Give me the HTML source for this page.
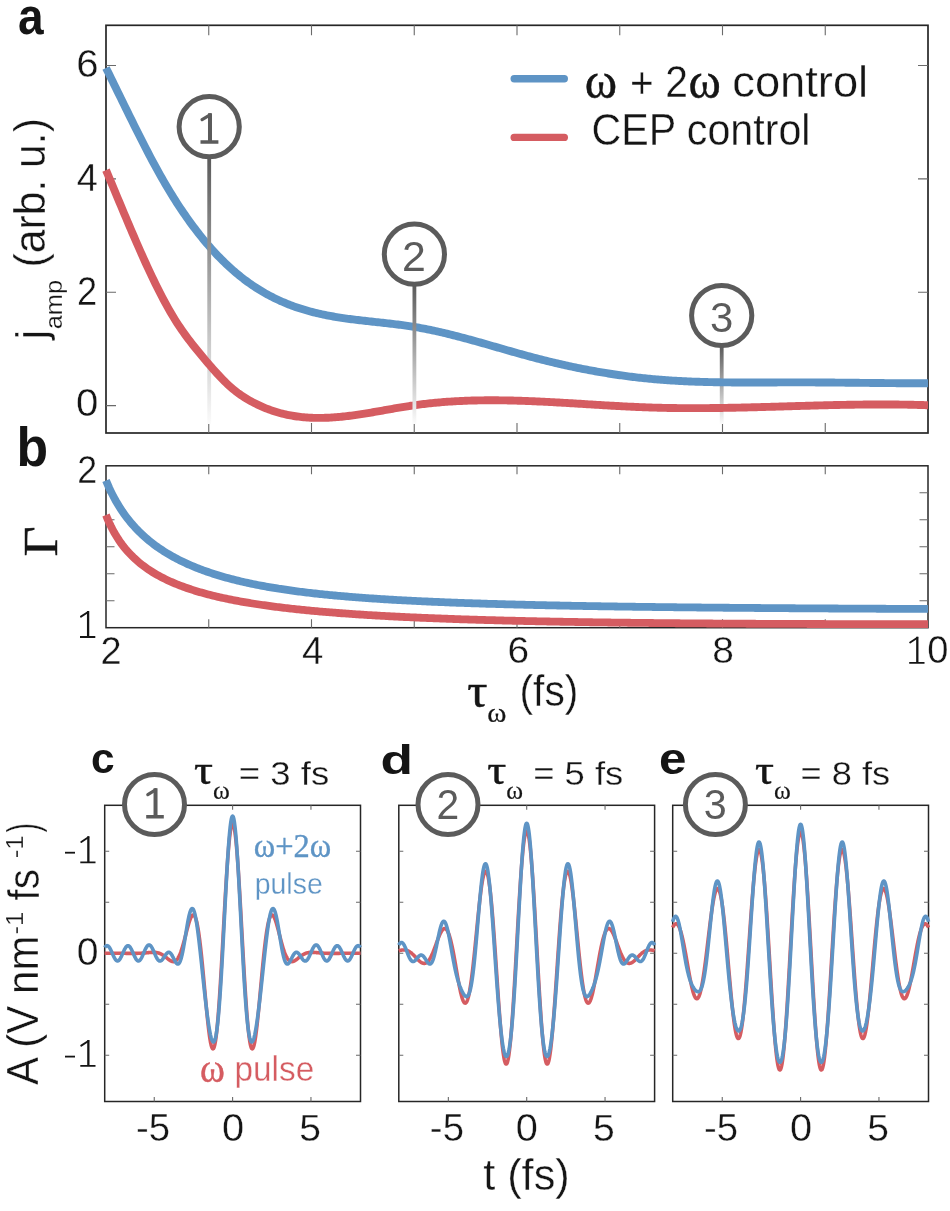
<!DOCTYPE html>
<html><head><meta charset="utf-8"><title>figure</title>
<style>html,body{margin:0;padding:0;background:#fff;width:950px;height:1211px;overflow:hidden}svg{display:block}</style>
</head><body>
<svg width="950" height="1211" viewBox="0 0 950 1211">
<defs>
<filter id="nf"><feOffset dx="0" dy="0"/></filter>
<linearGradient id="stemA" x1="0" y1="0" x2="0" y2="1"><stop offset="0" stop-color="#5b5b5b"/><stop offset="1" stop-color="#fbfbfb"/></linearGradient>
<clipPath id="clipc"><rect x="102.7" y="805.3" width="259.8" height="296.3"/></clipPath>
<clipPath id="clipd"><rect x="396.8" y="805.3" width="259.8" height="296.3"/></clipPath>
<clipPath id="clipe"><rect x="670.7" y="805.3" width="259.8" height="296.3"/></clipPath>
</defs>
<rect x="0" y="0" width="950" height="1211" fill="#fff"/>
<rect x="106.0" y="25.3" width="822.0" height="407.7" fill="none" stroke="#262626" stroke-width="1.7"/>
<path d="M208.75 25.3 v10 M208.75 433.0 v-10 M311.50 25.3 v10 M311.50 433.0 v-10 M414.25 25.3 v10 M414.25 433.0 v-10 M517.00 25.3 v10 M517.00 433.0 v-10 M619.75 25.3 v10 M619.75 433.0 v-10 M722.50 25.3 v10 M722.50 433.0 v-10 M825.25 25.3 v10 M825.25 433.0 v-10 M106.0 405.60 h10 M928.0 405.60 h-10 M106.0 292.23 h10 M928.0 292.23 h-10 M106.0 178.87 h10 M928.0 178.87 h-10 M106.0 65.50 h10 M928.0 65.50 h-10" stroke="#6a6a6a" stroke-width="1.1" fill="none"/>
<rect x="719.80" y="346.50" width="3.8" height="77.50" fill="url(#stemA)"/>
<path d="M 106.00 67.94 L 107.65 71.27 L 109.29 74.60 L 110.94 77.95 L 112.59 81.30 L 114.24 84.66 L 115.88 88.02 L 117.53 91.39 L 119.18 94.76 L 120.83 98.13 L 122.47 101.50 L 124.12 104.87 L 125.77 108.23 L 127.41 111.59 L 129.06 114.94 L 130.71 118.28 L 132.36 121.62 L 134.00 124.94 L 135.65 128.25 L 137.30 131.54 L 138.95 134.82 L 140.59 138.08 L 142.24 141.33 L 143.89 144.55 L 145.54 147.75 L 147.18 150.93 L 148.83 154.09 L 150.48 157.22 L 152.12 160.32 L 153.77 163.39 L 155.42 166.43 L 157.07 169.44 L 158.71 172.42 L 160.36 175.36 L 162.01 178.27 L 163.66 181.14 L 165.30 183.97 L 166.95 186.76 L 168.60 189.52 L 170.24 192.24 L 171.89 194.93 L 173.54 197.57 L 175.19 200.18 L 176.83 202.76 L 178.48 205.29 L 180.13 207.80 L 181.78 210.26 L 183.42 212.70 L 185.07 215.09 L 186.72 217.45 L 188.36 219.78 L 190.01 222.07 L 191.66 224.33 L 193.31 226.55 L 194.95 228.74 L 196.60 230.90 L 198.25 233.02 L 199.90 235.10 L 201.54 237.16 L 203.19 239.18 L 204.84 241.17 L 206.48 243.12 L 208.13 245.05 L 209.78 246.94 L 211.43 248.80 L 213.07 250.62 L 214.72 252.42 L 216.37 254.18 L 218.02 255.91 L 219.66 257.61 L 221.31 259.28 L 222.96 260.92 L 224.61 262.53 L 226.25 264.11 L 227.90 265.65 L 229.55 267.17 L 231.19 268.66 L 232.84 270.11 L 234.49 271.54 L 236.14 272.94 L 237.78 274.31 L 239.43 275.66 L 241.08 276.97 L 242.73 278.26 L 244.37 279.52 L 246.02 280.75 L 247.67 281.96 L 249.31 283.14 L 250.96 284.29 L 252.61 285.42 L 254.26 286.52 L 255.90 287.60 L 257.55 288.66 L 259.20 289.69 L 260.85 290.69 L 262.49 291.68 L 264.14 292.64 L 265.79 293.57 L 267.43 294.49 L 269.08 295.38 L 270.73 296.25 L 272.38 297.10 L 274.02 297.93 L 275.67 298.73 L 277.32 299.52 L 278.97 300.29 L 280.61 301.03 L 282.26 301.76 L 283.91 302.47 L 285.56 303.16 L 287.20 303.83 L 288.85 304.48 L 290.50 305.12 L 292.14 305.73 L 293.79 306.34 L 295.44 306.92 L 297.09 307.49 L 298.73 308.04 L 300.38 308.57 L 302.03 309.09 L 303.68 309.60 L 305.32 310.09 L 306.97 310.57 L 308.62 311.03 L 310.26 311.48 L 311.91 311.91 L 313.56 312.33 L 315.21 312.74 L 316.85 313.14 L 318.50 313.53 L 320.15 313.90 L 321.80 314.26 L 323.44 314.61 L 325.09 314.95 L 326.74 315.28 L 328.38 315.60 L 330.03 315.91 L 331.68 316.21 L 333.33 316.51 L 334.97 316.79 L 336.62 317.06 L 338.27 317.33 L 339.92 317.59 L 341.56 317.84 L 343.21 318.09 L 344.86 318.33 L 346.51 318.56 L 348.15 318.79 L 349.80 319.01 L 351.45 319.22 L 353.09 319.44 L 354.74 319.64 L 356.39 319.84 L 358.04 320.04 L 359.68 320.24 L 361.33 320.43 L 362.98 320.62 L 364.63 320.80 L 366.27 320.99 L 367.92 321.17 L 369.57 321.35 L 371.21 321.53 L 372.86 321.71 L 374.51 321.88 L 376.16 322.06 L 377.80 322.24 L 379.45 322.42 L 381.10 322.60 L 382.75 322.78 L 384.39 322.96 L 386.04 323.14 L 387.69 323.33 L 389.33 323.52 L 390.98 323.71 L 392.63 323.90 L 394.28 324.10 L 395.92 324.30 L 397.57 324.51 L 399.22 324.72 L 400.87 324.93 L 402.51 325.16 L 404.16 325.38 L 405.81 325.61 L 407.45 325.85 L 409.10 326.10 L 410.75 326.35 L 412.40 326.61 L 414.04 326.87 L 415.69 327.15 L 417.34 327.43 L 418.99 327.72 L 420.63 328.02 L 422.28 328.32 L 423.93 328.64 L 425.58 328.96 L 427.22 329.28 L 428.87 329.62 L 430.52 329.96 L 432.16 330.30 L 433.81 330.65 L 435.46 331.01 L 437.11 331.38 L 438.75 331.75 L 440.40 332.12 L 442.05 332.50 L 443.70 332.89 L 445.34 333.28 L 446.99 333.68 L 448.64 334.08 L 450.28 334.49 L 451.93 334.90 L 453.58 335.31 L 455.23 335.73 L 456.87 336.15 L 458.52 336.58 L 460.17 337.01 L 461.82 337.45 L 463.46 337.89 L 465.11 338.33 L 466.76 338.77 L 468.40 339.22 L 470.05 339.67 L 471.70 340.12 L 473.35 340.58 L 474.99 341.03 L 476.64 341.49 L 478.29 341.96 L 479.94 342.42 L 481.58 342.89 L 483.23 343.35 L 484.88 343.82 L 486.53 344.29 L 488.17 344.76 L 489.82 345.23 L 491.47 345.70 L 493.11 346.18 L 494.76 346.65 L 496.41 347.12 L 498.06 347.60 L 499.70 348.07 L 501.35 348.54 L 503.00 349.02 L 504.65 349.49 L 506.29 349.96 L 507.94 350.43 L 509.59 350.90 L 511.23 351.37 L 512.88 351.84 L 514.53 352.30 L 516.18 352.77 L 517.82 353.23 L 519.47 353.69 L 521.12 354.15 L 522.77 354.60 L 524.41 355.06 L 526.06 355.51 L 527.71 355.96 L 529.35 356.40 L 531.00 356.84 L 532.65 357.28 L 534.30 357.72 L 535.94 358.15 L 537.59 358.58 L 539.24 359.01 L 540.89 359.43 L 542.53 359.84 L 544.18 360.26 L 545.83 360.67 L 547.47 361.08 L 549.12 361.48 L 550.77 361.88 L 552.42 362.28 L 554.06 362.67 L 555.71 363.06 L 557.36 363.44 L 559.01 363.82 L 560.65 364.20 L 562.30 364.58 L 563.95 364.95 L 565.60 365.31 L 567.24 365.67 L 568.89 366.03 L 570.54 366.39 L 572.18 366.74 L 573.83 367.09 L 575.48 367.43 L 577.13 367.77 L 578.77 368.11 L 580.42 368.44 L 582.07 368.77 L 583.72 369.09 L 585.36 369.41 L 587.01 369.73 L 588.66 370.04 L 590.30 370.35 L 591.95 370.65 L 593.60 370.95 L 595.25 371.25 L 596.89 371.54 L 598.54 371.83 L 600.19 372.12 L 601.84 372.40 L 603.48 372.68 L 605.13 372.95 L 606.78 373.22 L 608.42 373.48 L 610.07 373.74 L 611.72 374.00 L 613.37 374.25 L 615.01 374.50 L 616.66 374.75 L 618.31 374.99 L 619.96 375.22 L 621.60 375.46 L 623.25 375.68 L 624.90 375.91 L 626.55 376.13 L 628.19 376.34 L 629.84 376.56 L 631.49 376.76 L 633.13 376.97 L 634.78 377.17 L 636.43 377.36 L 638.08 377.55 L 639.72 377.74 L 641.37 377.92 L 643.02 378.10 L 644.67 378.27 L 646.31 378.44 L 647.96 378.60 L 649.61 378.77 L 651.25 378.92 L 652.90 379.07 L 654.55 379.22 L 656.20 379.36 L 657.84 379.50 L 659.49 379.64 L 661.14 379.77 L 662.79 379.90 L 664.43 380.02 L 666.08 380.14 L 667.73 380.26 L 669.37 380.37 L 671.02 380.48 L 672.67 380.58 L 674.32 380.68 L 675.96 380.78 L 677.61 380.88 L 679.26 380.97 L 680.91 381.05 L 682.55 381.14 L 684.20 381.22 L 685.85 381.30 L 687.49 381.37 L 689.14 381.45 L 690.79 381.51 L 692.44 381.58 L 694.08 381.64 L 695.73 381.70 L 697.38 381.76 L 699.03 381.82 L 700.67 381.87 L 702.32 381.92 L 703.97 381.96 L 705.62 382.01 L 707.26 382.05 L 708.91 382.09 L 710.56 382.13 L 712.20 382.16 L 713.85 382.20 L 715.50 382.23 L 717.15 382.26 L 718.79 382.29 L 720.44 382.31 L 722.09 382.33 L 723.74 382.36 L 725.38 382.38 L 727.03 382.39 L 728.68 382.41 L 730.32 382.42 L 731.97 382.44 L 733.62 382.45 L 735.27 382.46 L 736.91 382.47 L 738.56 382.48 L 740.21 382.48 L 741.86 382.49 L 743.50 382.49 L 745.15 382.50 L 746.80 382.50 L 748.44 382.50 L 750.09 382.50 L 751.74 382.50 L 753.39 382.50 L 755.03 382.50 L 756.68 382.49 L 758.33 382.49 L 759.98 382.49 L 761.62 382.48 L 763.27 382.48 L 764.92 382.47 L 766.57 382.47 L 768.21 382.46 L 769.86 382.45 L 771.51 382.45 L 773.15 382.44 L 774.80 382.44 L 776.45 382.43 L 778.10 382.42 L 779.74 382.42 L 781.39 382.41 L 783.04 382.41 L 784.69 382.40 L 786.33 382.40 L 787.98 382.39 L 789.63 382.39 L 791.27 382.39 L 792.92 382.38 L 794.57 382.38 L 796.22 382.38 L 797.86 382.38 L 799.51 382.38 L 801.16 382.38 L 802.81 382.38 L 804.45 382.39 L 806.10 382.39 L 807.75 382.40 L 809.39 382.40 L 811.04 382.41 L 812.69 382.41 L 814.34 382.42 L 815.98 382.43 L 817.63 382.44 L 819.28 382.45 L 820.93 382.46 L 822.57 382.47 L 824.22 382.48 L 825.87 382.50 L 827.52 382.51 L 829.16 382.52 L 830.81 382.53 L 832.46 382.55 L 834.10 382.56 L 835.75 382.58 L 837.40 382.59 L 839.05 382.61 L 840.69 382.63 L 842.34 382.64 L 843.99 382.66 L 845.64 382.68 L 847.28 382.69 L 848.93 382.71 L 850.58 382.73 L 852.22 382.74 L 853.87 382.76 L 855.52 382.78 L 857.17 382.80 L 858.81 382.82 L 860.46 382.83 L 862.11 382.85 L 863.76 382.87 L 865.40 382.89 L 867.05 382.90 L 868.70 382.92 L 870.34 382.94 L 871.99 382.96 L 873.64 382.97 L 875.29 382.99 L 876.93 383.01 L 878.58 383.02 L 880.23 383.04 L 881.88 383.06 L 883.52 383.07 L 885.17 383.09 L 886.82 383.10 L 888.46 383.11 L 890.11 383.13 L 891.76 383.14 L 893.41 383.15 L 895.05 383.17 L 896.70 383.18 L 898.35 383.19 L 900.00 383.20 L 901.64 383.21 L 903.29 383.22 L 904.94 383.23 L 906.59 383.24 L 908.23 383.24 L 909.88 383.25 L 911.53 383.25 L 913.17 383.26 L 914.82 383.26 L 916.47 383.27 L 918.12 383.27 L 919.76 383.27 L 921.41 383.27 L 923.06 383.27 L 924.71 383.27 L 926.35 383.27 L 928.00 383.26" stroke="#5e94c5" stroke-width="7.9" fill="none"/>
<rect x="207.30" y="157.70" width="3.8" height="266.30" fill="url(#stemA)"/>
<path d="M 106.00 170.12 L 107.65 174.04 L 109.29 177.97 L 110.94 181.90 L 112.59 185.84 L 114.24 189.78 L 115.88 193.73 L 117.53 197.67 L 119.18 201.61 L 120.83 205.55 L 122.47 209.48 L 124.12 213.41 L 125.77 217.32 L 127.41 221.22 L 129.06 225.11 L 130.71 228.98 L 132.36 232.83 L 134.00 236.66 L 135.65 240.47 L 137.30 244.26 L 138.95 248.02 L 140.59 251.75 L 142.24 255.45 L 143.89 259.11 L 145.54 262.75 L 147.18 266.34 L 148.83 269.90 L 150.48 273.42 L 152.12 276.89 L 153.77 280.32 L 155.42 283.71 L 157.07 287.04 L 158.71 290.33 L 160.36 293.56 L 162.01 296.74 L 163.66 299.86 L 165.30 302.92 L 166.95 305.93 L 168.60 308.87 L 170.24 311.74 L 171.89 314.55 L 173.54 317.29 L 175.19 319.96 L 176.83 322.56 L 178.48 325.09 L 180.13 327.55 L 181.78 329.96 L 183.42 332.31 L 185.07 334.61 L 186.72 336.86 L 188.36 339.06 L 190.01 341.22 L 191.66 343.35 L 193.31 345.45 L 194.95 347.51 L 196.60 349.55 L 198.25 351.58 L 199.90 353.58 L 201.54 355.57 L 203.19 357.54 L 204.84 359.51 L 206.48 361.45 L 208.13 363.38 L 209.78 365.30 L 211.43 367.19 L 213.07 369.06 L 214.72 370.91 L 216.37 372.73 L 218.02 374.53 L 219.66 376.29 L 221.31 378.01 L 222.96 379.70 L 224.61 381.35 L 226.25 382.96 L 227.90 384.52 L 229.55 386.04 L 231.19 387.51 L 232.84 388.92 L 234.49 390.28 L 236.14 391.58 L 237.78 392.83 L 239.43 394.03 L 241.08 395.18 L 242.73 396.29 L 244.37 397.35 L 246.02 398.38 L 247.67 399.37 L 249.31 400.32 L 250.96 401.25 L 252.61 402.15 L 254.26 403.01 L 255.90 403.85 L 257.55 404.66 L 259.20 405.44 L 260.85 406.20 L 262.49 406.92 L 264.14 407.62 L 265.79 408.29 L 267.43 408.94 L 269.08 409.56 L 270.73 410.15 L 272.38 410.72 L 274.02 411.27 L 275.67 411.79 L 277.32 412.29 L 278.97 412.76 L 280.61 413.21 L 282.26 413.63 L 283.91 414.04 L 285.56 414.42 L 287.20 414.78 L 288.85 415.12 L 290.50 415.43 L 292.14 415.73 L 293.79 416.00 L 295.44 416.26 L 297.09 416.49 L 298.73 416.71 L 300.38 416.91 L 302.03 417.08 L 303.68 417.24 L 305.32 417.39 L 306.97 417.51 L 308.62 417.62 L 310.26 417.71 L 311.91 417.78 L 313.56 417.84 L 315.21 417.88 L 316.85 417.91 L 318.50 417.92 L 320.15 417.92 L 321.80 417.90 L 323.44 417.87 L 325.09 417.82 L 326.74 417.76 L 328.38 417.69 L 330.03 417.61 L 331.68 417.51 L 333.33 417.41 L 334.97 417.29 L 336.62 417.16 L 338.27 417.02 L 339.92 416.87 L 341.56 416.71 L 343.21 416.54 L 344.86 416.36 L 346.51 416.17 L 348.15 415.97 L 349.80 415.77 L 351.45 415.55 L 353.09 415.33 L 354.74 415.11 L 356.39 414.87 L 358.04 414.63 L 359.68 414.39 L 361.33 414.13 L 362.98 413.88 L 364.63 413.62 L 366.27 413.35 L 367.92 413.08 L 369.57 412.80 L 371.21 412.53 L 372.86 412.25 L 374.51 411.96 L 376.16 411.68 L 377.80 411.39 L 379.45 411.10 L 381.10 410.81 L 382.75 410.52 L 384.39 410.23 L 386.04 409.93 L 387.69 409.64 L 389.33 409.35 L 390.98 409.06 L 392.63 408.77 L 394.28 408.48 L 395.92 408.20 L 397.57 407.92 L 399.22 407.64 L 400.87 407.36 L 402.51 407.09 L 404.16 406.82 L 405.81 406.55 L 407.45 406.29 L 409.10 406.03 L 410.75 405.78 L 412.40 405.54 L 414.04 405.30 L 415.69 405.07 L 417.34 404.84 L 418.99 404.62 L 420.63 404.41 L 422.28 404.20 L 423.93 404.00 L 425.58 403.80 L 427.22 403.62 L 428.87 403.43 L 430.52 403.26 L 432.16 403.08 L 433.81 402.92 L 435.46 402.76 L 437.11 402.60 L 438.75 402.46 L 440.40 402.31 L 442.05 402.18 L 443.70 402.04 L 445.34 401.92 L 446.99 401.79 L 448.64 401.68 L 450.28 401.57 L 451.93 401.46 L 453.58 401.36 L 455.23 401.26 L 456.87 401.17 L 458.52 401.09 L 460.17 401.01 L 461.82 400.93 L 463.46 400.86 L 465.11 400.79 L 466.76 400.73 L 468.40 400.67 L 470.05 400.61 L 471.70 400.56 L 473.35 400.52 L 474.99 400.48 L 476.64 400.44 L 478.29 400.41 L 479.94 400.38 L 481.58 400.35 L 483.23 400.33 L 484.88 400.32 L 486.53 400.30 L 488.17 400.29 L 489.82 400.29 L 491.47 400.28 L 493.11 400.29 L 494.76 400.29 L 496.41 400.30 L 498.06 400.31 L 499.70 400.33 L 501.35 400.34 L 503.00 400.36 L 504.65 400.39 L 506.29 400.42 L 507.94 400.45 L 509.59 400.48 L 511.23 400.52 L 512.88 400.56 L 514.53 400.60 L 516.18 400.64 L 517.82 400.69 L 519.47 400.74 L 521.12 400.79 L 522.77 400.85 L 524.41 400.90 L 526.06 400.96 L 527.71 401.02 L 529.35 401.09 L 531.00 401.15 L 532.65 401.22 L 534.30 401.29 L 535.94 401.36 L 537.59 401.44 L 539.24 401.51 L 540.89 401.59 L 542.53 401.67 L 544.18 401.75 L 545.83 401.83 L 547.47 401.92 L 549.12 402.00 L 550.77 402.09 L 552.42 402.18 L 554.06 402.26 L 555.71 402.35 L 557.36 402.45 L 559.01 402.54 L 560.65 402.63 L 562.30 402.73 L 563.95 402.82 L 565.60 402.92 L 567.24 403.02 L 568.89 403.11 L 570.54 403.21 L 572.18 403.31 L 573.83 403.41 L 575.48 403.51 L 577.13 403.61 L 578.77 403.71 L 580.42 403.81 L 582.07 403.91 L 583.72 404.01 L 585.36 404.12 L 587.01 404.22 L 588.66 404.32 L 590.30 404.42 L 591.95 404.52 L 593.60 404.62 L 595.25 404.72 L 596.89 404.82 L 598.54 404.92 L 600.19 405.02 L 601.84 405.12 L 603.48 405.22 L 605.13 405.32 L 606.78 405.41 L 608.42 405.51 L 610.07 405.60 L 611.72 405.70 L 613.37 405.79 L 615.01 405.88 L 616.66 405.97 L 618.31 406.06 L 619.96 406.15 L 621.60 406.24 L 623.25 406.33 L 624.90 406.41 L 626.55 406.49 L 628.19 406.58 L 629.84 406.66 L 631.49 406.74 L 633.13 406.81 L 634.78 406.89 L 636.43 406.96 L 638.08 407.03 L 639.72 407.10 L 641.37 407.17 L 643.02 407.23 L 644.67 407.30 L 646.31 407.36 L 647.96 407.42 L 649.61 407.47 L 651.25 407.53 L 652.90 407.58 L 654.55 407.63 L 656.20 407.67 L 657.84 407.72 L 659.49 407.76 L 661.14 407.80 L 662.79 407.84 L 664.43 407.87 L 666.08 407.91 L 667.73 407.94 L 669.37 407.96 L 671.02 407.99 L 672.67 408.02 L 674.32 408.04 L 675.96 408.06 L 677.61 408.08 L 679.26 408.09 L 680.91 408.11 L 682.55 408.12 L 684.20 408.13 L 685.85 408.14 L 687.49 408.15 L 689.14 408.15 L 690.79 408.16 L 692.44 408.16 L 694.08 408.16 L 695.73 408.16 L 697.38 408.15 L 699.03 408.15 L 700.67 408.14 L 702.32 408.13 L 703.97 408.12 L 705.62 408.11 L 707.26 408.10 L 708.91 408.09 L 710.56 408.07 L 712.20 408.05 L 713.85 408.04 L 715.50 408.02 L 717.15 408.00 L 718.79 407.97 L 720.44 407.95 L 722.09 407.93 L 723.74 407.90 L 725.38 407.87 L 727.03 407.85 L 728.68 407.82 L 730.32 407.79 L 731.97 407.76 L 733.62 407.72 L 735.27 407.69 L 736.91 407.66 L 738.56 407.62 L 740.21 407.59 L 741.86 407.55 L 743.50 407.51 L 745.15 407.48 L 746.80 407.44 L 748.44 407.40 L 750.09 407.36 L 751.74 407.32 L 753.39 407.27 L 755.03 407.23 L 756.68 407.19 L 758.33 407.15 L 759.98 407.10 L 761.62 407.06 L 763.27 407.01 L 764.92 406.97 L 766.57 406.92 L 768.21 406.88 L 769.86 406.83 L 771.51 406.78 L 773.15 406.74 L 774.80 406.69 L 776.45 406.64 L 778.10 406.59 L 779.74 406.54 L 781.39 406.50 L 783.04 406.45 L 784.69 406.40 L 786.33 406.35 L 787.98 406.30 L 789.63 406.26 L 791.27 406.21 L 792.92 406.16 L 794.57 406.11 L 796.22 406.06 L 797.86 406.01 L 799.51 405.97 L 801.16 405.92 L 802.81 405.87 L 804.45 405.83 L 806.10 405.78 L 807.75 405.73 L 809.39 405.69 L 811.04 405.64 L 812.69 405.60 L 814.34 405.55 L 815.98 405.51 L 817.63 405.46 L 819.28 405.42 L 820.93 405.38 L 822.57 405.34 L 824.22 405.29 L 825.87 405.25 L 827.52 405.21 L 829.16 405.17 L 830.81 405.14 L 832.46 405.10 L 834.10 405.06 L 835.75 405.02 L 837.40 404.99 L 839.05 404.95 L 840.69 404.92 L 842.34 404.89 L 843.99 404.86 L 845.64 404.83 L 847.28 404.80 L 848.93 404.77 L 850.58 404.74 L 852.22 404.71 L 853.87 404.69 L 855.52 404.67 L 857.17 404.64 L 858.81 404.62 L 860.46 404.60 L 862.11 404.58 L 863.76 404.57 L 865.40 404.55 L 867.05 404.53 L 868.70 404.52 L 870.34 404.51 L 871.99 404.50 L 873.64 404.49 L 875.29 404.48 L 876.93 404.48 L 878.58 404.47 L 880.23 404.47 L 881.88 404.47 L 883.52 404.47 L 885.17 404.47 L 886.82 404.48 L 888.46 404.48 L 890.11 404.49 L 891.76 404.50 L 893.41 404.51 L 895.05 404.52 L 896.70 404.54 L 898.35 404.56 L 900.00 404.58 L 901.64 404.60 L 903.29 404.62 L 904.94 404.65 L 906.59 404.67 L 908.23 404.70 L 909.88 404.73 L 911.53 404.77 L 913.17 404.80 L 914.82 404.84 L 916.47 404.88 L 918.12 404.93 L 919.76 404.97 L 921.41 405.02 L 923.06 405.07 L 924.71 405.12 L 926.35 405.18 L 928.00 405.23" stroke="#d55c61" stroke-width="7.9" fill="none"/>
<rect x="412.50" y="285.20" width="3.8" height="138.80" fill="url(#stemA)"/>
<circle cx="209.2" cy="126.7" r="30.1" fill="#fff" stroke="#5b5b5b" stroke-width="5"/>
<circle cx="414.4" cy="254.2" r="30.1" fill="#fff" stroke="#5b5b5b" stroke-width="5"/>
<circle cx="721.7" cy="315.5" r="30.1" fill="#fff" stroke="#5b5b5b" stroke-width="5"/>
<path d="M514.2 78.7 H564.3" stroke="#5e94c5" stroke-width="7.4" stroke-linecap="round"/>
<path d="M514.2 137.4 H564.3" stroke="#d55c61" stroke-width="7.4" stroke-linecap="round"/>
<rect x="106.0" y="465.8" width="822.0" height="161.90000000000003" fill="none" stroke="#262626" stroke-width="1.5"/>
<path d="M208.75 465.8 v8.5 M208.75 627.7 v-8.5 M311.50 465.8 v8.5 M311.50 627.7 v-8.5 M414.25 465.8 v8.5 M414.25 627.7 v-8.5 M517.00 465.8 v8.5 M517.00 627.7 v-8.5 M619.75 465.8 v8.5 M619.75 627.7 v-8.5 M722.50 465.8 v8.5 M722.50 627.7 v-8.5 M825.25 465.8 v8.5 M825.25 627.7 v-8.5 M106.0 492.78 h8.5 M928.0 492.78 h-8.5 M106.0 519.77 h8.5 M928.0 519.77 h-8.5 M106.0 546.75 h8.5 M928.0 546.75 h-8.5 M106.0 573.73 h8.5 M928.0 573.73 h-8.5 M106.0 600.72 h8.5 M928.0 600.72 h-8.5" stroke="#6a6a6a" stroke-width="1.1" fill="none"/>
<path d="M 106.00 480.46 L 107.65 484.38 L 109.29 488.08 L 110.94 491.57 L 112.59 494.87 L 114.24 498.00 L 115.88 500.98 L 117.53 503.81 L 119.18 506.51 L 120.83 509.09 L 122.47 511.56 L 124.12 513.92 L 125.77 516.18 L 127.41 518.35 L 129.06 520.44 L 130.71 522.45 L 132.36 524.38 L 134.00 526.25 L 135.65 528.04 L 137.30 529.77 L 138.95 531.45 L 140.59 533.07 L 142.24 534.63 L 143.89 536.15 L 145.54 537.62 L 147.18 539.04 L 148.83 540.42 L 150.48 541.75 L 152.12 543.05 L 153.77 544.31 L 155.42 545.54 L 157.07 546.73 L 158.71 547.88 L 160.36 549.01 L 162.01 550.10 L 163.66 551.17 L 165.30 552.21 L 166.95 553.22 L 168.60 554.20 L 170.24 555.16 L 171.89 556.10 L 173.54 557.02 L 175.19 557.91 L 176.83 558.78 L 178.48 559.63 L 180.13 560.46 L 181.78 561.27 L 183.42 562.06 L 185.07 562.83 L 186.72 563.59 L 188.36 564.33 L 190.01 565.05 L 191.66 565.76 L 193.31 566.45 L 194.95 567.12 L 196.60 567.79 L 198.25 568.43 L 199.90 569.07 L 201.54 569.69 L 203.19 570.30 L 204.84 570.89 L 206.48 571.48 L 208.13 572.05 L 209.78 572.61 L 211.43 573.16 L 213.07 573.70 L 214.72 574.23 L 216.37 574.74 L 218.02 575.25 L 219.66 575.75 L 221.31 576.24 L 222.96 576.71 L 224.61 577.18 L 226.25 577.64 L 227.90 578.10 L 229.55 578.54 L 231.19 578.98 L 232.84 579.40 L 234.49 579.82 L 236.14 580.23 L 237.78 580.64 L 239.43 581.04 L 241.08 581.43 L 242.73 581.81 L 244.37 582.18 L 246.02 582.55 L 247.67 582.92 L 249.31 583.27 L 250.96 583.62 L 252.61 583.97 L 254.26 584.30 L 255.90 584.64 L 257.55 584.96 L 259.20 585.28 L 260.85 585.60 L 262.49 585.91 L 264.14 586.21 L 265.79 586.51 L 267.43 586.80 L 269.08 587.09 L 270.73 587.38 L 272.38 587.66 L 274.02 587.93 L 275.67 588.20 L 277.32 588.46 L 278.97 588.73 L 280.61 588.98 L 282.26 589.23 L 283.91 589.48 L 285.56 589.72 L 287.20 589.96 L 288.85 590.20 L 290.50 590.43 L 292.14 590.66 L 293.79 590.88 L 295.44 591.10 L 297.09 591.32 L 298.73 591.54 L 300.38 591.75 L 302.03 591.95 L 303.68 592.16 L 305.32 592.36 L 306.97 592.56 L 308.62 592.75 L 310.26 592.94 L 311.91 593.13 L 313.56 593.32 L 315.21 593.50 L 316.85 593.68 L 318.50 593.86 L 320.15 594.03 L 321.80 594.20 L 323.44 594.37 L 325.09 594.54 L 326.74 594.71 L 328.38 594.87 L 330.03 595.03 L 331.68 595.19 L 333.33 595.34 L 334.97 595.50 L 336.62 595.65 L 338.27 595.80 L 339.92 595.94 L 341.56 596.09 L 343.21 596.23 L 344.86 596.37 L 346.51 596.51 L 348.15 596.65 L 349.80 596.78 L 351.45 596.92 L 353.09 597.05 L 354.74 597.18 L 356.39 597.31 L 358.04 597.43 L 359.68 597.56 L 361.33 597.68 L 362.98 597.80 L 364.63 597.92 L 366.27 598.04 L 367.92 598.16 L 369.57 598.27 L 371.21 598.38 L 372.86 598.50 L 374.51 598.61 L 376.16 598.72 L 377.80 598.82 L 379.45 598.93 L 381.10 599.04 L 382.75 599.14 L 384.39 599.24 L 386.04 599.34 L 387.69 599.44 L 389.33 599.54 L 390.98 599.64 L 392.63 599.74 L 394.28 599.83 L 395.92 599.93 L 397.57 600.02 L 399.22 600.11 L 400.87 600.20 L 402.51 600.29 L 404.16 600.38 L 405.81 600.47 L 407.45 600.55 L 409.10 600.64 L 410.75 600.72 L 412.40 600.81 L 414.04 600.89 L 415.69 600.97 L 417.34 601.05 L 418.99 601.13 L 420.63 601.21 L 422.28 601.29 L 423.93 601.36 L 425.58 601.44 L 427.22 601.51 L 428.87 601.59 L 430.52 601.66 L 432.16 601.73 L 433.81 601.81 L 435.46 601.88 L 437.11 601.95 L 438.75 602.02 L 440.40 602.08 L 442.05 602.15 L 443.70 602.22 L 445.34 602.29 L 446.99 602.35 L 448.64 602.42 L 450.28 602.48 L 451.93 602.54 L 453.58 602.61 L 455.23 602.67 L 456.87 602.73 L 458.52 602.79 L 460.17 602.85 L 461.82 602.91 L 463.46 602.97 L 465.11 603.03 L 466.76 603.08 L 468.40 603.14 L 470.05 603.20 L 471.70 603.25 L 473.35 603.31 L 474.99 603.36 L 476.64 603.42 L 478.29 603.47 L 479.94 603.52 L 481.58 603.58 L 483.23 603.63 L 484.88 603.68 L 486.53 603.73 L 488.17 603.78 L 489.82 603.83 L 491.47 603.88 L 493.11 603.93 L 494.76 603.97 L 496.41 604.02 L 498.06 604.07 L 499.70 604.12 L 501.35 604.16 L 503.00 604.21 L 504.65 604.25 L 506.29 604.30 L 507.94 604.34 L 509.59 604.39 L 511.23 604.43 L 512.88 604.47 L 514.53 604.52 L 516.18 604.56 L 517.82 604.60 L 519.47 604.64 L 521.12 604.68 L 522.77 604.72 L 524.41 604.76 L 526.06 604.80 L 527.71 604.84 L 529.35 604.88 L 531.00 604.92 L 532.65 604.96 L 534.30 605.00 L 535.94 605.03 L 537.59 605.07 L 539.24 605.11 L 540.89 605.14 L 542.53 605.18 L 544.18 605.22 L 545.83 605.25 L 547.47 605.29 L 549.12 605.32 L 550.77 605.36 L 552.42 605.39 L 554.06 605.42 L 555.71 605.46 L 557.36 605.49 L 559.01 605.52 L 560.65 605.56 L 562.30 605.59 L 563.95 605.62 L 565.60 605.65 L 567.24 605.69 L 568.89 605.72 L 570.54 605.75 L 572.18 605.78 L 573.83 605.81 L 575.48 605.84 L 577.13 605.87 L 578.77 605.90 L 580.42 605.93 L 582.07 605.96 L 583.72 605.98 L 585.36 606.01 L 587.01 606.04 L 588.66 606.07 L 590.30 606.10 L 591.95 606.12 L 593.60 606.15 L 595.25 606.18 L 596.89 606.21 L 598.54 606.23 L 600.19 606.26 L 601.84 606.28 L 603.48 606.31 L 605.13 606.34 L 606.78 606.36 L 608.42 606.39 L 610.07 606.41 L 611.72 606.44 L 613.37 606.46 L 615.01 606.49 L 616.66 606.51 L 618.31 606.53 L 619.96 606.56 L 621.60 606.58 L 623.25 606.60 L 624.90 606.63 L 626.55 606.65 L 628.19 606.67 L 629.84 606.70 L 631.49 606.72 L 633.13 606.74 L 634.78 606.76 L 636.43 606.78 L 638.08 606.81 L 639.72 606.83 L 641.37 606.85 L 643.02 606.87 L 644.67 606.89 L 646.31 606.91 L 647.96 606.93 L 649.61 606.95 L 651.25 606.97 L 652.90 606.99 L 654.55 607.01 L 656.20 607.03 L 657.84 607.05 L 659.49 607.07 L 661.14 607.09 L 662.79 607.11 L 664.43 607.13 L 666.08 607.15 L 667.73 607.17 L 669.37 607.19 L 671.02 607.21 L 672.67 607.22 L 674.32 607.24 L 675.96 607.26 L 677.61 607.28 L 679.26 607.30 L 680.91 607.31 L 682.55 607.33 L 684.20 607.35 L 685.85 607.37 L 687.49 607.38 L 689.14 607.40 L 690.79 607.42 L 692.44 607.43 L 694.08 607.45 L 695.73 607.47 L 697.38 607.48 L 699.03 607.50 L 700.67 607.51 L 702.32 607.53 L 703.97 607.55 L 705.62 607.56 L 707.26 607.58 L 708.91 607.59 L 710.56 607.61 L 712.20 607.62 L 713.85 607.64 L 715.50 607.65 L 717.15 607.67 L 718.79 607.68 L 720.44 607.70 L 722.09 607.71 L 723.74 607.73 L 725.38 607.74 L 727.03 607.76 L 728.68 607.77 L 730.32 607.78 L 731.97 607.80 L 733.62 607.81 L 735.27 607.83 L 736.91 607.84 L 738.56 607.85 L 740.21 607.87 L 741.86 607.88 L 743.50 607.89 L 745.15 607.91 L 746.80 607.92 L 748.44 607.93 L 750.09 607.95 L 751.74 607.96 L 753.39 607.97 L 755.03 607.98 L 756.68 608.00 L 758.33 608.01 L 759.98 608.02 L 761.62 608.03 L 763.27 608.05 L 764.92 608.06 L 766.57 608.07 L 768.21 608.08 L 769.86 608.09 L 771.51 608.11 L 773.15 608.12 L 774.80 608.13 L 776.45 608.14 L 778.10 608.15 L 779.74 608.16 L 781.39 608.18 L 783.04 608.19 L 784.69 608.20 L 786.33 608.21 L 787.98 608.22 L 789.63 608.23 L 791.27 608.24 L 792.92 608.25 L 794.57 608.26 L 796.22 608.28 L 797.86 608.29 L 799.51 608.30 L 801.16 608.31 L 802.81 608.32 L 804.45 608.33 L 806.10 608.34 L 807.75 608.35 L 809.39 608.36 L 811.04 608.37 L 812.69 608.38 L 814.34 608.39 L 815.98 608.40 L 817.63 608.41 L 819.28 608.42 L 820.93 608.43 L 822.57 608.44 L 824.22 608.45 L 825.87 608.46 L 827.52 608.47 L 829.16 608.48 L 830.81 608.49 L 832.46 608.50 L 834.10 608.51 L 835.75 608.51 L 837.40 608.52 L 839.05 608.53 L 840.69 608.54 L 842.34 608.55 L 843.99 608.56 L 845.64 608.57 L 847.28 608.58 L 848.93 608.59 L 850.58 608.60 L 852.22 608.60 L 853.87 608.61 L 855.52 608.62 L 857.17 608.63 L 858.81 608.64 L 860.46 608.65 L 862.11 608.66 L 863.76 608.66 L 865.40 608.67 L 867.05 608.68 L 868.70 608.69 L 870.34 608.70 L 871.99 608.71 L 873.64 608.71 L 875.29 608.72 L 876.93 608.73 L 878.58 608.74 L 880.23 608.75 L 881.88 608.75 L 883.52 608.76 L 885.17 608.77 L 886.82 608.78 L 888.46 608.79 L 890.11 608.79 L 891.76 608.80 L 893.41 608.81 L 895.05 608.82 L 896.70 608.82 L 898.35 608.83 L 900.00 608.84 L 901.64 608.85 L 903.29 608.85 L 904.94 608.86 L 906.59 608.87 L 908.23 608.88 L 909.88 608.88 L 911.53 608.89 L 913.17 608.90 L 914.82 608.91 L 916.47 608.91 L 918.12 608.92 L 919.76 608.93 L 921.41 608.93 L 923.06 608.94 L 924.71 608.95 L 926.35 608.96 L 928.00 608.96" stroke="#5e94c5" stroke-width="7.8" fill="none"/>
<path d="M 106.00 515.08 L 107.65 519.11 L 109.29 522.84 L 110.94 526.30 L 112.59 529.52 L 114.24 532.53 L 115.88 535.35 L 117.53 538.00 L 119.18 540.50 L 120.83 542.86 L 122.47 545.09 L 124.12 547.21 L 125.77 549.22 L 127.41 551.13 L 129.06 552.95 L 130.71 554.69 L 132.36 556.36 L 134.00 557.95 L 135.65 559.47 L 137.30 560.93 L 138.95 562.34 L 140.59 563.68 L 142.24 564.98 L 143.89 566.23 L 145.54 567.44 L 147.18 568.60 L 148.83 569.72 L 150.48 570.80 L 152.12 571.85 L 153.77 572.86 L 155.42 573.84 L 157.07 574.79 L 158.71 575.71 L 160.36 576.61 L 162.01 577.47 L 163.66 578.31 L 165.30 579.13 L 166.95 579.92 L 168.60 580.69 L 170.24 581.44 L 171.89 582.17 L 173.54 582.88 L 175.19 583.58 L 176.83 584.25 L 178.48 584.91 L 180.13 585.55 L 181.78 586.17 L 183.42 586.78 L 185.07 587.37 L 186.72 587.95 L 188.36 588.52 L 190.01 589.07 L 191.66 589.61 L 193.31 590.14 L 194.95 590.66 L 196.60 591.16 L 198.25 591.66 L 199.90 592.14 L 201.54 592.61 L 203.19 593.08 L 204.84 593.53 L 206.48 593.97 L 208.13 594.41 L 209.78 594.83 L 211.43 595.25 L 213.07 595.66 L 214.72 596.06 L 216.37 596.45 L 218.02 596.84 L 219.66 597.22 L 221.31 597.59 L 222.96 597.95 L 224.61 598.31 L 226.25 598.66 L 227.90 599.00 L 229.55 599.34 L 231.19 599.67 L 232.84 600.00 L 234.49 600.32 L 236.14 600.63 L 237.78 600.94 L 239.43 601.24 L 241.08 601.54 L 242.73 601.83 L 244.37 602.12 L 246.02 602.41 L 247.67 602.68 L 249.31 602.96 L 250.96 603.23 L 252.61 603.49 L 254.26 603.75 L 255.90 604.01 L 257.55 604.26 L 259.20 604.51 L 260.85 604.75 L 262.49 604.99 L 264.14 605.23 L 265.79 605.46 L 267.43 605.69 L 269.08 605.92 L 270.73 606.14 L 272.38 606.36 L 274.02 606.58 L 275.67 606.79 L 277.32 607.00 L 278.97 607.20 L 280.61 607.41 L 282.26 607.61 L 283.91 607.80 L 285.56 608.00 L 287.20 608.19 L 288.85 608.38 L 290.50 608.56 L 292.14 608.75 L 293.79 608.93 L 295.44 609.11 L 297.09 609.28 L 298.73 609.46 L 300.38 609.63 L 302.03 609.79 L 303.68 609.96 L 305.32 610.13 L 306.97 610.29 L 308.62 610.45 L 310.26 610.60 L 311.91 610.76 L 313.56 610.91 L 315.21 611.06 L 316.85 611.21 L 318.50 611.36 L 320.15 611.51 L 321.80 611.65 L 323.44 611.79 L 325.09 611.93 L 326.74 612.07 L 328.38 612.21 L 330.03 612.34 L 331.68 612.47 L 333.33 612.60 L 334.97 612.73 L 336.62 612.86 L 338.27 612.99 L 339.92 613.11 L 341.56 613.24 L 343.21 613.36 L 344.86 613.48 L 346.51 613.60 L 348.15 613.71 L 349.80 613.83 L 351.45 613.94 L 353.09 614.06 L 354.74 614.17 L 356.39 614.28 L 358.04 614.39 L 359.68 614.50 L 361.33 614.60 L 362.98 614.71 L 364.63 614.81 L 366.27 614.91 L 367.92 615.02 L 369.57 615.12 L 371.21 615.22 L 372.86 615.31 L 374.51 615.41 L 376.16 615.51 L 377.80 615.60 L 379.45 615.70 L 381.10 615.79 L 382.75 615.88 L 384.39 615.97 L 386.04 616.06 L 387.69 616.15 L 389.33 616.24 L 390.98 616.32 L 392.63 616.41 L 394.28 616.49 L 395.92 616.58 L 397.57 616.66 L 399.22 616.74 L 400.87 616.82 L 402.51 616.90 L 404.16 616.98 L 405.81 617.06 L 407.45 617.14 L 409.10 617.21 L 410.75 617.29 L 412.40 617.36 L 414.04 617.44 L 415.69 617.51 L 417.34 617.59 L 418.99 617.66 L 420.63 617.73 L 422.28 617.80 L 423.93 617.87 L 425.58 617.94 L 427.22 618.00 L 428.87 618.07 L 430.52 618.14 L 432.16 618.20 L 433.81 618.27 L 435.46 618.33 L 437.11 618.40 L 438.75 618.46 L 440.40 618.52 L 442.05 618.59 L 443.70 618.65 L 445.34 618.71 L 446.99 618.77 L 448.64 618.83 L 450.28 618.89 L 451.93 618.94 L 453.58 619.00 L 455.23 619.06 L 456.87 619.12 L 458.52 619.17 L 460.17 619.23 L 461.82 619.28 L 463.46 619.34 L 465.11 619.39 L 466.76 619.44 L 468.40 619.50 L 470.05 619.55 L 471.70 619.60 L 473.35 619.65 L 474.99 619.70 L 476.64 619.75 L 478.29 619.80 L 479.94 619.85 L 481.58 619.90 L 483.23 619.94 L 484.88 619.99 L 486.53 620.04 L 488.17 620.09 L 489.82 620.13 L 491.47 620.18 L 493.11 620.22 L 494.76 620.27 L 496.41 620.31 L 498.06 620.35 L 499.70 620.40 L 501.35 620.44 L 503.00 620.48 L 504.65 620.53 L 506.29 620.57 L 507.94 620.61 L 509.59 620.65 L 511.23 620.69 L 512.88 620.73 L 514.53 620.77 L 516.18 620.81 L 517.82 620.85 L 519.47 620.89 L 521.12 620.92 L 522.77 620.96 L 524.41 621.00 L 526.06 621.04 L 527.71 621.07 L 529.35 621.11 L 531.00 621.15 L 532.65 621.18 L 534.30 621.22 L 535.94 621.25 L 537.59 621.29 L 539.24 621.32 L 540.89 621.35 L 542.53 621.39 L 544.18 621.42 L 545.83 621.45 L 547.47 621.49 L 549.12 621.52 L 550.77 621.55 L 552.42 621.58 L 554.06 621.61 L 555.71 621.64 L 557.36 621.67 L 559.01 621.70 L 560.65 621.73 L 562.30 621.76 L 563.95 621.79 L 565.60 621.82 L 567.24 621.85 L 568.89 621.88 L 570.54 621.91 L 572.18 621.94 L 573.83 621.96 L 575.48 621.99 L 577.13 622.02 L 578.77 622.05 L 580.42 622.07 L 582.07 622.10 L 583.72 622.12 L 585.36 622.15 L 587.01 622.18 L 588.66 622.20 L 590.30 622.23 L 591.95 622.25 L 593.60 622.28 L 595.25 622.30 L 596.89 622.32 L 598.54 622.35 L 600.19 622.37 L 601.84 622.40 L 603.48 622.42 L 605.13 622.44 L 606.78 622.46 L 608.42 622.49 L 610.07 622.51 L 611.72 622.53 L 613.37 622.55 L 615.01 622.57 L 616.66 622.60 L 618.31 622.62 L 619.96 622.64 L 621.60 622.66 L 623.25 622.68 L 624.90 622.70 L 626.55 622.72 L 628.19 622.74 L 629.84 622.76 L 631.49 622.78 L 633.13 622.80 L 634.78 622.82 L 636.43 622.84 L 638.08 622.85 L 639.72 622.87 L 641.37 622.89 L 643.02 622.91 L 644.67 622.93 L 646.31 622.95 L 647.96 622.96 L 649.61 622.98 L 651.25 623.00 L 652.90 623.01 L 654.55 623.03 L 656.20 623.05 L 657.84 623.06 L 659.49 623.08 L 661.14 623.10 L 662.79 623.11 L 664.43 623.13 L 666.08 623.14 L 667.73 623.16 L 669.37 623.17 L 671.02 623.19 L 672.67 623.20 L 674.32 623.22 L 675.96 623.23 L 677.61 623.25 L 679.26 623.26 L 680.91 623.28 L 682.55 623.29 L 684.20 623.30 L 685.85 623.32 L 687.49 623.33 L 689.14 623.35 L 690.79 623.36 L 692.44 623.37 L 694.08 623.38 L 695.73 623.40 L 697.38 623.41 L 699.03 623.42 L 700.67 623.43 L 702.32 623.45 L 703.97 623.46 L 705.62 623.47 L 707.26 623.48 L 708.91 623.49 L 710.56 623.51 L 712.20 623.52 L 713.85 623.53 L 715.50 623.54 L 717.15 623.55 L 718.79 623.56 L 720.44 623.57 L 722.09 623.58 L 723.74 623.59 L 725.38 623.60 L 727.03 623.61 L 728.68 623.62 L 730.32 623.63 L 731.97 623.64 L 733.62 623.65 L 735.27 623.66 L 736.91 623.67 L 738.56 623.68 L 740.21 623.69 L 741.86 623.70 L 743.50 623.71 L 745.15 623.72 L 746.80 623.73 L 748.44 623.74 L 750.09 623.74 L 751.74 623.75 L 753.39 623.76 L 755.03 623.77 L 756.68 623.78 L 758.33 623.79 L 759.98 623.79 L 761.62 623.80 L 763.27 623.81 L 764.92 623.82 L 766.57 623.82 L 768.21 623.83 L 769.86 623.84 L 771.51 623.84 L 773.15 623.85 L 774.80 623.86 L 776.45 623.87 L 778.10 623.87 L 779.74 623.88 L 781.39 623.89 L 783.04 623.89 L 784.69 623.90 L 786.33 623.90 L 787.98 623.91 L 789.63 623.92 L 791.27 623.92 L 792.92 623.93 L 794.57 623.93 L 796.22 623.94 L 797.86 623.95 L 799.51 623.95 L 801.16 623.96 L 802.81 623.96 L 804.45 623.97 L 806.10 623.97 L 807.75 623.98 L 809.39 623.98 L 811.04 623.99 L 812.69 623.99 L 814.34 624.00 L 815.98 624.00 L 817.63 624.01 L 819.28 624.01 L 820.93 624.01 L 822.57 624.02 L 824.22 624.02 L 825.87 624.03 L 827.52 624.03 L 829.16 624.03 L 830.81 624.04 L 832.46 624.04 L 834.10 624.05 L 835.75 624.05 L 837.40 624.05 L 839.05 624.06 L 840.69 624.06 L 842.34 624.06 L 843.99 624.07 L 845.64 624.07 L 847.28 624.07 L 848.93 624.08 L 850.58 624.08 L 852.22 624.08 L 853.87 624.08 L 855.52 624.09 L 857.17 624.09 L 858.81 624.09 L 860.46 624.09 L 862.11 624.10 L 863.76 624.10 L 865.40 624.10 L 867.05 624.10 L 868.70 624.11 L 870.34 624.11 L 871.99 624.11 L 873.64 624.11 L 875.29 624.11 L 876.93 624.12 L 878.58 624.12 L 880.23 624.12 L 881.88 624.12 L 883.52 624.12 L 885.17 624.12 L 886.82 624.13 L 888.46 624.13 L 890.11 624.13 L 891.76 624.13 L 893.41 624.13 L 895.05 624.13 L 896.70 624.13 L 898.35 624.13 L 900.00 624.13 L 901.64 624.14 L 903.29 624.14 L 904.94 624.14 L 906.59 624.14 L 908.23 624.14 L 909.88 624.14 L 911.53 624.14 L 913.17 624.14 L 914.82 624.14 L 916.47 624.14 L 918.12 624.14 L 919.76 624.14 L 921.41 624.14 L 923.06 624.14 L 924.71 624.14 L 926.35 624.14 L 928.00 624.14" stroke="#d55c61" stroke-width="7.8" fill="none"/>
<rect x="104.7" y="805.3" width="255.8" height="296.20000000000005" fill="none" stroke="#262626" stroke-width="1.5"/>
<path d="M154.25 805.3 v4.5 M154.25 1101.5 v-4.5 M232.60 805.3 v4.5 M232.60 1101.5 v-4.5 M310.95 805.3 v4.5 M310.95 1101.5 v-4.5 M104.7 1055.30 h4.5 M360.50 1055.30 h-4.5 M104.7 1004.30 h4.5 M360.50 1004.30 h-4.5 M104.7 953.30 h4.5 M360.50 953.30 h-4.5 M104.7 902.30 h4.5 M360.50 902.30 h-4.5 M104.7 851.30 h4.5 M360.50 851.30 h-4.5" stroke="#6a6a6a" stroke-width="1.1" fill="none"/>
<path d="M 104.65 953.30 L 104.94 953.30 L 105.22 953.30 L 105.51 953.30 L 105.79 953.30 L 106.08 953.30 L 106.36 953.30 L 106.65 953.30 L 106.93 953.30 L 107.22 953.30 L 107.50 953.30 L 107.79 953.30 L 108.07 953.30 L 108.35 953.30 L 108.64 953.30 L 108.92 953.30 L 109.21 953.30 L 109.49 953.30 L 109.78 953.30 L 110.06 953.30 L 110.35 953.30 L 110.63 953.30 L 110.92 953.30 L 111.20 953.30 L 111.49 953.30 L 111.77 953.30 L 112.06 953.30 L 112.34 953.30 L 112.62 953.30 L 112.91 953.30 L 113.19 953.30 L 113.48 953.30 L 113.76 953.30 L 114.05 953.30 L 114.33 953.30 L 114.62 953.30 L 114.90 953.30 L 115.19 953.30 L 115.47 953.30 L 115.76 953.30 L 116.04 953.30 L 116.32 953.30 L 116.61 953.30 L 116.89 953.30 L 117.18 953.30 L 117.46 953.30 L 117.75 953.30 L 118.03 953.30 L 118.32 953.30 L 118.60 953.30 L 118.89 953.30 L 119.17 953.30 L 119.46 953.30 L 119.74 953.30 L 120.02 953.30 L 120.31 953.30 L 120.59 953.31 L 120.88 953.31 L 121.16 953.31 L 121.45 953.31 L 121.73 953.31 L 122.02 953.31 L 122.30 953.31 L 122.59 953.31 L 122.87 953.31 L 123.16 953.31 L 123.44 953.31 L 123.73 953.32 L 124.01 953.32 L 124.29 953.32 L 124.58 953.32 L 124.86 953.32 L 125.15 953.32 L 125.43 953.32 L 125.72 953.33 L 126.00 953.33 L 126.29 953.33 L 126.57 953.33 L 126.86 953.33 L 127.14 953.33 L 127.43 953.34 L 127.71 953.34 L 127.99 953.34 L 128.28 953.34 L 128.56 953.34 L 128.85 953.34 L 129.13 953.35 L 129.42 953.35 L 129.70 953.35 L 129.99 953.35 L 130.27 953.35 L 130.56 953.35 L 130.84 953.36 L 131.13 953.36 L 131.41 953.36 L 131.70 953.36 L 131.98 953.36 L 132.26 953.36 L 132.55 953.36 L 132.83 953.36 L 133.12 953.36 L 133.40 953.36 L 133.69 953.36 L 133.97 953.36 L 134.26 953.36 L 134.54 953.36 L 134.83 953.36 L 135.11 953.35 L 135.40 953.35 L 135.68 953.35 L 135.96 953.35 L 136.25 953.34 L 136.53 953.34 L 136.82 953.34 L 137.10 953.33 L 137.39 953.33 L 137.67 953.32 L 137.96 953.31 L 138.24 953.31 L 138.53 953.30 L 138.81 953.29 L 139.10 953.28 L 139.38 953.27 L 139.67 953.26 L 139.95 953.25 L 140.23 953.24 L 140.52 953.23 L 140.80 953.21 L 141.09 953.20 L 141.37 953.18 L 141.66 953.17 L 141.94 953.15 L 142.23 953.14 L 142.51 953.12 L 142.80 953.10 L 143.08 953.08 L 143.37 953.06 L 143.65 953.04 L 143.93 953.02 L 144.22 953.00 L 144.50 952.97 L 144.79 952.95 L 145.07 952.93 L 145.36 952.90 L 145.64 952.88 L 145.93 952.85 L 146.21 952.83 L 146.50 952.80 L 146.78 952.77 L 147.07 952.75 L 147.35 952.72 L 147.64 952.69 L 147.92 952.67 L 148.20 952.64 L 148.49 952.61 L 148.77 952.59 L 149.06 952.56 L 149.34 952.54 L 149.63 952.51 L 149.91 952.49 L 150.20 952.47 L 150.48 952.45 L 150.77 952.42 L 151.05 952.41 L 151.34 952.39 L 151.62 952.37 L 151.90 952.36 L 152.19 952.35 L 152.47 952.34 L 152.76 952.33 L 153.04 952.33 L 153.33 952.33 L 153.61 952.33 L 153.90 952.33 L 154.18 952.34 L 154.47 952.35 L 154.75 952.37 L 155.04 952.39 L 155.32 952.41 L 155.60 952.44 L 155.89 952.47 L 156.17 952.51 L 156.46 952.55 L 156.74 952.59 L 157.03 952.65 L 157.31 952.70 L 157.60 952.77 L 157.88 952.84 L 158.17 952.91 L 158.45 952.99 L 158.74 953.08 L 159.02 953.17 L 159.31 953.27 L 159.59 953.38 L 159.87 953.49 L 160.16 953.61 L 160.44 953.74 L 160.73 953.87 L 161.01 954.01 L 161.30 954.15 L 161.58 954.30 L 161.87 954.46 L 162.15 954.63 L 162.44 954.80 L 162.72 954.97 L 163.01 955.16 L 163.29 955.35 L 163.57 955.54 L 163.86 955.74 L 164.14 955.94 L 164.43 956.15 L 164.71 956.36 L 165.00 956.58 L 165.28 956.80 L 165.57 957.02 L 165.85 957.25 L 166.14 957.48 L 166.42 957.71 L 166.71 957.94 L 166.99 958.16 L 167.28 958.39 L 167.56 958.62 L 167.84 958.85 L 168.13 959.07 L 168.41 959.29 L 168.70 959.51 L 168.98 959.72 L 169.27 959.92 L 169.55 960.12 L 169.84 960.31 L 170.12 960.49 L 170.41 960.66 L 170.69 960.82 L 170.98 960.97 L 171.26 961.11 L 171.54 961.23 L 171.83 961.34 L 172.11 961.43 L 172.40 961.51 L 172.68 961.56 L 172.97 961.60 L 173.25 961.62 L 173.54 961.62 L 173.82 961.59 L 174.11 961.55 L 174.39 961.47 L 174.68 961.38 L 174.96 961.25 L 175.25 961.11 L 175.53 960.93 L 175.81 960.72 L 176.10 960.49 L 176.38 960.22 L 176.67 959.93 L 176.95 959.60 L 177.24 959.25 L 177.52 958.86 L 177.81 958.43 L 178.09 957.98 L 178.38 957.49 L 178.66 956.96 L 178.95 956.41 L 179.23 955.82 L 179.51 955.19 L 179.80 954.54 L 180.08 953.85 L 180.37 953.13 L 180.65 952.37 L 180.94 951.59 L 181.22 950.77 L 181.51 949.92 L 181.79 949.05 L 182.08 948.15 L 182.36 947.22 L 182.65 946.26 L 182.93 945.28 L 183.22 944.28 L 183.50 943.26 L 183.78 942.22 L 184.07 941.16 L 184.35 940.09 L 184.64 939.00 L 184.92 937.91 L 185.21 936.80 L 185.49 935.69 L 185.78 934.58 L 186.06 933.47 L 186.35 932.36 L 186.63 931.25 L 186.92 930.16 L 187.20 929.07 L 187.48 928.01 L 187.77 926.95 L 188.05 925.92 L 188.34 924.92 L 188.62 923.94 L 188.91 923.00 L 189.19 922.09 L 189.48 921.22 L 189.76 920.39 L 190.05 919.60 L 190.33 918.87 L 190.62 918.19 L 190.90 917.56 L 191.18 917.00 L 191.47 916.49 L 191.75 916.06 L 192.04 915.69 L 192.32 915.40 L 192.61 915.18 L 192.89 915.04 L 193.18 914.98 L 193.46 915.01 L 193.75 915.13 L 194.03 915.33 L 194.32 915.63 L 194.60 916.02 L 194.89 916.51 L 195.17 917.09 L 195.45 917.78 L 195.74 918.56 L 196.02 919.45 L 196.31 920.44 L 196.59 921.54 L 196.88 922.74 L 197.16 924.04 L 197.45 925.45 L 197.73 926.96 L 198.02 928.57 L 198.30 930.28 L 198.59 932.10 L 198.87 934.01 L 199.15 936.02 L 199.44 938.13 L 199.72 940.33 L 200.01 942.62 L 200.29 945.00 L 200.58 947.46 L 200.86 950.00 L 201.15 952.61 L 201.43 955.30 L 201.72 958.06 L 202.00 960.87 L 202.29 963.75 L 202.57 966.67 L 202.86 969.65 L 203.14 972.66 L 203.42 975.71 L 203.71 978.79 L 203.99 981.89 L 204.28 985.00 L 204.56 988.12 L 204.85 991.25 L 205.13 994.36 L 205.42 997.47 L 205.70 1000.55 L 205.99 1003.60 L 206.27 1006.62 L 206.56 1009.60 L 206.84 1012.52 L 207.12 1015.38 L 207.41 1018.18 L 207.69 1020.90 L 207.98 1023.54 L 208.26 1026.09 L 208.55 1028.54 L 208.83 1030.88 L 209.12 1033.11 L 209.40 1035.22 L 209.69 1037.21 L 209.97 1039.06 L 210.26 1040.77 L 210.54 1042.33 L 210.83 1043.73 L 211.11 1044.98 L 211.39 1046.07 L 211.68 1046.98 L 211.96 1047.72 L 212.25 1048.28 L 212.53 1048.65 L 212.82 1048.84 L 213.10 1048.84 L 213.39 1048.64 L 213.67 1048.25 L 213.96 1047.65 L 214.24 1046.86 L 214.53 1045.86 L 214.81 1044.67 L 215.09 1043.27 L 215.38 1041.67 L 215.66 1039.86 L 215.95 1037.86 L 216.23 1035.66 L 216.52 1033.26 L 216.80 1030.67 L 217.09 1027.89 L 217.37 1024.92 L 217.66 1021.77 L 217.94 1018.45 L 218.23 1014.95 L 218.51 1011.29 L 218.79 1007.47 L 219.08 1003.49 L 219.36 999.37 L 219.65 995.11 L 219.93 990.73 L 220.22 986.22 L 220.50 981.60 L 220.79 976.87 L 221.07 972.05 L 221.36 967.15 L 221.64 962.17 L 221.93 957.13 L 222.21 952.04 L 222.50 946.90 L 222.78 941.73 L 223.06 936.54 L 223.35 931.35 L 223.63 926.15 L 223.92 920.97 L 224.20 915.82 L 224.49 910.70 L 224.77 905.63 L 225.06 900.62 L 225.34 895.68 L 225.63 890.83 L 225.91 886.07 L 226.20 881.41 L 226.48 876.87 L 226.76 872.46 L 227.05 868.18 L 227.33 864.05 L 227.62 860.07 L 227.90 856.26 L 228.19 852.63 L 228.47 849.18 L 228.76 845.92 L 229.04 842.86 L 229.33 840.00 L 229.61 837.36 L 229.90 834.94 L 230.18 832.74 L 230.47 830.77 L 230.75 829.04 L 231.03 827.55 L 231.32 826.30 L 231.60 825.30 L 231.89 824.55 L 232.17 824.04 L 232.46 823.79 L 232.74 823.79 L 233.03 824.04 L 233.31 824.55 L 233.60 825.30 L 233.88 826.30 L 234.17 827.55 L 234.45 829.04 L 234.73 830.77 L 235.02 832.74 L 235.30 834.94 L 235.59 837.36 L 235.87 840.00 L 236.16 842.86 L 236.44 845.92 L 236.73 849.18 L 237.01 852.63 L 237.30 856.26 L 237.58 860.07 L 237.87 864.05 L 238.15 868.18 L 238.44 872.46 L 238.72 876.87 L 239.00 881.41 L 239.29 886.07 L 239.57 890.83 L 239.86 895.68 L 240.14 900.62 L 240.43 905.63 L 240.71 910.70 L 241.00 915.82 L 241.28 920.97 L 241.57 926.15 L 241.85 931.35 L 242.14 936.54 L 242.42 941.73 L 242.70 946.90 L 242.99 952.04 L 243.27 957.13 L 243.56 962.17 L 243.84 967.15 L 244.13 972.05 L 244.41 976.87 L 244.70 981.60 L 244.98 986.22 L 245.27 990.73 L 245.55 995.11 L 245.84 999.37 L 246.12 1003.49 L 246.41 1007.47 L 246.69 1011.29 L 246.97 1014.95 L 247.26 1018.45 L 247.54 1021.77 L 247.83 1024.92 L 248.11 1027.89 L 248.40 1030.67 L 248.68 1033.26 L 248.97 1035.66 L 249.25 1037.86 L 249.54 1039.86 L 249.82 1041.67 L 250.11 1043.27 L 250.39 1044.67 L 250.67 1045.86 L 250.96 1046.86 L 251.24 1047.65 L 251.53 1048.25 L 251.81 1048.64 L 252.10 1048.84 L 252.38 1048.84 L 252.67 1048.65 L 252.95 1048.28 L 253.24 1047.72 L 253.52 1046.98 L 253.81 1046.07 L 254.09 1044.98 L 254.37 1043.73 L 254.66 1042.33 L 254.94 1040.77 L 255.23 1039.06 L 255.51 1037.21 L 255.80 1035.22 L 256.08 1033.11 L 256.37 1030.88 L 256.65 1028.54 L 256.94 1026.09 L 257.22 1023.54 L 257.51 1020.90 L 257.79 1018.18 L 258.08 1015.38 L 258.36 1012.52 L 258.64 1009.60 L 258.93 1006.62 L 259.21 1003.60 L 259.50 1000.55 L 259.78 997.47 L 260.07 994.36 L 260.35 991.25 L 260.64 988.12 L 260.92 985.00 L 261.21 981.89 L 261.49 978.79 L 261.78 975.71 L 262.06 972.66 L 262.34 969.65 L 262.63 966.67 L 262.91 963.75 L 263.20 960.87 L 263.48 958.06 L 263.77 955.30 L 264.05 952.61 L 264.34 950.00 L 264.62 947.46 L 264.91 945.00 L 265.19 942.62 L 265.48 940.33 L 265.76 938.13 L 266.05 936.02 L 266.33 934.01 L 266.61 932.10 L 266.90 930.28 L 267.18 928.57 L 267.47 926.96 L 267.75 925.45 L 268.04 924.04 L 268.32 922.74 L 268.61 921.54 L 268.89 920.44 L 269.18 919.45 L 269.46 918.56 L 269.75 917.78 L 270.03 917.09 L 270.31 916.51 L 270.60 916.02 L 270.88 915.63 L 271.17 915.33 L 271.45 915.13 L 271.74 915.01 L 272.02 914.98 L 272.31 915.04 L 272.59 915.18 L 272.88 915.40 L 273.16 915.69 L 273.45 916.06 L 273.73 916.49 L 274.02 917.00 L 274.30 917.56 L 274.58 918.19 L 274.87 918.87 L 275.15 919.60 L 275.44 920.39 L 275.72 921.22 L 276.01 922.09 L 276.29 923.00 L 276.58 923.94 L 276.86 924.92 L 277.15 925.92 L 277.43 926.95 L 277.72 928.01 L 278.00 929.07 L 278.28 930.16 L 278.57 931.25 L 278.85 932.36 L 279.14 933.47 L 279.42 934.58 L 279.71 935.69 L 279.99 936.80 L 280.28 937.91 L 280.56 939.00 L 280.85 940.09 L 281.13 941.16 L 281.42 942.22 L 281.70 943.26 L 281.98 944.28 L 282.27 945.28 L 282.55 946.26 L 282.84 947.22 L 283.12 948.15 L 283.41 949.05 L 283.69 949.92 L 283.98 950.77 L 284.26 951.59 L 284.55 952.37 L 284.83 953.13 L 285.12 953.85 L 285.40 954.54 L 285.69 955.19 L 285.97 955.82 L 286.25 956.41 L 286.54 956.96 L 286.82 957.49 L 287.11 957.98 L 287.39 958.43 L 287.68 958.86 L 287.96 959.25 L 288.25 959.60 L 288.53 959.93 L 288.82 960.22 L 289.10 960.49 L 289.39 960.72 L 289.67 960.93 L 289.95 961.11 L 290.24 961.25 L 290.52 961.38 L 290.81 961.47 L 291.09 961.55 L 291.38 961.59 L 291.66 961.62 L 291.95 961.62 L 292.23 961.60 L 292.52 961.56 L 292.80 961.51 L 293.09 961.43 L 293.37 961.34 L 293.66 961.23 L 293.94 961.11 L 294.22 960.97 L 294.51 960.82 L 294.79 960.66 L 295.08 960.49 L 295.36 960.31 L 295.65 960.12 L 295.93 959.92 L 296.22 959.72 L 296.50 959.51 L 296.79 959.29 L 297.07 959.07 L 297.36 958.85 L 297.64 958.62 L 297.92 958.39 L 298.21 958.16 L 298.49 957.94 L 298.78 957.71 L 299.06 957.48 L 299.35 957.25 L 299.63 957.02 L 299.92 956.80 L 300.20 956.58 L 300.49 956.36 L 300.77 956.15 L 301.06 955.94 L 301.34 955.74 L 301.63 955.54 L 301.91 955.35 L 302.19 955.16 L 302.48 954.97 L 302.76 954.80 L 303.05 954.63 L 303.33 954.46 L 303.62 954.30 L 303.90 954.15 L 304.19 954.01 L 304.47 953.87 L 304.76 953.74 L 305.04 953.61 L 305.33 953.49 L 305.61 953.38 L 305.89 953.27 L 306.18 953.17 L 306.46 953.08 L 306.75 952.99 L 307.03 952.91 L 307.32 952.84 L 307.60 952.77 L 307.89 952.70 L 308.17 952.65 L 308.46 952.59 L 308.74 952.55 L 309.03 952.51 L 309.31 952.47 L 309.60 952.44 L 309.88 952.41 L 310.16 952.39 L 310.45 952.37 L 310.73 952.35 L 311.02 952.34 L 311.30 952.33 L 311.59 952.33 L 311.87 952.33 L 312.16 952.33 L 312.44 952.33 L 312.73 952.34 L 313.01 952.35 L 313.30 952.36 L 313.58 952.37 L 313.86 952.39 L 314.15 952.41 L 314.43 952.42 L 314.72 952.45 L 315.00 952.47 L 315.29 952.49 L 315.57 952.51 L 315.86 952.54 L 316.14 952.56 L 316.43 952.59 L 316.71 952.61 L 317.00 952.64 L 317.28 952.67 L 317.56 952.69 L 317.85 952.72 L 318.13 952.75 L 318.42 952.77 L 318.70 952.80 L 318.99 952.83 L 319.27 952.85 L 319.56 952.88 L 319.84 952.90 L 320.13 952.93 L 320.41 952.95 L 320.70 952.97 L 320.98 953.00 L 321.27 953.02 L 321.55 953.04 L 321.83 953.06 L 322.12 953.08 L 322.40 953.10 L 322.69 953.12 L 322.97 953.14 L 323.26 953.15 L 323.54 953.17 L 323.83 953.18 L 324.11 953.20 L 324.40 953.21 L 324.68 953.23 L 324.97 953.24 L 325.25 953.25 L 325.53 953.26 L 325.82 953.27 L 326.10 953.28 L 326.39 953.29 L 326.67 953.30 L 326.96 953.31 L 327.24 953.31 L 327.53 953.32 L 327.81 953.33 L 328.10 953.33 L 328.38 953.34 L 328.67 953.34 L 328.95 953.34 L 329.24 953.35 L 329.52 953.35 L 329.80 953.35 L 330.09 953.35 L 330.37 953.36 L 330.66 953.36 L 330.94 953.36 L 331.23 953.36 L 331.51 953.36 L 331.80 953.36 L 332.08 953.36 L 332.37 953.36 L 332.65 953.36 L 332.94 953.36 L 333.22 953.36 L 333.50 953.36 L 333.79 953.36 L 334.07 953.36 L 334.36 953.36 L 334.64 953.35 L 334.93 953.35 L 335.21 953.35 L 335.50 953.35 L 335.78 953.35 L 336.07 953.35 L 336.35 953.34 L 336.64 953.34 L 336.92 953.34 L 337.21 953.34 L 337.49 953.34 L 337.77 953.34 L 338.06 953.33 L 338.34 953.33 L 338.63 953.33 L 338.91 953.33 L 339.20 953.33 L 339.48 953.33 L 339.77 953.32 L 340.05 953.32 L 340.34 953.32 L 340.62 953.32 L 340.91 953.32 L 341.19 953.32 L 341.47 953.32 L 341.76 953.31 L 342.04 953.31 L 342.33 953.31 L 342.61 953.31 L 342.90 953.31 L 343.18 953.31 L 343.47 953.31 L 343.75 953.31 L 344.04 953.31 L 344.32 953.31 L 344.61 953.31 L 344.89 953.30 L 345.18 953.30 L 345.46 953.30 L 345.74 953.30 L 346.03 953.30 L 346.31 953.30 L 346.60 953.30 L 346.88 953.30 L 347.17 953.30 L 347.45 953.30 L 347.74 953.30 L 348.02 953.30 L 348.31 953.30 L 348.59 953.30 L 348.88 953.30 L 349.16 953.30 L 349.44 953.30 L 349.73 953.30 L 350.01 953.30 L 350.30 953.30 L 350.58 953.30 L 350.87 953.30 L 351.15 953.30 L 351.44 953.30 L 351.72 953.30 L 352.01 953.30 L 352.29 953.30 L 352.58 953.30 L 352.86 953.30 L 353.14 953.30 L 353.43 953.30 L 353.71 953.30 L 354.00 953.30 L 354.28 953.30 L 354.57 953.30 L 354.85 953.30 L 355.14 953.30 L 355.42 953.30 L 355.71 953.30 L 355.99 953.30 L 356.28 953.30 L 356.56 953.30 L 356.85 953.30 L 357.13 953.30 L 357.41 953.30 L 357.70 953.30 L 357.98 953.30 L 358.27 953.30 L 358.55 953.30 L 358.84 953.30 L 359.12 953.30 L 359.41 953.30 L 359.69 953.30 L 359.98 953.30 L 360.26 953.30 L 360.55 953.30" stroke="#d55c61" stroke-width="3.6" fill="none" stroke-linejoin="round"/>
<path d="M 104.65 947.60 L 104.94 947.18 L 105.22 946.81 L 105.51 946.49 L 105.79 946.22 L 106.08 946.00 L 106.36 945.83 L 106.65 945.71 L 106.93 945.66 L 107.22 945.65 L 107.50 945.71 L 107.79 945.82 L 108.07 945.98 L 108.35 946.20 L 108.64 946.47 L 108.92 946.79 L 109.21 947.15 L 109.49 947.57 L 109.78 948.02 L 110.06 948.51 L 110.35 949.04 L 110.63 949.60 L 110.92 950.18 L 111.20 950.79 L 111.49 951.42 L 111.77 952.06 L 112.06 952.71 L 112.34 953.36 L 112.62 954.01 L 112.91 954.66 L 113.19 955.30 L 113.48 955.92 L 113.76 956.52 L 114.05 957.11 L 114.33 957.66 L 114.62 958.18 L 114.90 958.66 L 115.19 959.11 L 115.47 959.51 L 115.76 959.87 L 116.04 960.18 L 116.32 960.44 L 116.61 960.65 L 116.89 960.80 L 117.18 960.90 L 117.46 960.95 L 117.75 960.94 L 118.03 960.87 L 118.32 960.75 L 118.60 960.57 L 118.89 960.34 L 119.17 960.06 L 119.46 959.72 L 119.74 959.35 L 120.02 958.92 L 120.31 958.46 L 120.59 957.96 L 120.88 957.43 L 121.16 956.86 L 121.45 956.27 L 121.73 955.66 L 122.02 955.03 L 122.30 954.39 L 122.59 953.74 L 122.87 953.09 L 123.16 952.44 L 123.44 951.79 L 123.73 951.16 L 124.01 950.54 L 124.29 949.94 L 124.58 949.37 L 124.86 948.83 L 125.15 948.32 L 125.43 947.84 L 125.72 947.41 L 126.00 947.02 L 126.29 946.67 L 126.57 946.38 L 126.86 946.13 L 127.14 945.94 L 127.43 945.80 L 127.71 945.72 L 127.99 945.69 L 128.28 945.72 L 128.56 945.80 L 128.85 945.94 L 129.13 946.13 L 129.42 946.38 L 129.70 946.68 L 129.99 947.02 L 130.27 947.41 L 130.56 947.85 L 130.84 948.32 L 131.13 948.83 L 131.41 949.38 L 131.70 949.95 L 131.98 950.55 L 132.26 951.17 L 132.55 951.80 L 132.83 952.45 L 133.12 953.10 L 133.40 953.75 L 133.69 954.40 L 133.97 955.05 L 134.26 955.68 L 134.54 956.29 L 134.83 956.88 L 135.11 957.45 L 135.40 957.98 L 135.68 958.48 L 135.96 958.94 L 136.25 959.37 L 136.53 959.74 L 136.82 960.07 L 137.10 960.35 L 137.39 960.58 L 137.67 960.76 L 137.96 960.88 L 138.24 960.94 L 138.53 960.95 L 138.81 960.90 L 139.10 960.79 L 139.38 960.63 L 139.67 960.42 L 139.95 960.15 L 140.23 959.83 L 140.52 959.46 L 140.80 959.05 L 141.09 958.59 L 141.37 958.09 L 141.66 957.56 L 141.94 956.99 L 142.23 956.40 L 142.51 955.77 L 142.80 955.13 L 143.08 954.48 L 143.37 953.81 L 143.65 953.14 L 143.93 952.46 L 144.22 951.79 L 144.50 951.13 L 144.79 950.48 L 145.07 949.84 L 145.36 949.23 L 145.64 948.65 L 145.93 948.09 L 146.21 947.57 L 146.50 947.09 L 146.78 946.65 L 147.07 946.26 L 147.35 945.91 L 147.64 945.61 L 147.92 945.36 L 148.20 945.17 L 148.49 945.03 L 148.77 944.95 L 149.06 944.92 L 149.34 944.95 L 149.63 945.03 L 149.91 945.17 L 150.20 945.37 L 150.48 945.62 L 150.77 945.92 L 151.05 946.27 L 151.34 946.66 L 151.62 947.10 L 151.90 947.58 L 152.19 948.09 L 152.47 948.64 L 152.76 949.22 L 153.04 949.83 L 153.33 950.45 L 153.61 951.09 L 153.90 951.75 L 154.18 952.41 L 154.47 953.07 L 154.75 953.74 L 155.04 954.39 L 155.32 955.04 L 155.60 955.67 L 155.89 956.28 L 156.17 956.87 L 156.46 957.43 L 156.74 957.97 L 157.03 958.46 L 157.31 958.92 L 157.60 959.34 L 157.88 959.72 L 158.17 960.06 L 158.45 960.35 L 158.74 960.59 L 159.02 960.78 L 159.31 960.92 L 159.59 961.01 L 159.87 961.06 L 160.16 961.05 L 160.44 961.00 L 160.73 960.90 L 161.01 960.76 L 161.30 960.57 L 161.58 960.34 L 161.87 960.08 L 162.15 959.78 L 162.44 959.45 L 162.72 959.09 L 163.01 958.71 L 163.29 958.30 L 163.57 957.88 L 163.86 957.45 L 164.14 957.01 L 164.43 956.57 L 164.71 956.13 L 165.00 955.70 L 165.28 955.27 L 165.57 954.86 L 165.85 954.47 L 166.14 954.09 L 166.42 953.75 L 166.71 953.43 L 166.99 953.15 L 167.28 952.91 L 167.56 952.70 L 167.84 952.53 L 168.13 952.41 L 168.41 952.33 L 168.70 952.30 L 168.98 952.32 L 169.27 952.38 L 169.55 952.50 L 169.84 952.66 L 170.12 952.87 L 170.41 953.12 L 170.69 953.42 L 170.98 953.76 L 171.26 954.14 L 171.54 954.56 L 171.83 955.01 L 172.11 955.49 L 172.40 956.00 L 172.68 956.53 L 172.97 957.08 L 173.25 957.65 L 173.54 958.22 L 173.82 958.79 L 174.11 959.36 L 174.39 959.92 L 174.68 960.47 L 174.96 961.00 L 175.25 961.50 L 175.53 961.98 L 175.81 962.42 L 176.10 962.81 L 176.38 963.16 L 176.67 963.46 L 176.95 963.70 L 177.24 963.88 L 177.52 963.99 L 177.81 964.03 L 178.09 964.00 L 178.38 963.89 L 178.66 963.70 L 178.95 963.43 L 179.23 963.08 L 179.51 962.63 L 179.80 962.10 L 180.08 961.48 L 180.37 960.77 L 180.65 959.98 L 180.94 959.10 L 181.22 958.13 L 181.51 957.08 L 181.79 955.94 L 182.08 954.73 L 182.36 953.45 L 182.65 952.09 L 182.93 950.67 L 183.22 949.18 L 183.50 947.64 L 183.78 946.05 L 184.07 944.41 L 184.35 942.74 L 184.64 941.03 L 184.92 939.30 L 185.21 937.54 L 185.49 935.78 L 185.78 934.02 L 186.06 932.25 L 186.35 930.50 L 186.63 928.77 L 186.92 927.07 L 187.20 925.40 L 187.48 923.77 L 187.77 922.19 L 188.05 920.67 L 188.34 919.21 L 188.62 917.82 L 188.91 916.50 L 189.19 915.27 L 189.48 914.13 L 189.76 913.08 L 190.05 912.13 L 190.33 911.28 L 190.62 910.54 L 190.90 909.92 L 191.18 909.41 L 191.47 909.02 L 191.75 908.74 L 192.04 908.60 L 192.32 908.57 L 192.61 908.68 L 192.89 908.91 L 193.18 909.26 L 193.46 909.74 L 193.75 910.35 L 194.03 911.08 L 194.32 911.94 L 194.60 912.92 L 194.89 914.01 L 195.17 915.23 L 195.45 916.55 L 195.74 917.99 L 196.02 919.53 L 196.31 921.17 L 196.59 922.91 L 196.88 924.75 L 197.16 926.68 L 197.45 928.69 L 197.73 930.77 L 198.02 932.94 L 198.30 935.17 L 198.59 937.47 L 198.87 939.83 L 199.15 942.25 L 199.44 944.71 L 199.72 947.22 L 200.01 949.77 L 200.29 952.35 L 200.58 954.96 L 200.86 957.60 L 201.15 960.26 L 201.43 962.93 L 201.72 965.62 L 202.00 968.31 L 202.29 971.01 L 202.57 973.70 L 202.86 976.39 L 203.14 979.08 L 203.42 981.75 L 203.71 984.40 L 203.99 987.03 L 204.28 989.64 L 204.56 992.23 L 204.85 994.79 L 205.13 997.31 L 205.42 999.80 L 205.70 1002.26 L 205.99 1004.67 L 206.27 1007.04 L 206.56 1009.36 L 206.84 1011.63 L 207.12 1013.85 L 207.41 1016.01 L 207.69 1018.11 L 207.98 1020.15 L 208.26 1022.12 L 208.55 1024.03 L 208.83 1025.86 L 209.12 1027.62 L 209.40 1029.30 L 209.69 1030.89 L 209.97 1032.39 L 210.26 1033.80 L 210.54 1035.12 L 210.83 1036.34 L 211.11 1037.45 L 211.39 1038.45 L 211.68 1039.33 L 211.96 1040.10 L 212.25 1040.74 L 212.53 1041.25 L 212.82 1041.63 L 213.10 1041.88 L 213.39 1041.97 L 213.67 1041.92 L 213.96 1041.72 L 214.24 1041.36 L 214.53 1040.84 L 214.81 1040.16 L 215.09 1039.30 L 215.38 1038.27 L 215.66 1037.06 L 215.95 1035.68 L 216.23 1034.11 L 216.52 1032.36 L 216.80 1030.42 L 217.09 1028.29 L 217.37 1025.98 L 217.66 1023.47 L 217.94 1020.78 L 218.23 1017.89 L 218.51 1014.82 L 218.79 1011.57 L 219.08 1008.13 L 219.36 1004.51 L 219.65 1000.72 L 219.93 996.76 L 220.22 992.63 L 220.50 988.34 L 220.79 983.90 L 221.07 979.31 L 221.36 974.59 L 221.64 969.74 L 221.93 964.76 L 222.21 959.68 L 222.50 954.51 L 222.78 949.24 L 223.06 943.90 L 223.35 938.50 L 223.63 933.05 L 223.92 927.56 L 224.20 922.05 L 224.49 916.53 L 224.77 911.01 L 225.06 905.52 L 225.34 900.06 L 225.63 894.66 L 225.91 889.31 L 226.20 884.06 L 226.48 878.89 L 226.76 873.84 L 227.05 868.92 L 227.33 864.13 L 227.62 859.50 L 227.90 855.04 L 228.19 850.77 L 228.47 846.69 L 228.76 842.82 L 229.04 839.17 L 229.33 835.76 L 229.61 832.59 L 229.90 829.67 L 230.18 827.02 L 230.47 824.64 L 230.75 822.54 L 231.03 820.73 L 231.32 819.21 L 231.60 817.99 L 231.89 817.07 L 232.17 816.46 L 232.46 816.15 L 232.74 816.15 L 233.03 816.46 L 233.31 817.07 L 233.60 817.99 L 233.88 819.21 L 234.17 820.73 L 234.45 822.54 L 234.73 824.64 L 235.02 827.02 L 235.30 829.67 L 235.59 832.59 L 235.87 835.76 L 236.16 839.17 L 236.44 842.82 L 236.73 846.69 L 237.01 850.77 L 237.30 855.04 L 237.58 859.50 L 237.87 864.13 L 238.15 868.92 L 238.44 873.84 L 238.72 878.89 L 239.00 884.06 L 239.29 889.31 L 239.57 894.66 L 239.86 900.06 L 240.14 905.52 L 240.43 911.01 L 240.71 916.53 L 241.00 922.05 L 241.28 927.56 L 241.57 933.05 L 241.85 938.50 L 242.14 943.90 L 242.42 949.24 L 242.70 954.51 L 242.99 959.68 L 243.27 964.76 L 243.56 969.74 L 243.84 974.59 L 244.13 979.31 L 244.41 983.90 L 244.70 988.34 L 244.98 992.63 L 245.27 996.76 L 245.55 1000.72 L 245.84 1004.51 L 246.12 1008.13 L 246.41 1011.57 L 246.69 1014.82 L 246.97 1017.89 L 247.26 1020.78 L 247.54 1023.47 L 247.83 1025.98 L 248.11 1028.29 L 248.40 1030.42 L 248.68 1032.36 L 248.97 1034.11 L 249.25 1035.68 L 249.54 1037.06 L 249.82 1038.27 L 250.11 1039.30 L 250.39 1040.16 L 250.67 1040.84 L 250.96 1041.36 L 251.24 1041.72 L 251.53 1041.92 L 251.81 1041.97 L 252.10 1041.88 L 252.38 1041.63 L 252.67 1041.25 L 252.95 1040.74 L 253.24 1040.10 L 253.52 1039.33 L 253.81 1038.45 L 254.09 1037.45 L 254.37 1036.34 L 254.66 1035.12 L 254.94 1033.80 L 255.23 1032.39 L 255.51 1030.89 L 255.80 1029.30 L 256.08 1027.62 L 256.37 1025.86 L 256.65 1024.03 L 256.94 1022.12 L 257.22 1020.15 L 257.51 1018.11 L 257.79 1016.01 L 258.08 1013.85 L 258.36 1011.63 L 258.64 1009.36 L 258.93 1007.04 L 259.21 1004.67 L 259.50 1002.26 L 259.78 999.80 L 260.07 997.31 L 260.35 994.79 L 260.64 992.23 L 260.92 989.64 L 261.21 987.03 L 261.49 984.40 L 261.78 981.75 L 262.06 979.08 L 262.34 976.39 L 262.63 973.70 L 262.91 971.01 L 263.20 968.31 L 263.48 965.62 L 263.77 962.93 L 264.05 960.26 L 264.34 957.60 L 264.62 954.96 L 264.91 952.35 L 265.19 949.77 L 265.48 947.22 L 265.76 944.71 L 266.05 942.25 L 266.33 939.83 L 266.61 937.47 L 266.90 935.17 L 267.18 932.94 L 267.47 930.77 L 267.75 928.69 L 268.04 926.68 L 268.32 924.75 L 268.61 922.91 L 268.89 921.17 L 269.18 919.53 L 269.46 917.99 L 269.75 916.55 L 270.03 915.23 L 270.31 914.01 L 270.60 912.92 L 270.88 911.94 L 271.17 911.08 L 271.45 910.35 L 271.74 909.74 L 272.02 909.26 L 272.31 908.91 L 272.59 908.68 L 272.88 908.57 L 273.16 908.60 L 273.45 908.74 L 273.73 909.02 L 274.02 909.41 L 274.30 909.92 L 274.58 910.54 L 274.87 911.28 L 275.15 912.13 L 275.44 913.08 L 275.72 914.13 L 276.01 915.27 L 276.29 916.50 L 276.58 917.82 L 276.86 919.21 L 277.15 920.67 L 277.43 922.19 L 277.72 923.77 L 278.00 925.40 L 278.28 927.07 L 278.57 928.77 L 278.85 930.50 L 279.14 932.25 L 279.42 934.02 L 279.71 935.78 L 279.99 937.54 L 280.28 939.30 L 280.56 941.03 L 280.85 942.74 L 281.13 944.41 L 281.42 946.05 L 281.70 947.64 L 281.98 949.18 L 282.27 950.67 L 282.55 952.09 L 282.84 953.45 L 283.12 954.73 L 283.41 955.94 L 283.69 957.08 L 283.98 958.13 L 284.26 959.10 L 284.55 959.98 L 284.83 960.77 L 285.12 961.48 L 285.40 962.10 L 285.69 962.63 L 285.97 963.08 L 286.25 963.43 L 286.54 963.70 L 286.82 963.89 L 287.11 964.00 L 287.39 964.03 L 287.68 963.99 L 287.96 963.88 L 288.25 963.70 L 288.53 963.46 L 288.82 963.16 L 289.10 962.81 L 289.39 962.42 L 289.67 961.98 L 289.95 961.50 L 290.24 961.00 L 290.52 960.47 L 290.81 959.92 L 291.09 959.36 L 291.38 958.79 L 291.66 958.22 L 291.95 957.65 L 292.23 957.08 L 292.52 956.53 L 292.80 956.00 L 293.09 955.49 L 293.37 955.01 L 293.66 954.56 L 293.94 954.14 L 294.22 953.76 L 294.51 953.42 L 294.79 953.12 L 295.08 952.87 L 295.36 952.66 L 295.65 952.50 L 295.93 952.38 L 296.22 952.32 L 296.50 952.30 L 296.79 952.33 L 297.07 952.41 L 297.36 952.53 L 297.64 952.70 L 297.92 952.91 L 298.21 953.15 L 298.49 953.43 L 298.78 953.75 L 299.06 954.09 L 299.35 954.47 L 299.63 954.86 L 299.92 955.27 L 300.20 955.70 L 300.49 956.13 L 300.77 956.57 L 301.06 957.01 L 301.34 957.45 L 301.63 957.88 L 301.91 958.30 L 302.19 958.71 L 302.48 959.09 L 302.76 959.45 L 303.05 959.78 L 303.33 960.08 L 303.62 960.34 L 303.90 960.57 L 304.19 960.76 L 304.47 960.90 L 304.76 961.00 L 305.04 961.05 L 305.33 961.06 L 305.61 961.01 L 305.89 960.92 L 306.18 960.78 L 306.46 960.59 L 306.75 960.35 L 307.03 960.06 L 307.32 959.72 L 307.60 959.34 L 307.89 958.92 L 308.17 958.46 L 308.46 957.97 L 308.74 957.43 L 309.03 956.87 L 309.31 956.28 L 309.60 955.67 L 309.88 955.04 L 310.16 954.39 L 310.45 953.74 L 310.73 953.07 L 311.02 952.41 L 311.30 951.75 L 311.59 951.09 L 311.87 950.45 L 312.16 949.83 L 312.44 949.22 L 312.73 948.64 L 313.01 948.09 L 313.30 947.58 L 313.58 947.10 L 313.86 946.66 L 314.15 946.27 L 314.43 945.92 L 314.72 945.62 L 315.00 945.37 L 315.29 945.17 L 315.57 945.03 L 315.86 944.95 L 316.14 944.92 L 316.43 944.95 L 316.71 945.03 L 317.00 945.17 L 317.28 945.36 L 317.56 945.61 L 317.85 945.91 L 318.13 946.26 L 318.42 946.65 L 318.70 947.09 L 318.99 947.57 L 319.27 948.09 L 319.56 948.65 L 319.84 949.23 L 320.13 949.84 L 320.41 950.48 L 320.70 951.13 L 320.98 951.79 L 321.27 952.46 L 321.55 953.14 L 321.83 953.81 L 322.12 954.48 L 322.40 955.13 L 322.69 955.77 L 322.97 956.40 L 323.26 956.99 L 323.54 957.56 L 323.83 958.09 L 324.11 958.59 L 324.40 959.05 L 324.68 959.46 L 324.97 959.83 L 325.25 960.15 L 325.53 960.42 L 325.82 960.63 L 326.10 960.79 L 326.39 960.90 L 326.67 960.95 L 326.96 960.94 L 327.24 960.88 L 327.53 960.76 L 327.81 960.58 L 328.10 960.35 L 328.38 960.07 L 328.67 959.74 L 328.95 959.37 L 329.24 958.94 L 329.52 958.48 L 329.80 957.98 L 330.09 957.45 L 330.37 956.88 L 330.66 956.29 L 330.94 955.68 L 331.23 955.05 L 331.51 954.40 L 331.80 953.75 L 332.08 953.10 L 332.37 952.45 L 332.65 951.80 L 332.94 951.17 L 333.22 950.55 L 333.50 949.95 L 333.79 949.38 L 334.07 948.83 L 334.36 948.32 L 334.64 947.85 L 334.93 947.41 L 335.21 947.02 L 335.50 946.68 L 335.78 946.38 L 336.07 946.13 L 336.35 945.94 L 336.64 945.80 L 336.92 945.72 L 337.21 945.69 L 337.49 945.72 L 337.77 945.80 L 338.06 945.94 L 338.34 946.13 L 338.63 946.38 L 338.91 946.67 L 339.20 947.02 L 339.48 947.41 L 339.77 947.84 L 340.05 948.32 L 340.34 948.83 L 340.62 949.37 L 340.91 949.94 L 341.19 950.54 L 341.47 951.16 L 341.76 951.79 L 342.04 952.44 L 342.33 953.09 L 342.61 953.74 L 342.90 954.39 L 343.18 955.03 L 343.47 955.66 L 343.75 956.27 L 344.04 956.86 L 344.32 957.43 L 344.61 957.96 L 344.89 958.46 L 345.18 958.92 L 345.46 959.35 L 345.74 959.72 L 346.03 960.06 L 346.31 960.34 L 346.60 960.57 L 346.88 960.75 L 347.17 960.87 L 347.45 960.94 L 347.74 960.95 L 348.02 960.90 L 348.31 960.80 L 348.59 960.65 L 348.88 960.44 L 349.16 960.18 L 349.44 959.87 L 349.73 959.51 L 350.01 959.11 L 350.30 958.66 L 350.58 958.18 L 350.87 957.66 L 351.15 957.11 L 351.44 956.52 L 351.72 955.92 L 352.01 955.30 L 352.29 954.66 L 352.58 954.01 L 352.86 953.36 L 353.14 952.71 L 353.43 952.06 L 353.71 951.42 L 354.00 950.79 L 354.28 950.18 L 354.57 949.60 L 354.85 949.04 L 355.14 948.51 L 355.42 948.02 L 355.71 947.57 L 355.99 947.15 L 356.28 946.79 L 356.56 946.47 L 356.85 946.20 L 357.13 945.98 L 357.41 945.82 L 357.70 945.71 L 357.98 945.65 L 358.27 945.66 L 358.55 945.71 L 358.84 945.83 L 359.12 946.00 L 359.41 946.22 L 359.69 946.49 L 359.98 946.81 L 360.26 947.18 L 360.55 947.60" stroke="#5e94c5" stroke-width="3.6" fill="none" stroke-linejoin="round"/>
<rect x="398.8" y="805.3" width="255.8" height="296.20000000000005" fill="none" stroke="#262626" stroke-width="1.5"/>
<path d="M448.35 805.3 v4.5 M448.35 1101.5 v-4.5 M526.70 805.3 v4.5 M526.70 1101.5 v-4.5 M605.05 805.3 v4.5 M605.05 1101.5 v-4.5 M398.8 1055.30 h4.5 M654.60 1055.30 h-4.5 M398.8 1004.30 h4.5 M654.60 1004.30 h-4.5 M398.8 953.30 h4.5 M654.60 953.30 h-4.5 M398.8 902.30 h4.5 M654.60 902.30 h-4.5 M398.8 851.30 h4.5 M654.60 851.30 h-4.5" stroke="#6a6a6a" stroke-width="1.1" fill="none"/>
<path d="M 398.75 950.77 L 399.04 950.68 L 399.32 950.60 L 399.61 950.53 L 399.89 950.45 L 400.18 950.38 L 400.46 950.32 L 400.75 950.26 L 401.03 950.20 L 401.32 950.15 L 401.60 950.10 L 401.89 950.06 L 402.17 950.02 L 402.45 949.99 L 402.74 949.97 L 403.02 949.95 L 403.31 949.94 L 403.59 949.93 L 403.88 949.94 L 404.16 949.95 L 404.45 949.97 L 404.73 949.99 L 405.02 950.03 L 405.30 950.07 L 405.59 950.12 L 405.87 950.18 L 406.16 950.25 L 406.44 950.32 L 406.72 950.41 L 407.01 950.50 L 407.29 950.61 L 407.58 950.72 L 407.86 950.84 L 408.15 950.97 L 408.43 951.11 L 408.72 951.26 L 409.00 951.42 L 409.29 951.58 L 409.57 951.76 L 409.86 951.95 L 410.14 952.14 L 410.42 952.34 L 410.71 952.55 L 410.99 952.77 L 411.28 953.00 L 411.56 953.23 L 411.85 953.47 L 412.13 953.72 L 412.42 953.98 L 412.70 954.24 L 412.99 954.51 L 413.27 954.78 L 413.56 955.06 L 413.84 955.35 L 414.12 955.63 L 414.41 955.93 L 414.69 956.22 L 414.98 956.52 L 415.26 956.82 L 415.55 957.12 L 415.83 957.42 L 416.12 957.73 L 416.40 958.03 L 416.69 958.33 L 416.97 958.63 L 417.26 958.93 L 417.54 959.22 L 417.83 959.51 L 418.11 959.80 L 418.39 960.08 L 418.68 960.35 L 418.96 960.62 L 419.25 960.88 L 419.53 961.13 L 419.82 961.37 L 420.10 961.61 L 420.39 961.83 L 420.67 962.04 L 420.96 962.24 L 421.24 962.42 L 421.53 962.59 L 421.81 962.75 L 422.09 962.89 L 422.38 963.02 L 422.66 963.13 L 422.95 963.22 L 423.23 963.29 L 423.52 963.34 L 423.80 963.38 L 424.09 963.39 L 424.37 963.39 L 424.66 963.36 L 424.94 963.31 L 425.23 963.24 L 425.51 963.15 L 425.80 963.03 L 426.08 962.89 L 426.36 962.73 L 426.65 962.54 L 426.93 962.33 L 427.22 962.10 L 427.50 961.84 L 427.79 961.55 L 428.07 961.25 L 428.36 960.91 L 428.64 960.55 L 428.93 960.17 L 429.21 959.77 L 429.50 959.33 L 429.78 958.88 L 430.06 958.40 L 430.35 957.90 L 430.63 957.38 L 430.92 956.84 L 431.20 956.27 L 431.49 955.68 L 431.77 955.08 L 432.06 954.45 L 432.34 953.81 L 432.63 953.15 L 432.91 952.47 L 433.20 951.78 L 433.48 951.07 L 433.77 950.35 L 434.05 949.62 L 434.33 948.88 L 434.62 948.13 L 434.90 947.37 L 435.19 946.60 L 435.47 945.83 L 435.76 945.05 L 436.04 944.28 L 436.33 943.50 L 436.61 942.72 L 436.90 941.95 L 437.18 941.18 L 437.47 940.41 L 437.75 939.66 L 438.03 938.91 L 438.32 938.18 L 438.60 937.46 L 438.89 936.75 L 439.17 936.06 L 439.46 935.39 L 439.74 934.74 L 440.03 934.11 L 440.31 933.51 L 440.60 932.93 L 440.88 932.38 L 441.17 931.86 L 441.45 931.37 L 441.74 930.91 L 442.02 930.49 L 442.30 930.11 L 442.59 929.76 L 442.87 929.45 L 443.16 929.18 L 443.44 928.96 L 443.73 928.78 L 444.01 928.64 L 444.30 928.55 L 444.58 928.51 L 444.87 928.52 L 445.15 928.58 L 445.44 928.69 L 445.72 928.85 L 446.00 929.06 L 446.29 929.32 L 446.57 929.64 L 446.86 930.02 L 447.14 930.44 L 447.43 930.93 L 447.71 931.46 L 448.00 932.06 L 448.28 932.70 L 448.57 933.40 L 448.85 934.16 L 449.14 934.97 L 449.42 935.83 L 449.70 936.75 L 449.99 937.72 L 450.27 938.73 L 450.56 939.80 L 450.84 940.92 L 451.13 942.08 L 451.41 943.29 L 451.70 944.55 L 451.98 945.84 L 452.27 947.18 L 452.55 948.56 L 452.84 949.97 L 453.12 951.42 L 453.41 952.90 L 453.69 954.41 L 453.97 955.94 L 454.26 957.50 L 454.54 959.09 L 454.83 960.69 L 455.11 962.31 L 455.40 963.94 L 455.68 965.58 L 455.97 967.23 L 456.25 968.88 L 456.54 970.54 L 456.82 972.19 L 457.11 973.83 L 457.39 975.46 L 457.67 977.08 L 457.96 978.69 L 458.24 980.27 L 458.53 981.83 L 458.81 983.36 L 459.10 984.86 L 459.38 986.33 L 459.67 987.76 L 459.95 989.14 L 460.24 990.48 L 460.52 991.77 L 460.81 993.01 L 461.09 994.19 L 461.38 995.32 L 461.66 996.38 L 461.94 997.37 L 462.23 998.30 L 462.51 999.15 L 462.80 999.93 L 463.08 1000.63 L 463.37 1001.25 L 463.65 1001.79 L 463.94 1002.24 L 464.22 1002.60 L 464.51 1002.88 L 464.79 1003.06 L 465.08 1003.15 L 465.36 1003.14 L 465.64 1003.04 L 465.93 1002.83 L 466.21 1002.53 L 466.50 1002.13 L 466.78 1001.62 L 467.07 1001.02 L 467.35 1000.31 L 467.64 999.49 L 467.92 998.58 L 468.21 997.56 L 468.49 996.45 L 468.78 995.23 L 469.06 993.91 L 469.35 992.49 L 469.63 990.97 L 469.91 989.36 L 470.20 987.66 L 470.48 985.86 L 470.77 983.97 L 471.05 981.99 L 471.34 979.93 L 471.62 977.79 L 471.91 975.57 L 472.19 973.27 L 472.48 970.91 L 472.76 968.47 L 473.05 965.97 L 473.33 963.41 L 473.61 960.79 L 473.90 958.12 L 474.18 955.40 L 474.47 952.64 L 474.75 949.85 L 475.04 947.02 L 475.32 944.17 L 475.61 941.29 L 475.89 938.40 L 476.18 935.50 L 476.46 932.59 L 476.75 929.68 L 477.03 926.79 L 477.32 923.90 L 477.60 921.03 L 477.88 918.18 L 478.17 915.37 L 478.45 912.59 L 478.74 909.86 L 479.02 907.17 L 479.31 904.54 L 479.59 901.96 L 479.88 899.46 L 480.16 897.02 L 480.45 894.67 L 480.73 892.39 L 481.02 890.21 L 481.30 888.11 L 481.58 886.12 L 481.87 884.23 L 482.15 882.46 L 482.44 880.79 L 482.72 879.25 L 483.01 877.83 L 483.29 876.53 L 483.58 875.37 L 483.86 874.34 L 484.15 873.45 L 484.43 872.71 L 484.72 872.11 L 485.00 871.65 L 485.28 871.35 L 485.57 871.20 L 485.85 871.21 L 486.14 871.37 L 486.42 871.69 L 486.71 872.16 L 486.99 872.80 L 487.28 873.60 L 487.56 874.56 L 487.85 875.67 L 488.13 876.95 L 488.42 878.38 L 488.70 879.97 L 488.99 881.72 L 489.27 883.62 L 489.55 885.67 L 489.84 887.87 L 490.12 890.22 L 490.41 892.71 L 490.69 895.33 L 490.98 898.10 L 491.26 900.99 L 491.55 904.01 L 491.83 907.15 L 492.12 910.41 L 492.40 913.78 L 492.69 917.25 L 492.97 920.83 L 493.25 924.49 L 493.54 928.25 L 493.82 932.09 L 494.11 936.00 L 494.39 939.97 L 494.68 944.01 L 494.96 948.09 L 495.25 952.23 L 495.53 956.40 L 495.82 960.59 L 496.10 964.81 L 496.39 969.04 L 496.67 973.28 L 496.96 977.51 L 497.24 981.73 L 497.52 985.92 L 497.81 990.09 L 498.09 994.22 L 498.38 998.31 L 498.66 1002.34 L 498.95 1006.31 L 499.23 1010.21 L 499.52 1014.03 L 499.80 1017.76 L 500.09 1021.40 L 500.37 1024.94 L 500.66 1028.37 L 500.94 1031.67 L 501.22 1034.86 L 501.51 1037.91 L 501.79 1040.82 L 502.08 1043.59 L 502.36 1046.20 L 502.65 1048.66 L 502.93 1050.96 L 503.22 1053.08 L 503.50 1055.03 L 503.79 1056.80 L 504.07 1058.39 L 504.36 1059.79 L 504.64 1061.00 L 504.93 1062.01 L 505.21 1062.82 L 505.49 1063.44 L 505.78 1063.85 L 506.06 1064.05 L 506.35 1064.05 L 506.63 1063.84 L 506.92 1063.42 L 507.20 1062.79 L 507.49 1061.96 L 507.77 1060.91 L 508.06 1059.66 L 508.34 1058.20 L 508.63 1056.54 L 508.91 1054.68 L 509.19 1052.62 L 509.48 1050.36 L 509.76 1047.91 L 510.05 1045.28 L 510.33 1042.45 L 510.62 1039.45 L 510.90 1036.28 L 511.19 1032.94 L 511.47 1029.43 L 511.76 1025.77 L 512.04 1021.95 L 512.33 1018.00 L 512.61 1013.90 L 512.89 1009.68 L 513.18 1005.34 L 513.46 1000.88 L 513.75 996.32 L 514.03 991.67 L 514.32 986.92 L 514.60 982.10 L 514.89 977.21 L 515.17 972.26 L 515.46 967.25 L 515.74 962.21 L 516.03 957.13 L 516.31 952.04 L 516.60 946.93 L 516.88 941.82 L 517.16 936.72 L 517.45 931.64 L 517.73 926.58 L 518.02 921.56 L 518.30 916.59 L 518.59 911.68 L 518.87 906.83 L 519.16 902.07 L 519.44 897.38 L 519.73 892.80 L 520.01 888.31 L 520.30 883.95 L 520.58 879.70 L 520.86 875.58 L 521.15 871.60 L 521.43 867.77 L 521.72 864.10 L 522.00 860.58 L 522.29 857.23 L 522.57 854.06 L 522.86 851.07 L 523.14 848.27 L 523.43 845.66 L 523.71 843.25 L 524.00 841.05 L 524.28 839.05 L 524.57 837.26 L 524.85 835.69 L 525.13 834.34 L 525.42 833.20 L 525.70 832.30 L 525.99 831.61 L 526.27 831.16 L 526.56 830.93 L 526.84 830.93 L 527.13 831.16 L 527.41 831.61 L 527.70 832.30 L 527.98 833.20 L 528.27 834.34 L 528.55 835.69 L 528.83 837.26 L 529.12 839.05 L 529.40 841.05 L 529.69 843.25 L 529.97 845.66 L 530.26 848.27 L 530.54 851.07 L 530.83 854.06 L 531.11 857.23 L 531.40 860.58 L 531.68 864.10 L 531.97 867.77 L 532.25 871.60 L 532.54 875.58 L 532.82 879.70 L 533.10 883.95 L 533.39 888.31 L 533.67 892.80 L 533.96 897.38 L 534.24 902.07 L 534.53 906.83 L 534.81 911.68 L 535.10 916.59 L 535.38 921.56 L 535.67 926.58 L 535.95 931.64 L 536.24 936.72 L 536.52 941.82 L 536.80 946.93 L 537.09 952.04 L 537.37 957.13 L 537.66 962.21 L 537.94 967.25 L 538.23 972.26 L 538.51 977.21 L 538.80 982.10 L 539.08 986.92 L 539.37 991.67 L 539.65 996.32 L 539.94 1000.88 L 540.22 1005.34 L 540.51 1009.68 L 540.79 1013.90 L 541.07 1018.00 L 541.36 1021.95 L 541.64 1025.77 L 541.93 1029.43 L 542.21 1032.94 L 542.50 1036.28 L 542.78 1039.45 L 543.07 1042.45 L 543.35 1045.28 L 543.64 1047.91 L 543.92 1050.36 L 544.21 1052.62 L 544.49 1054.68 L 544.77 1056.54 L 545.06 1058.20 L 545.34 1059.66 L 545.63 1060.91 L 545.91 1061.96 L 546.20 1062.79 L 546.48 1063.42 L 546.77 1063.84 L 547.05 1064.05 L 547.34 1064.05 L 547.62 1063.85 L 547.91 1063.44 L 548.19 1062.82 L 548.47 1062.01 L 548.76 1061.00 L 549.04 1059.79 L 549.33 1058.39 L 549.61 1056.80 L 549.90 1055.03 L 550.18 1053.08 L 550.47 1050.96 L 550.75 1048.66 L 551.04 1046.20 L 551.32 1043.59 L 551.61 1040.82 L 551.89 1037.91 L 552.18 1034.86 L 552.46 1031.67 L 552.74 1028.37 L 553.03 1024.94 L 553.31 1021.40 L 553.60 1017.76 L 553.88 1014.03 L 554.17 1010.21 L 554.45 1006.31 L 554.74 1002.34 L 555.02 998.31 L 555.31 994.22 L 555.59 990.09 L 555.88 985.92 L 556.16 981.73 L 556.44 977.51 L 556.73 973.28 L 557.01 969.04 L 557.30 964.81 L 557.58 960.59 L 557.87 956.40 L 558.15 952.23 L 558.44 948.09 L 558.72 944.01 L 559.01 939.97 L 559.29 936.00 L 559.58 932.09 L 559.86 928.25 L 560.15 924.49 L 560.43 920.83 L 560.71 917.25 L 561.00 913.78 L 561.28 910.41 L 561.57 907.15 L 561.85 904.01 L 562.14 900.99 L 562.42 898.10 L 562.71 895.33 L 562.99 892.71 L 563.28 890.22 L 563.56 887.87 L 563.85 885.67 L 564.13 883.62 L 564.41 881.72 L 564.70 879.97 L 564.98 878.38 L 565.27 876.95 L 565.55 875.67 L 565.84 874.56 L 566.12 873.60 L 566.41 872.80 L 566.69 872.16 L 566.98 871.69 L 567.26 871.37 L 567.55 871.21 L 567.83 871.20 L 568.12 871.35 L 568.40 871.65 L 568.68 872.11 L 568.97 872.71 L 569.25 873.45 L 569.54 874.34 L 569.82 875.37 L 570.11 876.53 L 570.39 877.83 L 570.68 879.25 L 570.96 880.79 L 571.25 882.46 L 571.53 884.23 L 571.82 886.12 L 572.10 888.11 L 572.38 890.21 L 572.67 892.39 L 572.95 894.67 L 573.24 897.02 L 573.52 899.46 L 573.81 901.96 L 574.09 904.54 L 574.38 907.17 L 574.66 909.86 L 574.95 912.59 L 575.23 915.37 L 575.52 918.18 L 575.80 921.03 L 576.08 923.90 L 576.37 926.79 L 576.65 929.68 L 576.94 932.59 L 577.22 935.50 L 577.51 938.40 L 577.79 941.29 L 578.08 944.17 L 578.36 947.02 L 578.65 949.85 L 578.93 952.64 L 579.22 955.40 L 579.50 958.12 L 579.79 960.79 L 580.07 963.41 L 580.35 965.97 L 580.64 968.47 L 580.92 970.91 L 581.21 973.27 L 581.49 975.57 L 581.78 977.79 L 582.06 979.93 L 582.35 981.99 L 582.63 983.97 L 582.92 985.86 L 583.20 987.66 L 583.49 989.36 L 583.77 990.97 L 584.05 992.49 L 584.34 993.91 L 584.62 995.23 L 584.91 996.45 L 585.19 997.56 L 585.48 998.58 L 585.76 999.49 L 586.05 1000.31 L 586.33 1001.02 L 586.62 1001.62 L 586.90 1002.13 L 587.19 1002.53 L 587.47 1002.83 L 587.76 1003.04 L 588.04 1003.14 L 588.32 1003.15 L 588.61 1003.06 L 588.89 1002.88 L 589.18 1002.60 L 589.46 1002.24 L 589.75 1001.79 L 590.03 1001.25 L 590.32 1000.63 L 590.60 999.93 L 590.89 999.15 L 591.17 998.30 L 591.46 997.37 L 591.74 996.38 L 592.02 995.32 L 592.31 994.19 L 592.59 993.01 L 592.88 991.77 L 593.16 990.48 L 593.45 989.14 L 593.73 987.76 L 594.02 986.33 L 594.30 984.86 L 594.59 983.36 L 594.87 981.83 L 595.16 980.27 L 595.44 978.69 L 595.73 977.08 L 596.01 975.46 L 596.29 973.83 L 596.58 972.19 L 596.86 970.54 L 597.15 968.88 L 597.43 967.23 L 597.72 965.58 L 598.00 963.94 L 598.29 962.31 L 598.57 960.69 L 598.86 959.09 L 599.14 957.50 L 599.43 955.94 L 599.71 954.41 L 599.99 952.90 L 600.28 951.42 L 600.56 949.97 L 600.85 948.56 L 601.13 947.18 L 601.42 945.84 L 601.70 944.55 L 601.99 943.29 L 602.27 942.08 L 602.56 940.92 L 602.84 939.80 L 603.13 938.73 L 603.41 937.72 L 603.70 936.75 L 603.98 935.83 L 604.26 934.97 L 604.55 934.16 L 604.83 933.40 L 605.12 932.70 L 605.40 932.06 L 605.69 931.46 L 605.97 930.93 L 606.26 930.44 L 606.54 930.02 L 606.83 929.64 L 607.11 929.32 L 607.40 929.06 L 607.68 928.85 L 607.96 928.69 L 608.25 928.58 L 608.53 928.52 L 608.82 928.51 L 609.10 928.55 L 609.39 928.64 L 609.67 928.78 L 609.96 928.96 L 610.24 929.18 L 610.53 929.45 L 610.81 929.76 L 611.10 930.11 L 611.38 930.49 L 611.66 930.91 L 611.95 931.37 L 612.23 931.86 L 612.52 932.38 L 612.80 932.93 L 613.09 933.51 L 613.37 934.11 L 613.66 934.74 L 613.94 935.39 L 614.23 936.06 L 614.51 936.75 L 614.80 937.46 L 615.08 938.18 L 615.37 938.91 L 615.65 939.66 L 615.93 940.41 L 616.22 941.18 L 616.50 941.95 L 616.79 942.72 L 617.07 943.50 L 617.36 944.28 L 617.64 945.05 L 617.93 945.83 L 618.21 946.60 L 618.50 947.37 L 618.78 948.13 L 619.07 948.88 L 619.35 949.62 L 619.63 950.35 L 619.92 951.07 L 620.20 951.78 L 620.49 952.47 L 620.77 953.15 L 621.06 953.81 L 621.34 954.45 L 621.63 955.08 L 621.91 955.68 L 622.20 956.27 L 622.48 956.84 L 622.77 957.38 L 623.05 957.90 L 623.34 958.40 L 623.62 958.88 L 623.90 959.33 L 624.19 959.77 L 624.47 960.17 L 624.76 960.55 L 625.04 960.91 L 625.33 961.25 L 625.61 961.55 L 625.90 961.84 L 626.18 962.10 L 626.47 962.33 L 626.75 962.54 L 627.04 962.73 L 627.32 962.89 L 627.60 963.03 L 627.89 963.15 L 628.17 963.24 L 628.46 963.31 L 628.74 963.36 L 629.03 963.39 L 629.31 963.39 L 629.60 963.38 L 629.88 963.34 L 630.17 963.29 L 630.45 963.22 L 630.74 963.13 L 631.02 963.02 L 631.31 962.89 L 631.59 962.75 L 631.87 962.59 L 632.16 962.42 L 632.44 962.24 L 632.73 962.04 L 633.01 961.83 L 633.30 961.61 L 633.58 961.37 L 633.87 961.13 L 634.15 960.88 L 634.44 960.62 L 634.72 960.35 L 635.01 960.08 L 635.29 959.80 L 635.57 959.51 L 635.86 959.22 L 636.14 958.93 L 636.43 958.63 L 636.71 958.33 L 637.00 958.03 L 637.28 957.73 L 637.57 957.42 L 637.85 957.12 L 638.14 956.82 L 638.42 956.52 L 638.71 956.22 L 638.99 955.93 L 639.28 955.63 L 639.56 955.35 L 639.84 955.06 L 640.13 954.78 L 640.41 954.51 L 640.70 954.24 L 640.98 953.98 L 641.27 953.72 L 641.55 953.47 L 641.84 953.23 L 642.12 953.00 L 642.41 952.77 L 642.69 952.55 L 642.98 952.34 L 643.26 952.14 L 643.54 951.95 L 643.83 951.76 L 644.11 951.58 L 644.40 951.42 L 644.68 951.26 L 644.97 951.11 L 645.25 950.97 L 645.54 950.84 L 645.82 950.72 L 646.11 950.61 L 646.39 950.50 L 646.68 950.41 L 646.96 950.32 L 647.24 950.25 L 647.53 950.18 L 647.81 950.12 L 648.10 950.07 L 648.38 950.03 L 648.67 949.99 L 648.95 949.97 L 649.24 949.95 L 649.52 949.94 L 649.81 949.93 L 650.09 949.94 L 650.38 949.95 L 650.66 949.97 L 650.95 949.99 L 651.23 950.02 L 651.51 950.06 L 651.80 950.10 L 652.08 950.15 L 652.37 950.20 L 652.65 950.26 L 652.94 950.32 L 653.22 950.38 L 653.51 950.45 L 653.79 950.53 L 654.08 950.60 L 654.36 950.68 L 654.65 950.77" stroke="#d55c61" stroke-width="3.6" fill="none" stroke-linejoin="round"/>
<path d="M 398.75 945.06 L 399.04 944.57 L 399.32 944.12 L 399.61 943.72 L 399.89 943.37 L 400.18 943.08 L 400.46 942.85 L 400.75 942.67 L 401.03 942.56 L 401.32 942.50 L 401.60 942.51 L 401.89 942.58 L 402.17 942.71 L 402.45 942.89 L 402.74 943.14 L 403.02 943.44 L 403.31 943.80 L 403.59 944.20 L 403.88 944.66 L 404.16 945.16 L 404.45 945.71 L 404.73 946.29 L 405.02 946.91 L 405.30 947.56 L 405.59 948.24 L 405.87 948.94 L 406.16 949.65 L 406.44 950.38 L 406.72 951.12 L 407.01 951.86 L 407.29 952.61 L 407.58 953.34 L 407.86 954.07 L 408.15 954.78 L 408.43 955.47 L 408.72 956.14 L 409.00 956.78 L 409.29 957.40 L 409.57 957.98 L 409.86 958.52 L 410.14 959.02 L 410.42 959.49 L 410.71 959.90 L 410.99 960.28 L 411.28 960.60 L 411.56 960.88 L 411.85 961.11 L 412.13 961.29 L 412.42 961.42 L 412.70 961.51 L 412.99 961.55 L 413.27 961.54 L 413.56 961.48 L 413.84 961.39 L 414.12 961.26 L 414.41 961.08 L 414.69 960.88 L 414.98 960.64 L 415.26 960.37 L 415.55 960.09 L 415.83 959.77 L 416.12 959.45 L 416.40 959.11 L 416.69 958.76 L 416.97 958.40 L 417.26 958.05 L 417.54 957.70 L 417.83 957.35 L 418.11 957.02 L 418.39 956.70 L 418.68 956.40 L 418.96 956.13 L 419.25 955.87 L 419.53 955.65 L 419.82 955.46 L 420.10 955.30 L 420.39 955.17 L 420.67 955.09 L 420.96 955.04 L 421.24 955.03 L 421.53 955.06 L 421.81 955.13 L 422.09 955.24 L 422.38 955.39 L 422.66 955.58 L 422.95 955.81 L 423.23 956.08 L 423.52 956.37 L 423.80 956.70 L 424.09 957.06 L 424.37 957.45 L 424.66 957.85 L 424.94 958.28 L 425.23 958.72 L 425.51 959.17 L 425.80 959.62 L 426.08 960.08 L 426.36 960.54 L 426.65 960.98 L 426.93 961.42 L 427.22 961.84 L 427.50 962.23 L 427.79 962.60 L 428.07 962.93 L 428.36 963.23 L 428.64 963.48 L 428.93 963.70 L 429.21 963.86 L 429.50 963.96 L 429.78 964.01 L 430.06 964.00 L 430.35 963.92 L 430.63 963.78 L 430.92 963.57 L 431.20 963.29 L 431.49 962.94 L 431.77 962.51 L 432.06 962.02 L 432.34 961.44 L 432.63 960.80 L 432.91 960.08 L 433.20 959.29 L 433.48 958.43 L 433.77 957.51 L 434.05 956.52 L 434.33 955.47 L 434.62 954.36 L 434.90 953.20 L 435.19 951.99 L 435.47 950.74 L 435.76 949.44 L 436.04 948.12 L 436.33 946.76 L 436.61 945.38 L 436.90 943.98 L 437.18 942.58 L 437.47 941.16 L 437.75 939.76 L 438.03 938.36 L 438.32 936.97 L 438.60 935.61 L 438.89 934.28 L 439.17 932.98 L 439.46 931.72 L 439.74 930.51 L 440.03 929.35 L 440.31 928.25 L 440.60 927.22 L 440.88 926.26 L 441.17 925.37 L 441.45 924.56 L 441.74 923.83 L 442.02 923.18 L 442.30 922.63 L 442.59 922.17 L 442.87 921.81 L 443.16 921.54 L 443.44 921.37 L 443.73 921.30 L 444.01 921.33 L 444.30 921.46 L 444.58 921.69 L 444.87 922.01 L 445.15 922.44 L 445.44 922.96 L 445.72 923.57 L 446.00 924.28 L 446.29 925.07 L 446.57 925.95 L 446.86 926.91 L 447.14 927.94 L 447.43 929.05 L 447.71 930.23 L 448.00 931.47 L 448.28 932.77 L 448.57 934.13 L 448.85 935.53 L 449.14 936.98 L 449.42 938.46 L 449.70 939.98 L 449.99 941.53 L 450.27 943.10 L 450.56 944.69 L 450.84 946.29 L 451.13 947.90 L 451.41 949.51 L 451.70 951.12 L 451.98 952.73 L 452.27 954.33 L 452.55 955.91 L 452.84 957.48 L 453.12 959.02 L 453.41 960.54 L 453.69 962.04 L 453.97 963.51 L 454.26 964.95 L 454.54 966.35 L 454.83 967.72 L 455.11 969.06 L 455.40 970.36 L 455.68 971.62 L 455.97 972.85 L 456.25 974.03 L 456.54 975.19 L 456.82 976.30 L 457.11 977.38 L 457.39 978.42 L 457.67 979.43 L 457.96 980.40 L 458.24 981.34 L 458.53 982.25 L 458.81 983.13 L 459.10 983.98 L 459.38 984.80 L 459.67 985.59 L 459.95 986.36 L 460.24 987.10 L 460.52 987.82 L 460.81 988.51 L 461.09 989.18 L 461.38 989.83 L 461.66 990.45 L 461.94 991.06 L 462.23 991.64 L 462.51 992.19 L 462.80 992.73 L 463.08 993.23 L 463.37 993.71 L 463.65 994.17 L 463.94 994.59 L 464.22 994.98 L 464.51 995.34 L 464.79 995.66 L 465.08 995.94 L 465.36 996.17 L 465.64 996.36 L 465.93 996.51 L 466.21 996.59 L 466.50 996.62 L 466.78 996.59 L 467.07 996.50 L 467.35 996.33 L 467.64 996.09 L 467.92 995.78 L 468.21 995.38 L 468.49 994.89 L 468.78 994.32 L 469.06 993.65 L 469.35 992.89 L 469.63 992.02 L 469.91 991.06 L 470.20 989.98 L 470.48 988.80 L 470.77 987.50 L 471.05 986.09 L 471.34 984.57 L 471.62 982.93 L 471.91 981.17 L 472.19 979.30 L 472.48 977.31 L 472.76 975.21 L 473.05 972.99 L 473.33 970.66 L 473.61 968.23 L 473.90 965.68 L 474.18 963.04 L 474.47 960.29 L 474.75 957.46 L 475.04 954.53 L 475.32 951.53 L 475.61 948.45 L 475.89 945.30 L 476.18 942.09 L 476.46 938.82 L 476.75 935.52 L 477.03 932.17 L 477.32 928.80 L 477.60 925.41 L 477.88 922.02 L 478.17 918.62 L 478.45 915.24 L 478.74 911.88 L 479.02 908.56 L 479.31 905.28 L 479.59 902.05 L 479.88 898.89 L 480.16 895.81 L 480.45 892.81 L 480.73 889.91 L 481.02 887.12 L 481.30 884.44 L 481.58 881.89 L 481.87 879.47 L 482.15 877.20 L 482.44 875.08 L 482.72 873.12 L 483.01 871.33 L 483.29 869.71 L 483.58 868.28 L 483.86 867.03 L 484.15 865.98 L 484.43 865.12 L 484.72 864.46 L 485.00 864.01 L 485.28 863.76 L 485.57 863.72 L 485.85 863.89 L 486.14 864.27 L 486.42 864.86 L 486.71 865.66 L 486.99 866.67 L 487.28 867.88 L 487.56 869.29 L 487.85 870.90 L 488.13 872.70 L 488.42 874.69 L 488.70 876.87 L 488.99 879.23 L 489.27 881.75 L 489.55 884.45 L 489.84 887.29 L 490.12 890.29 L 490.41 893.43 L 490.69 896.71 L 490.98 900.11 L 491.26 903.63 L 491.55 907.25 L 491.83 910.97 L 492.12 914.78 L 492.40 918.67 L 492.69 922.63 L 492.97 926.65 L 493.25 930.72 L 493.54 934.83 L 493.82 938.98 L 494.11 943.14 L 494.39 947.33 L 494.68 951.52 L 494.96 955.70 L 495.25 959.87 L 495.53 964.03 L 495.82 968.16 L 496.10 972.25 L 496.39 976.30 L 496.67 980.31 L 496.96 984.25 L 497.24 988.14 L 497.52 991.96 L 497.81 995.70 L 498.09 999.37 L 498.38 1002.96 L 498.66 1006.45 L 498.95 1009.85 L 499.23 1013.16 L 499.52 1016.37 L 499.80 1019.47 L 500.09 1022.47 L 500.37 1025.35 L 500.66 1028.12 L 500.94 1030.78 L 501.22 1033.32 L 501.51 1035.74 L 501.79 1038.03 L 502.08 1040.20 L 502.36 1042.24 L 502.65 1044.15 L 502.93 1045.94 L 503.22 1047.59 L 503.50 1049.10 L 503.79 1050.48 L 504.07 1051.73 L 504.36 1052.83 L 504.64 1053.79 L 504.93 1054.61 L 505.21 1055.29 L 505.49 1055.82 L 505.78 1056.20 L 506.06 1056.43 L 506.35 1056.51 L 506.63 1056.44 L 506.92 1056.21 L 507.20 1055.83 L 507.49 1055.29 L 507.77 1054.59 L 508.06 1053.73 L 508.34 1052.71 L 508.63 1051.52 L 508.91 1050.17 L 509.19 1048.65 L 509.48 1046.97 L 509.76 1045.12 L 510.05 1043.10 L 510.33 1040.91 L 510.62 1038.55 L 510.90 1036.03 L 511.19 1033.34 L 511.47 1030.49 L 511.76 1027.47 L 512.04 1024.28 L 512.33 1020.94 L 512.61 1017.44 L 512.89 1013.78 L 513.18 1009.98 L 513.46 1006.02 L 513.75 1001.93 L 514.03 997.70 L 514.32 993.33 L 514.60 988.84 L 514.89 984.23 L 515.17 979.51 L 515.46 974.69 L 515.74 969.77 L 516.03 964.77 L 516.31 959.69 L 516.60 954.54 L 516.88 949.33 L 517.16 944.08 L 517.45 938.79 L 517.73 933.47 L 518.02 928.15 L 518.30 922.82 L 518.59 917.51 L 518.87 912.22 L 519.16 906.96 L 519.44 901.76 L 519.73 896.62 L 520.01 891.56 L 520.30 886.59 L 520.58 881.72 L 520.86 876.96 L 521.15 872.34 L 521.43 867.86 L 521.72 863.52 L 522.00 859.36 L 522.29 855.37 L 522.57 851.58 L 522.86 847.98 L 523.14 844.59 L 523.43 841.42 L 523.71 838.48 L 524.00 835.78 L 524.28 833.33 L 524.57 831.13 L 524.85 829.19 L 525.13 827.52 L 525.42 826.11 L 525.70 824.99 L 525.99 824.14 L 526.27 823.57 L 526.56 823.29 L 526.84 823.29 L 527.13 823.57 L 527.41 824.14 L 527.70 824.99 L 527.98 826.11 L 528.27 827.52 L 528.55 829.19 L 528.83 831.13 L 529.12 833.33 L 529.40 835.78 L 529.69 838.48 L 529.97 841.42 L 530.26 844.59 L 530.54 847.98 L 530.83 851.58 L 531.11 855.37 L 531.40 859.36 L 531.68 863.52 L 531.97 867.86 L 532.25 872.34 L 532.54 876.96 L 532.82 881.72 L 533.10 886.59 L 533.39 891.56 L 533.67 896.62 L 533.96 901.76 L 534.24 906.96 L 534.53 912.22 L 534.81 917.51 L 535.10 922.82 L 535.38 928.15 L 535.67 933.47 L 535.95 938.79 L 536.24 944.08 L 536.52 949.33 L 536.80 954.54 L 537.09 959.69 L 537.37 964.77 L 537.66 969.77 L 537.94 974.69 L 538.23 979.51 L 538.51 984.23 L 538.80 988.84 L 539.08 993.33 L 539.37 997.70 L 539.65 1001.93 L 539.94 1006.02 L 540.22 1009.98 L 540.51 1013.78 L 540.79 1017.44 L 541.07 1020.94 L 541.36 1024.28 L 541.64 1027.47 L 541.93 1030.49 L 542.21 1033.34 L 542.50 1036.03 L 542.78 1038.55 L 543.07 1040.91 L 543.35 1043.10 L 543.64 1045.12 L 543.92 1046.97 L 544.21 1048.65 L 544.49 1050.17 L 544.77 1051.52 L 545.06 1052.71 L 545.34 1053.73 L 545.63 1054.59 L 545.91 1055.29 L 546.20 1055.83 L 546.48 1056.21 L 546.77 1056.44 L 547.05 1056.51 L 547.34 1056.43 L 547.62 1056.20 L 547.91 1055.82 L 548.19 1055.29 L 548.47 1054.61 L 548.76 1053.79 L 549.04 1052.83 L 549.33 1051.73 L 549.61 1050.48 L 549.90 1049.10 L 550.18 1047.59 L 550.47 1045.94 L 550.75 1044.15 L 551.04 1042.24 L 551.32 1040.20 L 551.61 1038.03 L 551.89 1035.74 L 552.18 1033.32 L 552.46 1030.78 L 552.74 1028.12 L 553.03 1025.35 L 553.31 1022.47 L 553.60 1019.47 L 553.88 1016.37 L 554.17 1013.16 L 554.45 1009.85 L 554.74 1006.45 L 555.02 1002.96 L 555.31 999.37 L 555.59 995.70 L 555.88 991.96 L 556.16 988.14 L 556.44 984.25 L 556.73 980.31 L 557.01 976.30 L 557.30 972.25 L 557.58 968.16 L 557.87 964.03 L 558.15 959.87 L 558.44 955.70 L 558.72 951.52 L 559.01 947.33 L 559.29 943.14 L 559.58 938.98 L 559.86 934.83 L 560.15 930.72 L 560.43 926.65 L 560.71 922.63 L 561.00 918.67 L 561.28 914.78 L 561.57 910.97 L 561.85 907.25 L 562.14 903.63 L 562.42 900.11 L 562.71 896.71 L 562.99 893.43 L 563.28 890.29 L 563.56 887.29 L 563.85 884.45 L 564.13 881.75 L 564.41 879.23 L 564.70 876.87 L 564.98 874.69 L 565.27 872.70 L 565.55 870.90 L 565.84 869.29 L 566.12 867.88 L 566.41 866.67 L 566.69 865.66 L 566.98 864.86 L 567.26 864.27 L 567.55 863.89 L 567.83 863.72 L 568.12 863.76 L 568.40 864.01 L 568.68 864.46 L 568.97 865.12 L 569.25 865.98 L 569.54 867.03 L 569.82 868.28 L 570.11 869.71 L 570.39 871.33 L 570.68 873.12 L 570.96 875.08 L 571.25 877.20 L 571.53 879.47 L 571.82 881.89 L 572.10 884.44 L 572.38 887.12 L 572.67 889.91 L 572.95 892.81 L 573.24 895.81 L 573.52 898.89 L 573.81 902.05 L 574.09 905.28 L 574.38 908.56 L 574.66 911.88 L 574.95 915.24 L 575.23 918.62 L 575.52 922.02 L 575.80 925.41 L 576.08 928.80 L 576.37 932.17 L 576.65 935.52 L 576.94 938.82 L 577.22 942.09 L 577.51 945.30 L 577.79 948.45 L 578.08 951.53 L 578.36 954.53 L 578.65 957.46 L 578.93 960.29 L 579.22 963.04 L 579.50 965.68 L 579.79 968.23 L 580.07 970.66 L 580.35 972.99 L 580.64 975.21 L 580.92 977.31 L 581.21 979.30 L 581.49 981.17 L 581.78 982.93 L 582.06 984.57 L 582.35 986.09 L 582.63 987.50 L 582.92 988.80 L 583.20 989.98 L 583.49 991.06 L 583.77 992.02 L 584.05 992.89 L 584.34 993.65 L 584.62 994.32 L 584.91 994.89 L 585.19 995.38 L 585.48 995.78 L 585.76 996.09 L 586.05 996.33 L 586.33 996.50 L 586.62 996.59 L 586.90 996.62 L 587.19 996.59 L 587.47 996.51 L 587.76 996.36 L 588.04 996.17 L 588.32 995.94 L 588.61 995.66 L 588.89 995.34 L 589.18 994.98 L 589.46 994.59 L 589.75 994.17 L 590.03 993.71 L 590.32 993.23 L 590.60 992.73 L 590.89 992.19 L 591.17 991.64 L 591.46 991.06 L 591.74 990.45 L 592.02 989.83 L 592.31 989.18 L 592.59 988.51 L 592.88 987.82 L 593.16 987.10 L 593.45 986.36 L 593.73 985.59 L 594.02 984.80 L 594.30 983.98 L 594.59 983.13 L 594.87 982.25 L 595.16 981.34 L 595.44 980.40 L 595.73 979.43 L 596.01 978.42 L 596.29 977.38 L 596.58 976.30 L 596.86 975.19 L 597.15 974.03 L 597.43 972.85 L 597.72 971.62 L 598.00 970.36 L 598.29 969.06 L 598.57 967.72 L 598.86 966.35 L 599.14 964.95 L 599.43 963.51 L 599.71 962.04 L 599.99 960.54 L 600.28 959.02 L 600.56 957.48 L 600.85 955.91 L 601.13 954.33 L 601.42 952.73 L 601.70 951.12 L 601.99 949.51 L 602.27 947.90 L 602.56 946.29 L 602.84 944.69 L 603.13 943.10 L 603.41 941.53 L 603.70 939.98 L 603.98 938.46 L 604.26 936.98 L 604.55 935.53 L 604.83 934.13 L 605.12 932.77 L 605.40 931.47 L 605.69 930.23 L 605.97 929.05 L 606.26 927.94 L 606.54 926.91 L 606.83 925.95 L 607.11 925.07 L 607.40 924.28 L 607.68 923.57 L 607.96 922.96 L 608.25 922.44 L 608.53 922.01 L 608.82 921.69 L 609.10 921.46 L 609.39 921.33 L 609.67 921.30 L 609.96 921.37 L 610.24 921.54 L 610.53 921.81 L 610.81 922.17 L 611.10 922.63 L 611.38 923.18 L 611.66 923.83 L 611.95 924.56 L 612.23 925.37 L 612.52 926.26 L 612.80 927.22 L 613.09 928.25 L 613.37 929.35 L 613.66 930.51 L 613.94 931.72 L 614.23 932.98 L 614.51 934.28 L 614.80 935.61 L 615.08 936.97 L 615.37 938.36 L 615.65 939.76 L 615.93 941.16 L 616.22 942.58 L 616.50 943.98 L 616.79 945.38 L 617.07 946.76 L 617.36 948.12 L 617.64 949.44 L 617.93 950.74 L 618.21 951.99 L 618.50 953.20 L 618.78 954.36 L 619.07 955.47 L 619.35 956.52 L 619.63 957.51 L 619.92 958.43 L 620.20 959.29 L 620.49 960.08 L 620.77 960.80 L 621.06 961.44 L 621.34 962.02 L 621.63 962.51 L 621.91 962.94 L 622.20 963.29 L 622.48 963.57 L 622.77 963.78 L 623.05 963.92 L 623.34 964.00 L 623.62 964.01 L 623.90 963.96 L 624.19 963.86 L 624.47 963.70 L 624.76 963.48 L 625.04 963.23 L 625.33 962.93 L 625.61 962.60 L 625.90 962.23 L 626.18 961.84 L 626.47 961.42 L 626.75 960.98 L 627.04 960.54 L 627.32 960.08 L 627.60 959.62 L 627.89 959.17 L 628.17 958.72 L 628.46 958.28 L 628.74 957.85 L 629.03 957.45 L 629.31 957.06 L 629.60 956.70 L 629.88 956.37 L 630.17 956.08 L 630.45 955.81 L 630.74 955.58 L 631.02 955.39 L 631.31 955.24 L 631.59 955.13 L 631.87 955.06 L 632.16 955.03 L 632.44 955.04 L 632.73 955.09 L 633.01 955.17 L 633.30 955.30 L 633.58 955.46 L 633.87 955.65 L 634.15 955.87 L 634.44 956.13 L 634.72 956.40 L 635.01 956.70 L 635.29 957.02 L 635.57 957.35 L 635.86 957.70 L 636.14 958.05 L 636.43 958.40 L 636.71 958.76 L 637.00 959.11 L 637.28 959.45 L 637.57 959.77 L 637.85 960.09 L 638.14 960.37 L 638.42 960.64 L 638.71 960.88 L 638.99 961.08 L 639.28 961.26 L 639.56 961.39 L 639.84 961.48 L 640.13 961.54 L 640.41 961.55 L 640.70 961.51 L 640.98 961.42 L 641.27 961.29 L 641.55 961.11 L 641.84 960.88 L 642.12 960.60 L 642.41 960.28 L 642.69 959.90 L 642.98 959.49 L 643.26 959.02 L 643.54 958.52 L 643.83 957.98 L 644.11 957.40 L 644.40 956.78 L 644.68 956.14 L 644.97 955.47 L 645.25 954.78 L 645.54 954.07 L 645.82 953.34 L 646.11 952.61 L 646.39 951.86 L 646.68 951.12 L 646.96 950.38 L 647.24 949.65 L 647.53 948.94 L 647.81 948.24 L 648.10 947.56 L 648.38 946.91 L 648.67 946.29 L 648.95 945.71 L 649.24 945.16 L 649.52 944.66 L 649.81 944.20 L 650.09 943.80 L 650.38 943.44 L 650.66 943.14 L 650.95 942.89 L 651.23 942.71 L 651.51 942.58 L 651.80 942.51 L 652.08 942.50 L 652.37 942.56 L 652.65 942.67 L 652.94 942.85 L 653.22 943.08 L 653.51 943.37 L 653.79 943.72 L 654.08 944.12 L 654.36 944.57 L 654.65 945.06" stroke="#5e94c5" stroke-width="3.6" fill="none" stroke-linejoin="round"/>
<rect x="672.7" y="805.3" width="255.8" height="296.20000000000005" fill="none" stroke="#262626" stroke-width="1.5"/>
<path d="M722.25 805.3 v4.5 M722.25 1101.5 v-4.5 M800.60 805.3 v4.5 M800.60 1101.5 v-4.5 M878.95 805.3 v4.5 M878.95 1101.5 v-4.5 M672.7 1055.30 h4.5 M928.50 1055.30 h-4.5 M672.7 1004.30 h4.5 M928.50 1004.30 h-4.5 M672.7 953.30 h4.5 M928.50 953.30 h-4.5 M672.7 902.30 h4.5 M928.50 902.30 h-4.5 M672.7 851.30 h4.5 M928.50 851.30 h-4.5" stroke="#6a6a6a" stroke-width="1.1" fill="none"/>
<path d="M 672.65 927.53 L 672.94 926.96 L 673.22 926.43 L 673.51 925.94 L 673.79 925.51 L 674.08 925.12 L 674.36 924.77 L 674.65 924.48 L 674.93 924.24 L 675.22 924.05 L 675.50 923.91 L 675.79 923.83 L 676.07 923.80 L 676.35 923.82 L 676.64 923.91 L 676.92 924.05 L 677.21 924.24 L 677.49 924.50 L 677.78 924.81 L 678.06 925.18 L 678.35 925.61 L 678.63 926.10 L 678.92 926.64 L 679.20 927.24 L 679.49 927.90 L 679.77 928.61 L 680.06 929.38 L 680.34 930.21 L 680.62 931.09 L 680.91 932.02 L 681.19 933.00 L 681.48 934.04 L 681.76 935.12 L 682.05 936.25 L 682.33 937.43 L 682.62 938.65 L 682.90 939.91 L 683.19 941.22 L 683.47 942.56 L 683.76 943.94 L 684.04 945.36 L 684.32 946.80 L 684.61 948.28 L 684.89 949.78 L 685.18 951.31 L 685.46 952.86 L 685.75 954.43 L 686.03 956.02 L 686.32 957.62 L 686.60 959.23 L 686.89 960.85 L 687.17 962.47 L 687.46 964.10 L 687.74 965.72 L 688.02 967.34 L 688.31 968.95 L 688.59 970.55 L 688.88 972.14 L 689.16 973.71 L 689.45 975.26 L 689.73 976.79 L 690.02 978.28 L 690.30 979.75 L 690.59 981.19 L 690.87 982.59 L 691.16 983.95 L 691.44 985.27 L 691.73 986.54 L 692.01 987.77 L 692.29 988.94 L 692.58 990.06 L 692.86 991.13 L 693.15 992.13 L 693.43 993.07 L 693.72 993.95 L 694.00 994.76 L 694.29 995.50 L 694.57 996.17 L 694.86 996.77 L 695.14 997.29 L 695.43 997.74 L 695.71 998.10 L 695.99 998.39 L 696.28 998.59 L 696.56 998.72 L 696.85 998.75 L 697.13 998.70 L 697.42 998.57 L 697.70 998.35 L 697.99 998.04 L 698.27 997.65 L 698.56 997.17 L 698.84 996.60 L 699.13 995.94 L 699.41 995.19 L 699.70 994.36 L 699.98 993.45 L 700.26 992.45 L 700.55 991.36 L 700.83 990.19 L 701.12 988.94 L 701.40 987.61 L 701.69 986.21 L 701.97 984.72 L 702.26 983.17 L 702.54 981.54 L 702.83 979.84 L 703.11 978.07 L 703.40 976.24 L 703.68 974.35 L 703.96 972.40 L 704.25 970.39 L 704.53 968.34 L 704.82 966.23 L 705.10 964.08 L 705.39 961.89 L 705.67 959.65 L 705.96 957.39 L 706.24 955.10 L 706.53 952.78 L 706.81 950.43 L 707.10 948.07 L 707.38 945.70 L 707.67 943.32 L 707.95 940.94 L 708.23 938.55 L 708.52 936.17 L 708.80 933.80 L 709.09 931.44 L 709.37 929.11 L 709.66 926.79 L 709.94 924.50 L 710.23 922.25 L 710.51 920.03 L 710.80 917.86 L 711.08 915.73 L 711.37 913.65 L 711.65 911.62 L 711.93 909.66 L 712.22 907.76 L 712.50 905.92 L 712.79 904.16 L 713.07 902.48 L 713.36 900.87 L 713.64 899.35 L 713.93 897.91 L 714.21 896.57 L 714.50 895.32 L 714.78 894.17 L 715.07 893.11 L 715.35 892.16 L 715.64 891.32 L 715.92 890.59 L 716.20 889.96 L 716.49 889.45 L 716.77 889.05 L 717.06 888.77 L 717.34 888.61 L 717.63 888.57 L 717.91 888.65 L 718.20 888.84 L 718.48 889.17 L 718.77 889.61 L 719.05 890.18 L 719.34 890.87 L 719.62 891.68 L 719.90 892.61 L 720.19 893.67 L 720.47 894.84 L 720.76 896.13 L 721.04 897.54 L 721.33 899.07 L 721.61 900.71 L 721.90 902.46 L 722.18 904.32 L 722.47 906.29 L 722.75 908.36 L 723.04 910.53 L 723.32 912.80 L 723.60 915.16 L 723.89 917.62 L 724.17 920.15 L 724.46 922.77 L 724.74 925.47 L 725.03 928.24 L 725.31 931.08 L 725.60 933.98 L 725.88 936.94 L 726.17 939.96 L 726.45 943.02 L 726.74 946.13 L 727.02 949.27 L 727.31 952.44 L 727.59 955.64 L 727.87 958.86 L 728.16 962.09 L 728.44 965.33 L 728.73 968.57 L 729.01 971.81 L 729.30 975.04 L 729.58 978.25 L 729.87 981.44 L 730.15 984.60 L 730.44 987.72 L 730.72 990.80 L 731.01 993.84 L 731.29 996.82 L 731.57 999.74 L 731.86 1002.60 L 732.14 1005.38 L 732.43 1008.09 L 732.71 1010.72 L 733.00 1013.25 L 733.28 1015.69 L 733.57 1018.04 L 733.85 1020.28 L 734.14 1022.41 L 734.42 1024.42 L 734.71 1026.32 L 734.99 1028.09 L 735.28 1029.74 L 735.56 1031.26 L 735.84 1032.64 L 736.13 1033.89 L 736.41 1034.99 L 736.70 1035.95 L 736.98 1036.76 L 737.27 1037.42 L 737.55 1037.93 L 737.84 1038.28 L 738.12 1038.48 L 738.41 1038.52 L 738.69 1038.41 L 738.98 1038.13 L 739.26 1037.70 L 739.54 1037.11 L 739.83 1036.35 L 740.11 1035.44 L 740.40 1034.37 L 740.68 1033.14 L 740.97 1031.76 L 741.25 1030.22 L 741.54 1028.53 L 741.82 1026.69 L 742.11 1024.71 L 742.39 1022.58 L 742.68 1020.30 L 742.96 1017.89 L 743.25 1015.35 L 743.53 1012.67 L 743.81 1009.87 L 744.10 1006.95 L 744.38 1003.91 L 744.67 1000.76 L 744.95 997.50 L 745.24 994.14 L 745.52 990.69 L 745.81 987.15 L 746.09 983.52 L 746.38 979.82 L 746.66 976.05 L 746.95 972.22 L 747.23 968.33 L 747.51 964.39 L 747.80 960.40 L 748.08 956.39 L 748.37 952.34 L 748.65 948.28 L 748.94 944.20 L 749.22 940.12 L 749.51 936.04 L 749.79 931.97 L 750.08 927.92 L 750.36 923.90 L 750.65 919.91 L 750.93 915.96 L 751.22 912.05 L 751.50 908.21 L 751.78 904.43 L 752.07 900.72 L 752.35 897.09 L 752.64 893.55 L 752.92 890.10 L 753.21 886.75 L 753.49 883.50 L 753.78 880.37 L 754.06 877.36 L 754.35 874.48 L 754.63 871.72 L 754.92 869.11 L 755.20 866.64 L 755.48 864.32 L 755.77 862.15 L 756.05 860.14 L 756.34 858.29 L 756.62 856.62 L 756.91 855.11 L 757.19 853.78 L 757.48 852.62 L 757.76 851.65 L 758.05 850.86 L 758.33 850.26 L 758.62 849.84 L 758.90 849.62 L 759.18 849.58 L 759.47 849.74 L 759.75 850.09 L 760.04 850.63 L 760.32 851.37 L 760.61 852.29 L 760.89 853.41 L 761.18 854.71 L 761.46 856.21 L 761.75 857.89 L 762.03 859.75 L 762.32 861.79 L 762.60 864.01 L 762.89 866.40 L 763.17 868.97 L 763.45 871.70 L 763.74 874.59 L 764.02 877.63 L 764.31 880.83 L 764.59 884.18 L 764.88 887.66 L 765.16 891.28 L 765.45 895.03 L 765.73 898.90 L 766.02 902.88 L 766.30 906.97 L 766.59 911.16 L 766.87 915.44 L 767.15 919.81 L 767.44 924.25 L 767.72 928.77 L 768.01 933.34 L 768.29 937.97 L 768.58 942.64 L 768.86 947.34 L 769.15 952.07 L 769.43 956.82 L 769.72 961.58 L 770.00 966.34 L 770.29 971.09 L 770.57 975.82 L 770.86 980.52 L 771.14 985.19 L 771.42 989.81 L 771.71 994.38 L 771.99 998.89 L 772.28 1003.33 L 772.56 1007.69 L 772.85 1011.96 L 773.13 1016.13 L 773.42 1020.20 L 773.70 1024.16 L 773.99 1027.99 L 774.27 1031.70 L 774.56 1035.28 L 774.84 1038.71 L 775.12 1042.00 L 775.41 1045.13 L 775.69 1048.10 L 775.98 1050.90 L 776.26 1053.53 L 776.55 1055.98 L 776.83 1058.24 L 777.12 1060.32 L 777.40 1062.21 L 777.69 1063.90 L 777.97 1065.39 L 778.26 1066.67 L 778.54 1067.75 L 778.83 1068.62 L 779.11 1069.28 L 779.39 1069.73 L 779.68 1069.97 L 779.96 1069.99 L 780.25 1069.79 L 780.53 1069.38 L 780.82 1068.75 L 781.10 1067.91 L 781.39 1066.86 L 781.67 1065.59 L 781.96 1064.12 L 782.24 1062.44 L 782.53 1060.55 L 782.81 1058.46 L 783.09 1056.18 L 783.38 1053.70 L 783.66 1051.03 L 783.95 1048.18 L 784.23 1045.14 L 784.52 1041.94 L 784.80 1038.56 L 785.09 1035.02 L 785.37 1031.33 L 785.66 1027.48 L 785.94 1023.49 L 786.23 1019.37 L 786.51 1015.12 L 786.79 1010.75 L 787.08 1006.26 L 787.36 1001.68 L 787.65 996.99 L 787.93 992.22 L 788.22 987.38 L 788.50 982.46 L 788.79 977.48 L 789.07 972.46 L 789.36 967.39 L 789.64 962.29 L 789.93 957.16 L 790.21 952.03 L 790.50 946.89 L 790.78 941.76 L 791.06 936.64 L 791.35 931.55 L 791.63 926.50 L 791.92 921.49 L 792.20 916.53 L 792.49 911.64 L 792.77 906.82 L 793.06 902.08 L 793.34 897.43 L 793.63 892.88 L 793.91 888.44 L 794.20 884.12 L 794.48 879.92 L 794.76 875.86 L 795.05 871.93 L 795.33 868.15 L 795.62 864.53 L 795.90 861.06 L 796.19 857.77 L 796.47 854.65 L 796.76 851.71 L 797.04 848.96 L 797.33 846.40 L 797.61 844.03 L 797.90 841.87 L 798.18 839.90 L 798.47 838.15 L 798.75 836.61 L 799.03 835.29 L 799.32 834.18 L 799.60 833.29 L 799.89 832.62 L 800.17 832.17 L 800.46 831.95 L 800.74 831.95 L 801.03 832.17 L 801.31 832.62 L 801.60 833.29 L 801.88 834.18 L 802.17 835.29 L 802.45 836.61 L 802.73 838.15 L 803.02 839.90 L 803.30 841.87 L 803.59 844.03 L 803.87 846.40 L 804.16 848.96 L 804.44 851.71 L 804.73 854.65 L 805.01 857.77 L 805.30 861.06 L 805.58 864.53 L 805.87 868.15 L 806.15 871.93 L 806.44 875.86 L 806.72 879.92 L 807.00 884.12 L 807.29 888.44 L 807.57 892.88 L 807.86 897.43 L 808.14 902.08 L 808.43 906.82 L 808.71 911.64 L 809.00 916.53 L 809.28 921.49 L 809.57 926.50 L 809.85 931.55 L 810.14 936.64 L 810.42 941.76 L 810.70 946.89 L 810.99 952.03 L 811.27 957.16 L 811.56 962.29 L 811.84 967.39 L 812.13 972.46 L 812.41 977.48 L 812.70 982.46 L 812.98 987.38 L 813.27 992.22 L 813.55 996.99 L 813.84 1001.68 L 814.12 1006.26 L 814.41 1010.75 L 814.69 1015.12 L 814.97 1019.37 L 815.26 1023.49 L 815.54 1027.48 L 815.83 1031.33 L 816.11 1035.02 L 816.40 1038.56 L 816.68 1041.94 L 816.97 1045.14 L 817.25 1048.18 L 817.54 1051.03 L 817.82 1053.70 L 818.11 1056.18 L 818.39 1058.46 L 818.67 1060.55 L 818.96 1062.44 L 819.24 1064.12 L 819.53 1065.59 L 819.81 1066.86 L 820.10 1067.91 L 820.38 1068.75 L 820.67 1069.38 L 820.95 1069.79 L 821.24 1069.99 L 821.52 1069.97 L 821.81 1069.73 L 822.09 1069.28 L 822.37 1068.62 L 822.66 1067.75 L 822.94 1066.67 L 823.23 1065.39 L 823.51 1063.90 L 823.80 1062.21 L 824.08 1060.32 L 824.37 1058.24 L 824.65 1055.98 L 824.94 1053.53 L 825.22 1050.90 L 825.51 1048.10 L 825.79 1045.13 L 826.08 1042.00 L 826.36 1038.71 L 826.64 1035.28 L 826.93 1031.70 L 827.21 1027.99 L 827.50 1024.16 L 827.78 1020.20 L 828.07 1016.13 L 828.35 1011.96 L 828.64 1007.69 L 828.92 1003.33 L 829.21 998.89 L 829.49 994.38 L 829.78 989.81 L 830.06 985.19 L 830.34 980.52 L 830.63 975.82 L 830.91 971.09 L 831.20 966.34 L 831.48 961.58 L 831.77 956.82 L 832.05 952.07 L 832.34 947.34 L 832.62 942.64 L 832.91 937.97 L 833.19 933.34 L 833.48 928.77 L 833.76 924.25 L 834.05 919.81 L 834.33 915.44 L 834.61 911.16 L 834.90 906.97 L 835.18 902.88 L 835.47 898.90 L 835.75 895.03 L 836.04 891.28 L 836.32 887.66 L 836.61 884.18 L 836.89 880.83 L 837.18 877.63 L 837.46 874.59 L 837.75 871.70 L 838.03 868.97 L 838.31 866.40 L 838.60 864.01 L 838.88 861.79 L 839.17 859.75 L 839.45 857.89 L 839.74 856.21 L 840.02 854.71 L 840.31 853.41 L 840.59 852.29 L 840.88 851.37 L 841.16 850.63 L 841.45 850.09 L 841.73 849.74 L 842.02 849.58 L 842.30 849.62 L 842.58 849.84 L 842.87 850.26 L 843.15 850.86 L 843.44 851.65 L 843.72 852.62 L 844.01 853.78 L 844.29 855.11 L 844.58 856.62 L 844.86 858.29 L 845.15 860.14 L 845.43 862.15 L 845.72 864.32 L 846.00 866.64 L 846.28 869.11 L 846.57 871.72 L 846.85 874.48 L 847.14 877.36 L 847.42 880.37 L 847.71 883.50 L 847.99 886.75 L 848.28 890.10 L 848.56 893.55 L 848.85 897.09 L 849.13 900.72 L 849.42 904.43 L 849.70 908.21 L 849.98 912.05 L 850.27 915.96 L 850.55 919.91 L 850.84 923.90 L 851.12 927.92 L 851.41 931.97 L 851.69 936.04 L 851.98 940.12 L 852.26 944.20 L 852.55 948.28 L 852.83 952.34 L 853.12 956.39 L 853.40 960.40 L 853.69 964.39 L 853.97 968.33 L 854.25 972.22 L 854.54 976.05 L 854.82 979.82 L 855.11 983.52 L 855.39 987.15 L 855.68 990.69 L 855.96 994.14 L 856.25 997.50 L 856.53 1000.76 L 856.82 1003.91 L 857.10 1006.95 L 857.39 1009.87 L 857.67 1012.67 L 857.95 1015.35 L 858.24 1017.89 L 858.52 1020.30 L 858.81 1022.58 L 859.09 1024.71 L 859.38 1026.69 L 859.66 1028.53 L 859.95 1030.22 L 860.23 1031.76 L 860.52 1033.14 L 860.80 1034.37 L 861.09 1035.44 L 861.37 1036.35 L 861.66 1037.11 L 861.94 1037.70 L 862.22 1038.13 L 862.51 1038.41 L 862.79 1038.52 L 863.08 1038.48 L 863.36 1038.28 L 863.65 1037.93 L 863.93 1037.42 L 864.22 1036.76 L 864.50 1035.95 L 864.79 1034.99 L 865.07 1033.89 L 865.36 1032.64 L 865.64 1031.26 L 865.92 1029.74 L 866.21 1028.09 L 866.49 1026.32 L 866.78 1024.42 L 867.06 1022.41 L 867.35 1020.28 L 867.63 1018.04 L 867.92 1015.69 L 868.20 1013.25 L 868.49 1010.72 L 868.77 1008.09 L 869.06 1005.38 L 869.34 1002.60 L 869.63 999.74 L 869.91 996.82 L 870.19 993.84 L 870.48 990.80 L 870.76 987.72 L 871.05 984.60 L 871.33 981.44 L 871.62 978.25 L 871.90 975.04 L 872.19 971.81 L 872.47 968.57 L 872.76 965.33 L 873.04 962.09 L 873.33 958.86 L 873.61 955.64 L 873.89 952.44 L 874.18 949.27 L 874.46 946.13 L 874.75 943.02 L 875.03 939.96 L 875.32 936.94 L 875.60 933.98 L 875.89 931.08 L 876.17 928.24 L 876.46 925.47 L 876.74 922.77 L 877.03 920.15 L 877.31 917.62 L 877.60 915.16 L 877.88 912.80 L 878.16 910.53 L 878.45 908.36 L 878.73 906.29 L 879.02 904.32 L 879.30 902.46 L 879.59 900.71 L 879.87 899.07 L 880.16 897.54 L 880.44 896.13 L 880.73 894.84 L 881.01 893.67 L 881.30 892.61 L 881.58 891.68 L 881.86 890.87 L 882.15 890.18 L 882.43 889.61 L 882.72 889.17 L 883.00 888.84 L 883.29 888.65 L 883.57 888.57 L 883.86 888.61 L 884.14 888.77 L 884.43 889.05 L 884.71 889.45 L 885.00 889.96 L 885.28 890.59 L 885.56 891.32 L 885.85 892.16 L 886.13 893.11 L 886.42 894.17 L 886.70 895.32 L 886.99 896.57 L 887.27 897.91 L 887.56 899.35 L 887.84 900.87 L 888.13 902.48 L 888.41 904.16 L 888.70 905.92 L 888.98 907.76 L 889.27 909.66 L 889.55 911.62 L 889.83 913.65 L 890.12 915.73 L 890.40 917.86 L 890.69 920.03 L 890.97 922.25 L 891.26 924.50 L 891.54 926.79 L 891.83 929.11 L 892.11 931.44 L 892.40 933.80 L 892.68 936.17 L 892.97 938.55 L 893.25 940.94 L 893.53 943.32 L 893.82 945.70 L 894.10 948.07 L 894.39 950.43 L 894.67 952.78 L 894.96 955.10 L 895.24 957.39 L 895.53 959.65 L 895.81 961.89 L 896.10 964.08 L 896.38 966.23 L 896.67 968.34 L 896.95 970.39 L 897.24 972.40 L 897.52 974.35 L 897.80 976.24 L 898.09 978.07 L 898.37 979.84 L 898.66 981.54 L 898.94 983.17 L 899.23 984.72 L 899.51 986.21 L 899.80 987.61 L 900.08 988.94 L 900.37 990.19 L 900.65 991.36 L 900.94 992.45 L 901.22 993.45 L 901.50 994.36 L 901.79 995.19 L 902.07 995.94 L 902.36 996.60 L 902.64 997.17 L 902.93 997.65 L 903.21 998.04 L 903.50 998.35 L 903.78 998.57 L 904.07 998.70 L 904.35 998.75 L 904.64 998.72 L 904.92 998.59 L 905.21 998.39 L 905.49 998.10 L 905.77 997.74 L 906.06 997.29 L 906.34 996.77 L 906.63 996.17 L 906.91 995.50 L 907.20 994.76 L 907.48 993.95 L 907.77 993.07 L 908.05 992.13 L 908.34 991.13 L 908.62 990.06 L 908.91 988.94 L 909.19 987.77 L 909.47 986.54 L 909.76 985.27 L 910.04 983.95 L 910.33 982.59 L 910.61 981.19 L 910.90 979.75 L 911.18 978.28 L 911.47 976.79 L 911.75 975.26 L 912.04 973.71 L 912.32 972.14 L 912.61 970.55 L 912.89 968.95 L 913.18 967.34 L 913.46 965.72 L 913.74 964.10 L 914.03 962.47 L 914.31 960.85 L 914.60 959.23 L 914.88 957.62 L 915.17 956.02 L 915.45 954.43 L 915.74 952.86 L 916.02 951.31 L 916.31 949.78 L 916.59 948.28 L 916.88 946.80 L 917.16 945.36 L 917.44 943.94 L 917.73 942.56 L 918.01 941.22 L 918.30 939.91 L 918.58 938.65 L 918.87 937.43 L 919.15 936.25 L 919.44 935.12 L 919.72 934.04 L 920.01 933.00 L 920.29 932.02 L 920.58 931.09 L 920.86 930.21 L 921.14 929.38 L 921.43 928.61 L 921.71 927.90 L 922.00 927.24 L 922.28 926.64 L 922.57 926.10 L 922.85 925.61 L 923.14 925.18 L 923.42 924.81 L 923.71 924.50 L 923.99 924.24 L 924.28 924.05 L 924.56 923.91 L 924.85 923.82 L 925.13 923.80 L 925.41 923.83 L 925.70 923.91 L 925.98 924.05 L 926.27 924.24 L 926.55 924.48 L 926.84 924.77 L 927.12 925.12 L 927.41 925.51 L 927.69 925.94 L 927.98 926.43 L 928.26 926.96 L 928.55 927.53" stroke="#d55c61" stroke-width="3.6" fill="none" stroke-linejoin="round"/>
<path d="M 672.65 921.82 L 672.94 920.84 L 673.22 919.94 L 673.51 919.13 L 673.79 918.42 L 674.08 917.81 L 674.36 917.30 L 674.65 916.90 L 674.93 916.60 L 675.22 916.40 L 675.50 916.32 L 675.79 916.35 L 676.07 916.48 L 676.35 916.73 L 676.64 917.08 L 676.92 917.54 L 677.21 918.10 L 677.49 918.77 L 677.78 919.53 L 678.06 920.40 L 678.35 921.35 L 678.63 922.40 L 678.92 923.52 L 679.20 924.73 L 679.49 926.02 L 679.77 927.37 L 680.06 928.79 L 680.34 930.27 L 680.62 931.80 L 680.91 933.38 L 681.19 935.00 L 681.48 936.66 L 681.76 938.35 L 682.05 940.06 L 682.33 941.79 L 682.62 943.53 L 682.90 945.28 L 683.19 947.03 L 683.47 948.78 L 683.76 950.52 L 684.04 952.24 L 684.32 953.95 L 684.61 955.63 L 684.89 957.29 L 685.18 958.92 L 685.46 960.51 L 685.75 962.07 L 686.03 963.59 L 686.32 965.06 L 686.60 966.49 L 686.89 967.88 L 687.17 969.22 L 687.46 970.52 L 687.74 971.76 L 688.02 972.96 L 688.31 974.11 L 688.59 975.21 L 688.88 976.26 L 689.16 977.26 L 689.45 978.22 L 689.73 979.14 L 690.02 980.01 L 690.30 980.83 L 690.59 981.62 L 690.87 982.36 L 691.16 983.07 L 691.44 983.75 L 691.73 984.39 L 692.01 984.99 L 692.29 985.57 L 692.58 986.11 L 692.86 986.63 L 693.15 987.12 L 693.43 987.59 L 693.72 988.03 L 694.00 988.45 L 694.29 988.85 L 694.57 989.22 L 694.86 989.57 L 695.14 989.90 L 695.43 990.20 L 695.71 990.48 L 695.99 990.74 L 696.28 990.97 L 696.56 991.17 L 696.85 991.35 L 697.13 991.49 L 697.42 991.60 L 697.70 991.68 L 697.99 991.71 L 698.27 991.71 L 698.56 991.66 L 698.84 991.56 L 699.13 991.42 L 699.41 991.21 L 699.70 990.96 L 699.98 990.64 L 700.26 990.25 L 700.55 989.80 L 700.83 989.28 L 701.12 988.68 L 701.40 988.01 L 701.69 987.25 L 701.97 986.41 L 702.26 985.48 L 702.54 984.47 L 702.83 983.36 L 703.11 982.16 L 703.40 980.87 L 703.68 979.48 L 703.96 978.00 L 704.25 976.42 L 704.53 974.74 L 704.82 972.97 L 705.10 971.10 L 705.39 969.14 L 705.67 967.09 L 705.96 964.95 L 706.24 962.73 L 706.53 960.42 L 706.81 958.04 L 707.10 955.59 L 707.38 953.06 L 707.67 950.48 L 707.95 947.84 L 708.23 945.14 L 708.52 942.41 L 708.80 939.64 L 709.09 936.84 L 709.37 934.02 L 709.66 931.18 L 709.94 928.34 L 710.23 925.51 L 710.51 922.69 L 710.80 919.89 L 711.08 917.12 L 711.37 914.40 L 711.65 911.72 L 711.93 909.10 L 712.22 906.55 L 712.50 904.08 L 712.79 901.69 L 713.07 899.39 L 713.36 897.20 L 713.64 895.12 L 713.93 893.16 L 714.21 891.32 L 714.50 889.61 L 714.78 888.04 L 715.07 886.62 L 715.35 885.35 L 715.64 884.24 L 715.92 883.28 L 716.20 882.49 L 716.49 881.86 L 716.77 881.41 L 717.06 881.13 L 717.34 881.02 L 717.63 881.09 L 717.91 881.33 L 718.20 881.75 L 718.48 882.34 L 718.77 883.10 L 719.05 884.04 L 719.34 885.14 L 719.62 886.40 L 719.90 887.83 L 720.19 889.41 L 720.47 891.15 L 720.76 893.02 L 721.04 895.04 L 721.33 897.20 L 721.61 899.48 L 721.90 901.88 L 722.18 904.39 L 722.47 907.01 L 722.75 909.73 L 723.04 912.54 L 723.32 915.43 L 723.60 918.40 L 723.89 921.43 L 724.17 924.52 L 724.46 927.66 L 724.74 930.84 L 725.03 934.06 L 725.31 937.30 L 725.60 940.56 L 725.88 943.83 L 726.17 947.10 L 726.45 950.37 L 726.74 953.63 L 727.02 956.87 L 727.31 960.09 L 727.59 963.28 L 727.87 966.43 L 728.16 969.53 L 728.44 972.60 L 728.73 975.61 L 729.01 978.56 L 729.30 981.46 L 729.58 984.29 L 729.87 987.06 L 730.15 989.75 L 730.44 992.37 L 730.72 994.92 L 731.01 997.39 L 731.29 999.78 L 731.57 1002.09 L 731.86 1004.31 L 732.14 1006.45 L 732.43 1008.51 L 732.71 1010.48 L 733.00 1012.37 L 733.28 1014.16 L 733.57 1015.87 L 733.85 1017.49 L 734.14 1019.02 L 734.42 1020.47 L 734.71 1021.82 L 734.99 1023.08 L 735.28 1024.26 L 735.56 1025.34 L 735.84 1026.33 L 736.13 1027.23 L 736.41 1028.03 L 736.70 1028.74 L 736.98 1029.36 L 737.27 1029.88 L 737.55 1030.30 L 737.84 1030.63 L 738.12 1030.86 L 738.41 1030.98 L 738.69 1031.00 L 738.98 1030.92 L 739.26 1030.73 L 739.54 1030.43 L 739.83 1030.03 L 740.11 1029.50 L 740.40 1028.87 L 740.68 1028.11 L 740.97 1027.24 L 741.25 1026.25 L 741.54 1025.13 L 741.82 1023.89 L 742.11 1022.52 L 742.39 1021.02 L 742.68 1019.40 L 742.96 1017.64 L 743.25 1015.75 L 743.53 1013.72 L 743.81 1011.56 L 744.10 1009.27 L 744.38 1006.85 L 744.67 1004.29 L 744.95 1001.60 L 745.24 998.78 L 745.52 995.83 L 745.81 992.75 L 746.09 989.55 L 746.38 986.23 L 746.66 982.79 L 746.95 979.24 L 747.23 975.58 L 747.51 971.82 L 747.80 967.97 L 748.08 964.02 L 748.37 959.99 L 748.65 955.89 L 748.94 951.71 L 749.22 947.48 L 749.51 943.19 L 749.79 938.87 L 750.08 934.51 L 750.36 930.13 L 750.65 925.74 L 750.93 921.34 L 751.22 916.96 L 751.50 912.59 L 751.78 908.26 L 752.07 903.97 L 752.35 899.74 L 752.64 895.57 L 752.92 891.49 L 753.21 887.49 L 753.49 883.59 L 753.78 879.81 L 754.06 876.15 L 754.35 872.62 L 754.63 869.24 L 754.92 866.02 L 755.20 862.96 L 755.48 860.08 L 755.77 857.39 L 756.05 854.88 L 756.34 852.58 L 756.62 850.49 L 756.91 848.61 L 757.19 846.96 L 757.48 845.53 L 757.76 844.34 L 758.05 843.39 L 758.33 842.67 L 758.62 842.20 L 758.90 841.97 L 759.18 841.99 L 759.47 842.26 L 759.75 842.78 L 760.04 843.54 L 760.32 844.54 L 760.61 845.79 L 760.89 847.27 L 761.18 848.99 L 761.46 850.94 L 761.75 853.11 L 762.03 855.50 L 762.32 858.10 L 762.60 860.91 L 762.89 863.91 L 763.17 867.10 L 763.45 870.47 L 763.74 874.01 L 764.02 877.71 L 764.31 881.56 L 764.59 885.55 L 764.88 889.68 L 765.16 893.92 L 765.45 898.27 L 765.73 902.72 L 766.02 907.25 L 766.30 911.86 L 766.59 916.54 L 766.87 921.26 L 767.15 926.03 L 767.44 930.84 L 767.72 935.66 L 768.01 940.49 L 768.29 945.32 L 768.58 950.15 L 768.86 954.95 L 769.15 959.72 L 769.43 964.46 L 769.72 969.15 L 770.00 973.78 L 770.29 978.35 L 770.57 982.85 L 770.86 987.27 L 771.14 991.61 L 771.42 995.85 L 771.71 1000.00 L 771.99 1004.04 L 772.28 1007.97 L 772.56 1011.79 L 772.85 1015.50 L 773.13 1019.08 L 773.42 1022.54 L 773.70 1025.86 L 773.99 1029.06 L 774.27 1032.12 L 774.56 1035.04 L 774.84 1037.82 L 775.12 1040.46 L 775.41 1042.95 L 775.69 1045.30 L 775.98 1047.51 L 776.26 1049.56 L 776.55 1051.47 L 776.83 1053.22 L 777.12 1054.83 L 777.40 1056.28 L 777.69 1057.58 L 777.97 1058.72 L 778.26 1059.71 L 778.54 1060.55 L 778.83 1061.22 L 779.11 1061.75 L 779.39 1062.11 L 779.68 1062.32 L 779.96 1062.36 L 780.25 1062.25 L 780.53 1061.98 L 780.82 1061.54 L 781.10 1060.95 L 781.39 1060.19 L 781.67 1059.27 L 781.96 1058.19 L 782.24 1056.94 L 782.53 1055.53 L 782.81 1053.95 L 783.09 1052.21 L 783.38 1050.30 L 783.66 1048.23 L 783.95 1046.00 L 784.23 1043.60 L 784.52 1041.04 L 784.80 1038.31 L 785.09 1035.43 L 785.37 1032.38 L 785.66 1029.18 L 785.94 1025.82 L 786.23 1022.31 L 786.51 1018.65 L 786.79 1014.85 L 787.08 1010.90 L 787.36 1006.82 L 787.65 1002.60 L 787.93 998.25 L 788.22 993.79 L 788.50 989.20 L 788.79 984.51 L 789.07 979.72 L 789.36 974.83 L 789.64 969.85 L 789.93 964.80 L 790.21 959.68 L 790.50 954.50 L 790.78 949.27 L 791.06 944.00 L 791.35 938.70 L 791.63 933.39 L 791.92 928.07 L 792.20 922.76 L 792.49 917.46 L 792.77 912.20 L 793.06 906.98 L 793.34 901.81 L 793.63 896.71 L 793.91 891.69 L 794.20 886.76 L 794.48 881.94 L 794.76 877.24 L 795.05 872.66 L 795.33 868.23 L 795.62 863.96 L 795.90 859.84 L 796.19 855.91 L 796.47 852.16 L 796.76 848.62 L 797.04 845.28 L 797.33 842.16 L 797.61 839.26 L 797.90 836.60 L 798.18 834.19 L 798.47 832.02 L 798.75 830.11 L 799.03 828.47 L 799.32 827.09 L 799.60 825.98 L 799.89 825.14 L 800.17 824.58 L 800.46 824.30 L 800.74 824.30 L 801.03 824.58 L 801.31 825.14 L 801.60 825.98 L 801.88 827.09 L 802.17 828.47 L 802.45 830.11 L 802.73 832.02 L 803.02 834.19 L 803.30 836.60 L 803.59 839.26 L 803.87 842.16 L 804.16 845.28 L 804.44 848.62 L 804.73 852.16 L 805.01 855.91 L 805.30 859.84 L 805.58 863.96 L 805.87 868.23 L 806.15 872.66 L 806.44 877.24 L 806.72 881.94 L 807.00 886.76 L 807.29 891.69 L 807.57 896.71 L 807.86 901.81 L 808.14 906.98 L 808.43 912.20 L 808.71 917.46 L 809.00 922.76 L 809.28 928.07 L 809.57 933.39 L 809.85 938.70 L 810.14 944.00 L 810.42 949.27 L 810.70 954.50 L 810.99 959.68 L 811.27 964.80 L 811.56 969.85 L 811.84 974.83 L 812.13 979.72 L 812.41 984.51 L 812.70 989.20 L 812.98 993.79 L 813.27 998.25 L 813.55 1002.60 L 813.84 1006.82 L 814.12 1010.90 L 814.41 1014.85 L 814.69 1018.65 L 814.97 1022.31 L 815.26 1025.82 L 815.54 1029.18 L 815.83 1032.38 L 816.11 1035.43 L 816.40 1038.31 L 816.68 1041.04 L 816.97 1043.60 L 817.25 1046.00 L 817.54 1048.23 L 817.82 1050.30 L 818.11 1052.21 L 818.39 1053.95 L 818.67 1055.53 L 818.96 1056.94 L 819.24 1058.19 L 819.53 1059.27 L 819.81 1060.19 L 820.10 1060.95 L 820.38 1061.54 L 820.67 1061.98 L 820.95 1062.25 L 821.24 1062.36 L 821.52 1062.32 L 821.81 1062.11 L 822.09 1061.75 L 822.37 1061.22 L 822.66 1060.55 L 822.94 1059.71 L 823.23 1058.72 L 823.51 1057.58 L 823.80 1056.28 L 824.08 1054.83 L 824.37 1053.22 L 824.65 1051.47 L 824.94 1049.56 L 825.22 1047.51 L 825.51 1045.30 L 825.79 1042.95 L 826.08 1040.46 L 826.36 1037.82 L 826.64 1035.04 L 826.93 1032.12 L 827.21 1029.06 L 827.50 1025.86 L 827.78 1022.54 L 828.07 1019.08 L 828.35 1015.50 L 828.64 1011.79 L 828.92 1007.97 L 829.21 1004.04 L 829.49 1000.00 L 829.78 995.85 L 830.06 991.61 L 830.34 987.27 L 830.63 982.85 L 830.91 978.35 L 831.20 973.78 L 831.48 969.15 L 831.77 964.46 L 832.05 959.72 L 832.34 954.95 L 832.62 950.15 L 832.91 945.32 L 833.19 940.49 L 833.48 935.66 L 833.76 930.84 L 834.05 926.03 L 834.33 921.26 L 834.61 916.54 L 834.90 911.86 L 835.18 907.25 L 835.47 902.72 L 835.75 898.27 L 836.04 893.92 L 836.32 889.68 L 836.61 885.55 L 836.89 881.56 L 837.18 877.71 L 837.46 874.01 L 837.75 870.47 L 838.03 867.10 L 838.31 863.91 L 838.60 860.91 L 838.88 858.10 L 839.17 855.50 L 839.45 853.11 L 839.74 850.94 L 840.02 848.99 L 840.31 847.27 L 840.59 845.79 L 840.88 844.54 L 841.16 843.54 L 841.45 842.78 L 841.73 842.26 L 842.02 841.99 L 842.30 841.97 L 842.58 842.20 L 842.87 842.67 L 843.15 843.39 L 843.44 844.34 L 843.72 845.53 L 844.01 846.96 L 844.29 848.61 L 844.58 850.49 L 844.86 852.58 L 845.15 854.88 L 845.43 857.39 L 845.72 860.08 L 846.00 862.96 L 846.28 866.02 L 846.57 869.24 L 846.85 872.62 L 847.14 876.15 L 847.42 879.81 L 847.71 883.59 L 847.99 887.49 L 848.28 891.49 L 848.56 895.57 L 848.85 899.74 L 849.13 903.97 L 849.42 908.26 L 849.70 912.59 L 849.98 916.96 L 850.27 921.34 L 850.55 925.74 L 850.84 930.13 L 851.12 934.51 L 851.41 938.87 L 851.69 943.19 L 851.98 947.48 L 852.26 951.71 L 852.55 955.89 L 852.83 959.99 L 853.12 964.02 L 853.40 967.97 L 853.69 971.82 L 853.97 975.58 L 854.25 979.24 L 854.54 982.79 L 854.82 986.23 L 855.11 989.55 L 855.39 992.75 L 855.68 995.83 L 855.96 998.78 L 856.25 1001.60 L 856.53 1004.29 L 856.82 1006.85 L 857.10 1009.27 L 857.39 1011.56 L 857.67 1013.72 L 857.95 1015.75 L 858.24 1017.64 L 858.52 1019.40 L 858.81 1021.02 L 859.09 1022.52 L 859.38 1023.89 L 859.66 1025.13 L 859.95 1026.25 L 860.23 1027.24 L 860.52 1028.11 L 860.80 1028.87 L 861.09 1029.50 L 861.37 1030.03 L 861.66 1030.43 L 861.94 1030.73 L 862.22 1030.92 L 862.51 1031.00 L 862.79 1030.98 L 863.08 1030.86 L 863.36 1030.63 L 863.65 1030.30 L 863.93 1029.88 L 864.22 1029.36 L 864.50 1028.74 L 864.79 1028.03 L 865.07 1027.23 L 865.36 1026.33 L 865.64 1025.34 L 865.92 1024.26 L 866.21 1023.08 L 866.49 1021.82 L 866.78 1020.47 L 867.06 1019.02 L 867.35 1017.49 L 867.63 1015.87 L 867.92 1014.16 L 868.20 1012.37 L 868.49 1010.48 L 868.77 1008.51 L 869.06 1006.45 L 869.34 1004.31 L 869.63 1002.09 L 869.91 999.78 L 870.19 997.39 L 870.48 994.92 L 870.76 992.37 L 871.05 989.75 L 871.33 987.06 L 871.62 984.29 L 871.90 981.46 L 872.19 978.56 L 872.47 975.61 L 872.76 972.60 L 873.04 969.53 L 873.33 966.43 L 873.61 963.28 L 873.89 960.09 L 874.18 956.87 L 874.46 953.63 L 874.75 950.37 L 875.03 947.10 L 875.32 943.83 L 875.60 940.56 L 875.89 937.30 L 876.17 934.06 L 876.46 930.84 L 876.74 927.66 L 877.03 924.52 L 877.31 921.43 L 877.60 918.40 L 877.88 915.43 L 878.16 912.54 L 878.45 909.73 L 878.73 907.01 L 879.02 904.39 L 879.30 901.88 L 879.59 899.48 L 879.87 897.20 L 880.16 895.04 L 880.44 893.02 L 880.73 891.15 L 881.01 889.41 L 881.30 887.83 L 881.58 886.40 L 881.86 885.14 L 882.15 884.04 L 882.43 883.10 L 882.72 882.34 L 883.00 881.75 L 883.29 881.33 L 883.57 881.09 L 883.86 881.02 L 884.14 881.13 L 884.43 881.41 L 884.71 881.86 L 885.00 882.49 L 885.28 883.28 L 885.56 884.24 L 885.85 885.35 L 886.13 886.62 L 886.42 888.04 L 886.70 889.61 L 886.99 891.32 L 887.27 893.16 L 887.56 895.12 L 887.84 897.20 L 888.13 899.39 L 888.41 901.69 L 888.70 904.08 L 888.98 906.55 L 889.27 909.10 L 889.55 911.72 L 889.83 914.40 L 890.12 917.12 L 890.40 919.89 L 890.69 922.69 L 890.97 925.51 L 891.26 928.34 L 891.54 931.18 L 891.83 934.02 L 892.11 936.84 L 892.40 939.64 L 892.68 942.41 L 892.97 945.14 L 893.25 947.84 L 893.53 950.48 L 893.82 953.06 L 894.10 955.59 L 894.39 958.04 L 894.67 960.42 L 894.96 962.73 L 895.24 964.95 L 895.53 967.09 L 895.81 969.14 L 896.10 971.10 L 896.38 972.97 L 896.67 974.74 L 896.95 976.42 L 897.24 978.00 L 897.52 979.48 L 897.80 980.87 L 898.09 982.16 L 898.37 983.36 L 898.66 984.47 L 898.94 985.48 L 899.23 986.41 L 899.51 987.25 L 899.80 988.01 L 900.08 988.68 L 900.37 989.28 L 900.65 989.80 L 900.94 990.25 L 901.22 990.64 L 901.50 990.96 L 901.79 991.21 L 902.07 991.42 L 902.36 991.56 L 902.64 991.66 L 902.93 991.71 L 903.21 991.71 L 903.50 991.68 L 903.78 991.60 L 904.07 991.49 L 904.35 991.35 L 904.64 991.17 L 904.92 990.97 L 905.21 990.74 L 905.49 990.48 L 905.77 990.20 L 906.06 989.90 L 906.34 989.57 L 906.63 989.22 L 906.91 988.85 L 907.20 988.45 L 907.48 988.03 L 907.77 987.59 L 908.05 987.12 L 908.34 986.63 L 908.62 986.11 L 908.91 985.57 L 909.19 984.99 L 909.47 984.39 L 909.76 983.75 L 910.04 983.07 L 910.33 982.36 L 910.61 981.62 L 910.90 980.83 L 911.18 980.01 L 911.47 979.14 L 911.75 978.22 L 912.04 977.26 L 912.32 976.26 L 912.61 975.21 L 912.89 974.11 L 913.18 972.96 L 913.46 971.76 L 913.74 970.52 L 914.03 969.22 L 914.31 967.88 L 914.60 966.49 L 914.88 965.06 L 915.17 963.59 L 915.45 962.07 L 915.74 960.51 L 916.02 958.92 L 916.31 957.29 L 916.59 955.63 L 916.88 953.95 L 917.16 952.24 L 917.44 950.52 L 917.73 948.78 L 918.01 947.03 L 918.30 945.28 L 918.58 943.53 L 918.87 941.79 L 919.15 940.06 L 919.44 938.35 L 919.72 936.66 L 920.01 935.00 L 920.29 933.38 L 920.58 931.80 L 920.86 930.27 L 921.14 928.79 L 921.43 927.37 L 921.71 926.02 L 922.00 924.73 L 922.28 923.52 L 922.57 922.40 L 922.85 921.35 L 923.14 920.40 L 923.42 919.53 L 923.71 918.77 L 923.99 918.10 L 924.28 917.54 L 924.56 917.08 L 924.85 916.73 L 925.13 916.48 L 925.41 916.35 L 925.70 916.32 L 925.98 916.40 L 926.27 916.60 L 926.55 916.90 L 926.84 917.30 L 927.12 917.81 L 927.41 918.42 L 927.69 919.13 L 927.98 919.94 L 928.26 920.84 L 928.55 921.82" stroke="#5e94c5" stroke-width="3.6" fill="none" stroke-linejoin="round"/>
<circle cx="154.5" cy="804.5" r="30.0" fill="#fff" stroke="#5b5b5b" stroke-width="5"/>
<circle cx="448.0" cy="804.5" r="30.0" fill="#fff" stroke="#5b5b5b" stroke-width="5"/>
<circle cx="715.4" cy="804.5" r="30.0" fill="#fff" stroke="#5b5b5b" stroke-width="5"/>
<g filter="url(#nf)">
<path d="M207.99 113.20 H211.99 V142.00 H207.99 Z M200.50 140.30 H218.40 V143.70 H200.50 Z" fill="#5b5b5b"/>
<path d="M202.10 119.61 L209.99 114.80" stroke="#5b5b5b" stroke-width="3.2" stroke-linecap="round" fill="none"/>
<path d="M153.53 788.20 H157.53 V816.80 H153.53 Z M146.20 815.10 H163.80 V818.50 H146.20 Z" fill="#5b5b5b"/>
<path d="M147.80 794.56 L155.53 789.80" stroke="#5b5b5b" stroke-width="3.2" stroke-linecap="round" fill="none"/>
<path d="M86.96 611.00 H89.26 V637.00 H86.96 Z M80.00 636.10 H95.30 V637.90 H80.00 Z" fill="#151515"/>
<path d="M80.95 616.65 L88.11 611.95" stroke="#151515" stroke-width="1.9" stroke-linecap="round" fill="none"/>
<path d="M916.16 636.80 H918.46 V662.80 H916.16 Z M909.20 661.90 H924.50 V663.70 H909.20 Z" fill="#151515"/>
<path d="M910.15 642.45 L917.31 637.75" stroke="#151515" stroke-width="1.9" stroke-linecap="round" fill="none"/>
<path d="M87.21 836.30 H89.51 V862.30 H87.21 Z M80.30 861.40 H95.50 V863.20 H80.30 Z" fill="#151515"/>
<path d="M81.25 841.95 L88.36 837.25" stroke="#151515" stroke-width="1.9" stroke-linecap="round" fill="none"/>
<rect x="65.0" y="851.80" width="10.00" height="1.8" fill="#151515"/>
<path d="M87.21 1040.00 H89.51 V1065.90 H87.21 Z M80.30 1065.00 H95.50 V1066.80 H80.30 Z" fill="#151515"/>
<path d="M81.25 1045.63 L88.36 1040.95" stroke="#151515" stroke-width="1.9" stroke-linecap="round" fill="none"/>
<rect x="65.0" y="1055.70" width="10.00" height="1.8" fill="#151515"/>
<text transform="matrix(0.46038,0.00000,0.00000,0.52000,18.01887,33.98000)" font-family="Liberation Sans" font-weight="bold" font-size="100" fill="#151515" xml:space="preserve">a</text>
<text transform="matrix(0.51683,0.00000,0.00000,0.54694,16.44059,465.75306)" font-family="Liberation Sans" font-weight="bold" font-size="100" fill="#151515" xml:space="preserve">b</text>
<text transform="matrix(0.42474,0.00000,0.00000,0.42182,90.90103,772.77818)" font-family="Liberation Sans" font-weight="bold" font-size="100" fill="#151515" xml:space="preserve">c</text>
<text transform="matrix(0.53267,0.00000,0.00000,0.41224,380.46931,773.68776)" font-family="Liberation Sans" font-weight="bold" font-size="100" fill="#151515" xml:space="preserve">d</text>
<text transform="matrix(0.49375,0.00000,0.00000,0.44727,659.02500,773.65273)" font-family="Liberation Sans" font-weight="bold" font-size="100" fill="#151515" xml:space="preserve">e</text>
<text transform="matrix(0.40217,0.00000,0.00000,0.39155,76.28913,77.10845)" font-family="Liberation Sans" font-weight="normal" font-size="100" fill="#151515" stroke="#fff" stroke-width="0.882" xml:space="preserve">6</text>
<text transform="matrix(0.38000,0.00000,0.00000,0.38696,76.65000,191.00000)" font-family="Liberation Sans" font-weight="normal" font-size="100" fill="#151515" stroke="#fff" stroke-width="0.913" xml:space="preserve">4</text>
<text transform="matrix(0.36264,0.00000,0.00000,0.39857,76.98681,305.00000)" font-family="Liberation Sans" font-weight="normal" font-size="100" fill="#151515" stroke="#fff" stroke-width="0.921" xml:space="preserve">2</text>
<text transform="matrix(0.40211,0.00000,0.00000,0.38028,76.09158,416.11972)" font-family="Liberation Sans" font-weight="normal" font-size="100" fill="#151515" stroke="#fff" stroke-width="0.895" xml:space="preserve">0</text>
<text transform="matrix(0.35824,0.00000,0.00000,0.39286,77.20879,482.80000)" font-family="Liberation Sans" font-weight="normal" font-size="100" fill="#151515" stroke="#fff" stroke-width="0.921" xml:space="preserve">2</text>
<text transform="matrix(0.38022,0.00000,0.00000,0.39000,100.49890,664.30000)" font-family="Liberation Sans" font-weight="normal" font-size="100" fill="#151515" stroke="#fff" stroke-width="0.909" xml:space="preserve">2</text>
<text transform="matrix(0.38400,0.00000,0.00000,0.39565,302.04000,664.30000)" font-family="Liberation Sans" font-weight="normal" font-size="100" fill="#151515" stroke="#fff" stroke-width="0.898" xml:space="preserve">4</text>
<text transform="matrix(0.38913,0.00000,0.00000,0.37042,507.55435,663.32958)" font-family="Liberation Sans" font-weight="normal" font-size="100" fill="#151515" stroke="#fff" stroke-width="0.921" xml:space="preserve">6</text>
<text transform="matrix(0.38936,0.00000,0.00000,0.37746,712.34787,663.42254)" font-family="Liberation Sans" font-weight="normal" font-size="100" fill="#151515" stroke="#fff" stroke-width="0.913" xml:space="preserve">8</text>
<text transform="matrix(0.50423,0.00000,0.00000,0.47527,467.13944,707.42473)" font-family="Liberation Serif" font-weight="normal" font-size="100" fill="#151515" stroke="#151515" stroke-width="0.919" xml:space="preserve">τ</text>
<text transform="matrix(0.29138,0.00000,0.00000,0.26526,487.23448,722.33474)" font-family="Liberation Serif" font-weight="normal" font-size="100" fill="#151515" stroke="#151515" stroke-width="0.866" xml:space="preserve">ω</text>
<text transform="matrix(0.40758,0.00000,0.00000,0.43957,519.55455,706.06898)" font-family="Liberation Sans" font-weight="normal" font-size="100" fill="#151515" stroke="#fff" stroke-width="0.827" xml:space="preserve">(fs)</text>
<text transform="matrix(0.49138,0.00000,0.00000,0.49895,584.63448,97.90105)" font-family="Liberation Serif" font-weight="normal" font-size="100" fill="#151515" stroke="#151515" stroke-width="0.909" xml:space="preserve">ω</text>
<text transform="matrix(0.40619,0.00000,0.00000,0.43469,630.06907,98.41224)" font-family="Liberation Sans" font-weight="normal" font-size="100" fill="#151515" stroke="#fff" stroke-width="0.833" xml:space="preserve">+</text>
<text transform="matrix(0.40879,0.00000,0.00000,0.43571,665.15604,97.30000)" font-family="Liberation Sans" font-weight="normal" font-size="100" fill="#151515" stroke="#fff" stroke-width="0.829" xml:space="preserve">2</text>
<text transform="matrix(0.49138,0.00000,0.00000,0.49895,688.53448,97.90105)" font-family="Liberation Serif" font-weight="normal" font-size="100" fill="#151515" stroke="#151515" stroke-width="0.909" xml:space="preserve">ω</text>
<text transform="matrix(0.45294,0.00000,0.00000,0.43537,732.26176,96.96463)" font-family="Liberation Sans" font-weight="normal" font-size="100" fill="#151515" stroke="#fff" stroke-width="0.788" xml:space="preserve">control</text>
<text transform="matrix(0.41212,0.00000,0.00000,0.44082,591.43942,145.45918)" font-family="Liberation Sans" font-weight="normal" font-size="100" fill="#151515" stroke="#fff" stroke-width="0.821" xml:space="preserve">CEP control</text>
<text transform="matrix(0.00000,-0.45556,0.41818,0.00000,45.71818,339.66111)" font-family="Liberation Sans" font-weight="normal" font-size="100" fill="#151515" stroke="#fff" stroke-width="0.802" xml:space="preserve">j</text>
<text transform="matrix(0.00000,-0.25376,0.23733,0.00000,61.81600,329.24194)" font-family="Liberation Sans" font-weight="normal" font-size="100" fill="#151515" stroke="#fff" stroke-width="0.921" xml:space="preserve">amp</text>
<text transform="matrix(0.00000,-0.42722,0.44813,0.00000,45.18930,267.56331)" font-family="Liberation Sans" font-weight="normal" font-size="100" fill="#151515" stroke="#fff" stroke-width="0.800" xml:space="preserve">(arb. u.)</text>
<text transform="matrix(0.42857,0.00000,0.00000,0.43286,402.05714,270.70000)" font-family="Liberation Sans" font-weight="normal" font-size="100" fill="#5b5b5b" xml:space="preserve">2</text>
<text transform="matrix(0.41915,0.00000,0.00000,0.42958,709.92340,332.07042)" font-family="Liberation Sans" font-weight="normal" font-size="100" fill="#5b5b5b" xml:space="preserve">3</text>
<text transform="matrix(0.40879,0.00000,0.00000,0.43286,436.55604,819.00000)" font-family="Liberation Sans" font-weight="normal" font-size="100" fill="#5b5b5b" xml:space="preserve">2</text>
<text transform="matrix(0.41277,0.00000,0.00000,0.42676,703.74894,818.57324)" font-family="Liberation Sans" font-weight="normal" font-size="100" fill="#5b5b5b" xml:space="preserve">3</text>
<text transform="matrix(0.47324,0.00000,0.00000,0.42151,194.01690,784.27849)" font-family="Liberation Serif" font-weight="normal" font-size="100" fill="#151515" stroke="#151515" stroke-width="1.008" xml:space="preserve">τ</text>
<text transform="matrix(0.25517,0.00000,0.00000,0.25263,212.87931,798.64737)" font-family="Liberation Serif" font-weight="normal" font-size="100" fill="#151515" stroke="#151515" stroke-width="0.791" xml:space="preserve">ω</text>
<text transform="matrix(0.47324,0.00000,0.00000,0.42151,487.31690,784.27849)" font-family="Liberation Serif" font-weight="normal" font-size="100" fill="#151515" stroke="#151515" stroke-width="1.008" xml:space="preserve">τ</text>
<text transform="matrix(0.25517,0.00000,0.00000,0.25263,506.17931,798.64737)" font-family="Liberation Serif" font-weight="normal" font-size="100" fill="#151515" stroke="#151515" stroke-width="0.791" xml:space="preserve">ω</text>
<text transform="matrix(0.47324,0.00000,0.00000,0.42151,755.11690,784.27849)" font-family="Liberation Serif" font-weight="normal" font-size="100" fill="#151515" stroke="#151515" stroke-width="1.008" xml:space="preserve">τ</text>
<text transform="matrix(0.25517,0.00000,0.00000,0.25263,773.97931,798.64737)" font-family="Liberation Serif" font-weight="normal" font-size="100" fill="#151515" stroke="#151515" stroke-width="0.791" xml:space="preserve">ω</text>
<text transform="matrix(0.36562,0.00000,0.00000,0.33878,238.87191,784.76122)" font-family="Liberation Sans" font-weight="normal" font-size="100" fill="#151515" stroke="#fff" stroke-width="0.921" xml:space="preserve">= 3 fs</text>
<text transform="matrix(0.36436,0.00000,0.00000,0.33878,533.17820,784.76122)" font-family="Liberation Sans" font-weight="normal" font-size="100" fill="#151515" stroke="#fff" stroke-width="0.921" xml:space="preserve">= 5 fs</text>
<text transform="matrix(0.36226,0.00000,0.00000,0.33878,800.48868,784.76122)" font-family="Liberation Sans" font-weight="normal" font-size="100" fill="#151515" stroke="#fff" stroke-width="0.921" xml:space="preserve">= 8 fs</text>
<text transform="matrix(0.39158,0.00000,0.00000,0.38873,76.63368,965.41127)" font-family="Liberation Sans" font-weight="normal" font-size="100" fill="#151515" stroke="#fff" stroke-width="0.897" xml:space="preserve">0</text>
<text transform="matrix(0.38375,0.00000,0.00000,0.38429,136.07313,1140.61571)" font-family="Liberation Sans" font-weight="normal" font-size="100" fill="#151515" stroke="#fff" stroke-width="0.911" xml:space="preserve">-5</text>
<text transform="matrix(0.39789,0.00000,0.00000,0.38592,221.90842,1140.61408)" font-family="Liberation Sans" font-weight="normal" font-size="100" fill="#151515" stroke="#fff" stroke-width="0.893" xml:space="preserve">0</text>
<text transform="matrix(0.39158,0.00000,0.00000,0.37429,299.13368,1140.62571)" font-family="Liberation Sans" font-weight="normal" font-size="100" fill="#151515" stroke="#fff" stroke-width="0.914" xml:space="preserve">5</text>
<text transform="matrix(0.38375,0.00000,0.00000,0.38429,429.87313,1140.61571)" font-family="Liberation Sans" font-weight="normal" font-size="100" fill="#151515" stroke="#fff" stroke-width="0.911" xml:space="preserve">-5</text>
<text transform="matrix(0.39789,0.00000,0.00000,0.38592,515.70842,1140.61408)" font-family="Liberation Sans" font-weight="normal" font-size="100" fill="#151515" stroke="#fff" stroke-width="0.893" xml:space="preserve">0</text>
<text transform="matrix(0.39158,0.00000,0.00000,0.37429,592.93368,1140.62571)" font-family="Liberation Sans" font-weight="normal" font-size="100" fill="#151515" stroke="#fff" stroke-width="0.914" xml:space="preserve">5</text>
<text transform="matrix(0.38375,0.00000,0.00000,0.38429,704.07313,1140.61571)" font-family="Liberation Sans" font-weight="normal" font-size="100" fill="#151515" stroke="#fff" stroke-width="0.911" xml:space="preserve">-5</text>
<text transform="matrix(0.39789,0.00000,0.00000,0.38592,789.90842,1140.61408)" font-family="Liberation Sans" font-weight="normal" font-size="100" fill="#151515" stroke="#fff" stroke-width="0.893" xml:space="preserve">0</text>
<text transform="matrix(0.39158,0.00000,0.00000,0.37429,867.13368,1140.62571)" font-family="Liberation Sans" font-weight="normal" font-size="100" fill="#151515" stroke="#fff" stroke-width="0.914" xml:space="preserve">5</text>
<text transform="matrix(0.43281,0.00000,0.00000,0.44599,483.15078,1190.43422)" font-family="Liberation Sans" font-weight="normal" font-size="100" fill="#151515" stroke="#fff" stroke-width="0.797" xml:space="preserve">t (fs)</text>
<text transform="matrix(0.00000,-0.42066,0.43743,0.00000,37.91390,1085.11033)" font-family="Liberation Sans" font-weight="normal" font-size="100" fill="#151515" stroke="#fff" stroke-width="0.816" xml:space="preserve">A (V nm</text>
<text transform="matrix(0.00000,-0.25660,0.23333,0.00000,22.90000,934.45472)" font-family="Liberation Sans" font-weight="normal" font-size="100" fill="#151515" stroke="#fff" stroke-width="0.921" xml:space="preserve">-1</text>
<text transform="matrix(0.00000,-0.40276,0.44354,0.00000,38.95646,900.50414)" font-family="Liberation Sans" font-weight="normal" font-size="100" fill="#151515" stroke="#fff" stroke-width="0.828" xml:space="preserve">fs</text>
<text transform="matrix(0.00000,-0.25660,0.23333,0.00000,22.90000,858.25472)" font-family="Liberation Sans" font-weight="normal" font-size="100" fill="#151515" stroke="#fff" stroke-width="0.921" xml:space="preserve">-1</text>
<text transform="matrix(0.00000,-0.28462,0.43743,0.00000,37.91390,832.58462)" font-family="Liberation Sans" font-weight="normal" font-size="100" fill="#151515" stroke="#fff" stroke-width="0.921" xml:space="preserve">)</text>
<text transform="matrix(0.32609,0.00000,0.00000,0.33582,253.69565,857.16418)" font-family="Liberation Serif" font-weight="normal" font-size="100" fill="#5e94c5" stroke="#5e94c5" stroke-width="1.031" xml:space="preserve">ω+2ω</text>
<text transform="matrix(0.28509,0.00000,0.00000,0.28877,254.64693,894.43583)" font-family="Liberation Sans" font-weight="normal" font-size="100" fill="#5e94c5" stroke="#fff" stroke-width="0.921" xml:space="preserve">pulse</text>
<text transform="matrix(0.37759,0.00000,0.00000,0.39579,200.08966,1081.80421)" font-family="Liberation Serif" font-weight="normal" font-size="100" fill="#d55c61" stroke="#d55c61" stroke-width="1.164" xml:space="preserve">ω</text>
<text transform="matrix(0.33333,0.00000,0.00000,0.34332,234.53333,1081.09037)" font-family="Liberation Sans" font-weight="normal" font-size="100" fill="#d55c61" stroke="#fff" stroke-width="0.921" xml:space="preserve">pulse</text>
<text transform="matrix(0.00000,-0.52233,0.49385,0.00000,57.10000,556.46699)" font-family="Liberation Serif" font-weight="normal" font-size="100" fill="#151515" stroke="#151515" stroke-width="0.886" xml:space="preserve">Γ</text>
<text transform="matrix(0.38105,0.00000,0.00000,0.38169,927.17579,663.31831)" font-family="Liberation Sans" font-weight="normal" font-size="100" fill="#151515" stroke="#fff" stroke-width="0.918" xml:space="preserve">0</text>
</g>
</svg>
</body></html>
